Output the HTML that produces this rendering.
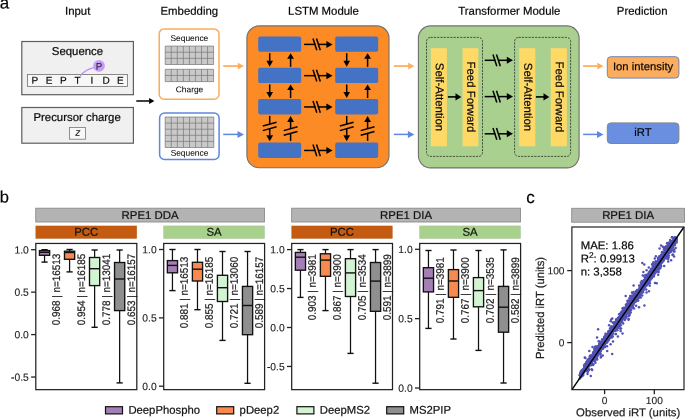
<!DOCTYPE html>
<html><head><meta charset="utf-8"><style>
html,body{margin:0;padding:0;background:#fff;width:685px;height:419px;overflow:hidden;}
svg{display:block;will-change:transform;}
text{font-family:"Liberation Sans",sans-serif;text-rendering:geometricPrecision;stroke:#1a1a1a;stroke-width:0.22px;}
</style></head><body>
<svg width="685" height="419" viewBox="0 0 685 419" font-family="Liberation Sans, sans-serif">
<text x="-0.2" y="8.6" font-size="17" text-anchor="start" fill="#000" transform="rotate(0.03 -0.2 8.6)" >a</text>
<text x="77.7" y="14.7" font-size="11.4" text-anchor="middle" fill="#000" transform="rotate(0.03 77.7 14.7)" >Input</text>
<text x="189.3" y="14.7" font-size="11.4" text-anchor="middle" fill="#000" transform="rotate(0.03 189.3 14.7)" >Embedding</text>
<text x="323.5" y="14.7" font-size="11.4" text-anchor="middle" fill="#000" transform="rotate(0.03 323.5 14.7)" >LSTM Module</text>
<text x="509.3" y="14.7" font-size="11.4" text-anchor="middle" fill="#000" transform="rotate(0.03 509.3 14.7)" >Transformer Module</text>
<text x="642.2" y="14.7" font-size="11.4" text-anchor="middle" fill="#000" transform="rotate(0.03 642.2 14.7)" >Prediction</text>
<rect x="21.80" y="41.50" width="111.60" height="53.20" rx="0" fill="#f0f0f0" stroke="#5e5e5e" stroke-width="1.2" />
<text x="77.5" y="55.0" font-size="11.4" text-anchor="middle" fill="#000" transform="rotate(0.03 77.5 55.0)" >Sequence</text>
<rect x="27.40" y="74.50" width="100.10" height="11.90" rx="0" fill="#f7f7f7" stroke="#777" stroke-width="0.85" />
<text x="34.75" y="83.8" font-size="10" text-anchor="middle" fill="#000" style="stroke-width:0.2px" transform="rotate(0.03 34.75 83.8)" >P</text>
<text x="49.02" y="83.8" font-size="10" text-anchor="middle" fill="#000" style="stroke-width:0.2px" transform="rotate(0.03 49.02 83.8)" >E</text>
<text x="63.29" y="83.8" font-size="10" text-anchor="middle" fill="#000" style="stroke-width:0.2px" transform="rotate(0.03 63.29 83.8)" >P</text>
<text x="77.56" y="83.8" font-size="10" text-anchor="middle" fill="#000" style="stroke-width:0.2px" transform="rotate(0.03 77.56 83.8)" >T</text>
<text x="91.83" y="83.8" font-size="10" text-anchor="middle" fill="#000" style="stroke-width:0.2px" transform="rotate(0.03 91.83 83.8)" >I</text>
<text x="106.10" y="83.8" font-size="10" text-anchor="middle" fill="#000" style="stroke-width:0.2px" transform="rotate(0.03 106.10 83.8)" >D</text>
<text x="120.37" y="83.8" font-size="10" text-anchor="middle" fill="#000" style="stroke-width:0.2px" transform="rotate(0.03 120.37 83.8)" >E</text>
<path d="M80.2,76 Q85,69.5 93.8,67.6" fill="none" stroke="#bd8ef2" stroke-width="1.3"/>
<circle cx="99" cy="65.95" r="5.9" fill="#c79cf6"/>
<text x="99.0" y="69.8" font-size="9.7" text-anchor="middle" fill="#111" style="stroke-width:0.0px" transform="rotate(0.03 99.0 69.8)" >P</text>
<rect x="21.80" y="107.50" width="111.60" height="35.70" rx="0" fill="#f0f0f0" stroke="#5e5e5e" stroke-width="1.2" />
<text x="77.1" y="121.1" font-size="11.4" text-anchor="middle" fill="#000" transform="rotate(0.03 77.1 121.1)" >Precursor charge</text>
<rect x="69.50" y="127.40" width="16.00" height="11.80" rx="0" fill="#f8f8f8" stroke="#777" stroke-width="0.8" />
<text x="77.8" y="135.8" font-size="10.4" text-anchor="middle" fill="#111" style="stroke-width:0.12px" transform="rotate(0.03 77.8 135.8)" font-style="italic">z</text>
<line x1="136.30" y1="101.00" x2="149.60" y2="101.00" stroke="#000" stroke-width="1.5" />
<polygon points="149.10,97.90 154.40,101.00 149.10,104.10" fill="#000"/>
<rect x="159.20" y="28.90" width="59.80" height="70.30" rx="5" fill="#fff" stroke="#fbab5c" stroke-width="1.5" />
<text x="189.4" y="41.1" font-size="8.4" text-anchor="middle" fill="#000" style="stroke-width:0.05px" transform="rotate(0.03 189.4 41.1)" >Sequence</text>
<rect x="165.20" y="46.10" width="48.40" height="18.40" rx="0" fill="#c9c9c9" stroke="none" stroke-width="1" />
<line x1="165.20" y1="46.10" x2="165.20" y2="64.50" stroke="#7b7b7b" stroke-width="0.75" />
<line x1="171.25" y1="46.10" x2="171.25" y2="64.50" stroke="#7b7b7b" stroke-width="0.75" />
<line x1="177.30" y1="46.10" x2="177.30" y2="64.50" stroke="#7b7b7b" stroke-width="0.75" />
<line x1="183.35" y1="46.10" x2="183.35" y2="64.50" stroke="#7b7b7b" stroke-width="0.75" />
<line x1="189.40" y1="46.10" x2="189.40" y2="64.50" stroke="#7b7b7b" stroke-width="0.75" />
<line x1="195.45" y1="46.10" x2="195.45" y2="64.50" stroke="#7b7b7b" stroke-width="0.75" />
<line x1="201.50" y1="46.10" x2="201.50" y2="64.50" stroke="#7b7b7b" stroke-width="0.75" />
<line x1="207.55" y1="46.10" x2="207.55" y2="64.50" stroke="#7b7b7b" stroke-width="0.75" />
<line x1="213.60" y1="46.10" x2="213.60" y2="64.50" stroke="#7b7b7b" stroke-width="0.75" />
<line x1="165.20" y1="46.10" x2="213.60" y2="46.10" stroke="#7b7b7b" stroke-width="0.75" />
<line x1="165.20" y1="52.23" x2="213.60" y2="52.23" stroke="#7b7b7b" stroke-width="0.75" />
<line x1="165.20" y1="58.37" x2="213.60" y2="58.37" stroke="#7b7b7b" stroke-width="0.75" />
<line x1="165.20" y1="64.50" x2="213.60" y2="64.50" stroke="#7b7b7b" stroke-width="0.75" />
<rect x="165.20" y="69.30" width="48.40" height="12.30" rx="0" fill="#c9c9c9" stroke="none" stroke-width="1" />
<line x1="165.20" y1="69.30" x2="165.20" y2="81.60" stroke="#7b7b7b" stroke-width="0.75" />
<line x1="171.25" y1="69.30" x2="171.25" y2="81.60" stroke="#7b7b7b" stroke-width="0.75" />
<line x1="177.30" y1="69.30" x2="177.30" y2="81.60" stroke="#7b7b7b" stroke-width="0.75" />
<line x1="183.35" y1="69.30" x2="183.35" y2="81.60" stroke="#7b7b7b" stroke-width="0.75" />
<line x1="189.40" y1="69.30" x2="189.40" y2="81.60" stroke="#7b7b7b" stroke-width="0.75" />
<line x1="195.45" y1="69.30" x2="195.45" y2="81.60" stroke="#7b7b7b" stroke-width="0.75" />
<line x1="201.50" y1="69.30" x2="201.50" y2="81.60" stroke="#7b7b7b" stroke-width="0.75" />
<line x1="207.55" y1="69.30" x2="207.55" y2="81.60" stroke="#7b7b7b" stroke-width="0.75" />
<line x1="213.60" y1="69.30" x2="213.60" y2="81.60" stroke="#7b7b7b" stroke-width="0.75" />
<line x1="165.20" y1="69.30" x2="213.60" y2="69.30" stroke="#7b7b7b" stroke-width="0.75" />
<line x1="165.20" y1="75.45" x2="213.60" y2="75.45" stroke="#7b7b7b" stroke-width="0.75" />
<line x1="165.20" y1="81.60" x2="213.60" y2="81.60" stroke="#7b7b7b" stroke-width="0.75" />
<text x="189.5" y="92.2" font-size="8.4" text-anchor="middle" fill="#000" style="stroke-width:0.05px" transform="rotate(0.03 189.5 92.2)" >Charge</text>
<rect x="159.60" y="113.10" width="59.50" height="46.30" rx="5" fill="#fff" stroke="#5d88e0" stroke-width="1.5" />
<rect x="165.20" y="117.00" width="48.60" height="30.50" rx="0" fill="#c9c9c9" stroke="none" stroke-width="1" />
<line x1="165.20" y1="117.00" x2="165.20" y2="147.50" stroke="#7b7b7b" stroke-width="0.75" />
<line x1="171.27" y1="117.00" x2="171.27" y2="147.50" stroke="#7b7b7b" stroke-width="0.75" />
<line x1="177.35" y1="117.00" x2="177.35" y2="147.50" stroke="#7b7b7b" stroke-width="0.75" />
<line x1="183.43" y1="117.00" x2="183.43" y2="147.50" stroke="#7b7b7b" stroke-width="0.75" />
<line x1="189.50" y1="117.00" x2="189.50" y2="147.50" stroke="#7b7b7b" stroke-width="0.75" />
<line x1="195.57" y1="117.00" x2="195.57" y2="147.50" stroke="#7b7b7b" stroke-width="0.75" />
<line x1="201.65" y1="117.00" x2="201.65" y2="147.50" stroke="#7b7b7b" stroke-width="0.75" />
<line x1="207.73" y1="117.00" x2="207.73" y2="147.50" stroke="#7b7b7b" stroke-width="0.75" />
<line x1="213.80" y1="117.00" x2="213.80" y2="147.50" stroke="#7b7b7b" stroke-width="0.75" />
<line x1="165.20" y1="117.00" x2="213.80" y2="117.00" stroke="#7b7b7b" stroke-width="0.75" />
<line x1="165.20" y1="123.10" x2="213.80" y2="123.10" stroke="#7b7b7b" stroke-width="0.75" />
<line x1="165.20" y1="129.20" x2="213.80" y2="129.20" stroke="#7b7b7b" stroke-width="0.75" />
<line x1="165.20" y1="135.30" x2="213.80" y2="135.30" stroke="#7b7b7b" stroke-width="0.75" />
<line x1="165.20" y1="141.40" x2="213.80" y2="141.40" stroke="#7b7b7b" stroke-width="0.75" />
<line x1="165.20" y1="147.50" x2="213.80" y2="147.50" stroke="#7b7b7b" stroke-width="0.75" />
<text x="189.5" y="155.8" font-size="8.4" text-anchor="middle" fill="#000" style="stroke-width:0.05px" transform="rotate(0.03 189.5 155.8)" >Sequence</text>
<line x1="223.20" y1="66.05" x2="238.30" y2="66.05" stroke="#fdae5c" stroke-width="1.75" />
<polygon points="237.80,62.70 244.00,66.05 237.80,69.40" fill="#fdae5c"/>
<line x1="223.20" y1="134.40" x2="238.00" y2="134.40" stroke="#5d88e0" stroke-width="1.5" />
<polygon points="237.50,130.90 244.00,134.40 237.50,137.90" fill="#5d88e0"/>
<line x1="393.90" y1="66.05" x2="408.70" y2="66.05" stroke="#fdae5c" stroke-width="1.75" />
<polygon points="408.20,62.70 414.40,66.05 408.20,69.40" fill="#fdae5c"/>
<line x1="393.90" y1="134.40" x2="408.40" y2="134.40" stroke="#5d88e0" stroke-width="1.5" />
<polygon points="407.90,130.90 414.40,134.40 407.90,137.90" fill="#5d88e0"/>
<line x1="583.10" y1="66.05" x2="597.80" y2="66.05" stroke="#fdae5c" stroke-width="1.75" />
<polygon points="597.30,62.70 603.50,66.05 597.30,69.40" fill="#fdae5c"/>
<line x1="583.10" y1="134.40" x2="597.50" y2="134.40" stroke="#5d88e0" stroke-width="1.5" />
<polygon points="597.00,130.90 603.50,134.40 597.00,137.90" fill="#5d88e0"/>
<rect x="246.90" y="25.90" width="142.10" height="141.80" rx="12.3" fill="#fd8b25" stroke="#707070" stroke-width="1.1" />
<rect x="258.20" y="36.40" width="43.00" height="15.40" rx="1.8" fill="#4472c4" stroke="none" stroke-width="1" />
<rect x="258.20" y="67.70" width="43.00" height="15.30" rx="1.8" fill="#4472c4" stroke="none" stroke-width="1" />
<rect x="258.20" y="98.90" width="43.00" height="15.50" rx="1.8" fill="#4472c4" stroke="none" stroke-width="1" />
<rect x="258.20" y="142.40" width="43.00" height="15.50" rx="1.8" fill="#4472c4" stroke="none" stroke-width="1" />
<rect x="335.20" y="36.40" width="43.00" height="15.40" rx="1.8" fill="#4472c4" stroke="none" stroke-width="1" />
<rect x="335.20" y="67.70" width="43.00" height="15.30" rx="1.8" fill="#4472c4" stroke="none" stroke-width="1" />
<rect x="335.20" y="98.90" width="43.00" height="15.50" rx="1.8" fill="#4472c4" stroke="none" stroke-width="1" />
<rect x="335.20" y="142.40" width="43.00" height="15.50" rx="1.8" fill="#4472c4" stroke="none" stroke-width="1" />
<line x1="269.70" y1="53.20" x2="269.70" y2="61.30" stroke="#000" stroke-width="1.5" />
<polygon points="266.40,60.80 269.70,66.80 273.00,60.80" fill="#000"/>
<line x1="290.60" y1="66.80" x2="290.60" y2="58.30" stroke="#000" stroke-width="1.5" />
<polygon points="287.20,58.80 290.60,53.20 294.00,58.80" fill="#000"/>
<line x1="269.70" y1="84.40" x2="269.70" y2="92.50" stroke="#000" stroke-width="1.5" />
<polygon points="266.40,92.00 269.70,98.00 273.00,92.00" fill="#000"/>
<line x1="290.60" y1="98.00" x2="290.60" y2="89.50" stroke="#000" stroke-width="1.5" />
<polygon points="287.20,90.00 290.60,84.40 294.00,90.00" fill="#000"/>
<line x1="269.70" y1="115.90" x2="269.70" y2="124.10" stroke="#000" stroke-width="1.5" />
<line x1="269.70" y1="128.70" x2="269.70" y2="135.80" stroke="#000" stroke-width="1.5" />
<polygon points="266.30,135.30 269.70,141.30 273.10,135.30" fill="#000"/>
<line x1="262.80" y1="126.00" x2="276.60" y2="122.20" stroke="#000" stroke-width="1.5" />
<line x1="262.80" y1="130.60" x2="276.60" y2="126.80" stroke="#000" stroke-width="1.5" />
<line x1="290.60" y1="140.90" x2="290.60" y2="133.40" stroke="#000" stroke-width="1.5" />
<line x1="290.60" y1="128.70" x2="290.60" y2="121.50" stroke="#000" stroke-width="1.5" />
<polygon points="287.20,122.00 290.60,116.00 294.00,122.00" fill="#000"/>
<line x1="283.70" y1="130.60" x2="297.50" y2="126.80" stroke="#000" stroke-width="1.5" />
<line x1="283.70" y1="135.30" x2="297.50" y2="131.50" stroke="#000" stroke-width="1.5" />
<line x1="346.70" y1="53.20" x2="346.70" y2="61.30" stroke="#000" stroke-width="1.5" />
<polygon points="343.40,60.80 346.70,66.80 350.00,60.80" fill="#000"/>
<line x1="367.60" y1="66.80" x2="367.60" y2="58.30" stroke="#000" stroke-width="1.5" />
<polygon points="364.20,58.80 367.60,53.20 371.00,58.80" fill="#000"/>
<line x1="346.70" y1="84.40" x2="346.70" y2="92.50" stroke="#000" stroke-width="1.5" />
<polygon points="343.40,92.00 346.70,98.00 350.00,92.00" fill="#000"/>
<line x1="367.60" y1="98.00" x2="367.60" y2="89.50" stroke="#000" stroke-width="1.5" />
<polygon points="364.20,90.00 367.60,84.40 371.00,90.00" fill="#000"/>
<line x1="346.70" y1="115.90" x2="346.70" y2="124.10" stroke="#000" stroke-width="1.5" />
<line x1="346.70" y1="128.70" x2="346.70" y2="135.80" stroke="#000" stroke-width="1.5" />
<polygon points="343.30,135.30 346.70,141.30 350.10,135.30" fill="#000"/>
<line x1="339.80" y1="126.00" x2="353.60" y2="122.20" stroke="#000" stroke-width="1.5" />
<line x1="339.80" y1="130.60" x2="353.60" y2="126.80" stroke="#000" stroke-width="1.5" />
<line x1="367.60" y1="140.90" x2="367.60" y2="133.40" stroke="#000" stroke-width="1.5" />
<line x1="367.60" y1="128.70" x2="367.60" y2="121.50" stroke="#000" stroke-width="1.5" />
<polygon points="364.20,122.00 367.60,116.00 371.00,122.00" fill="#000"/>
<line x1="360.70" y1="130.60" x2="374.50" y2="126.80" stroke="#000" stroke-width="1.5" />
<line x1="360.70" y1="135.30" x2="374.50" y2="131.50" stroke="#000" stroke-width="1.5" />
<line x1="304.10" y1="44.40" x2="315.40" y2="44.40" stroke="#000" stroke-width="1.5" />
<line x1="318.90" y1="44.40" x2="326.90" y2="44.40" stroke="#000" stroke-width="1.5" />
<polygon points="326.40,40.90 332.60,44.40 326.40,47.90" fill="#000"/>
<line x1="313.00" y1="38.50" x2="316.80" y2="50.30" stroke="#000" stroke-width="1.5" />
<line x1="316.50" y1="38.50" x2="320.30" y2="50.30" stroke="#000" stroke-width="1.5" />
<line x1="304.10" y1="75.65" x2="315.40" y2="75.65" stroke="#000" stroke-width="1.5" />
<line x1="318.90" y1="75.65" x2="326.90" y2="75.65" stroke="#000" stroke-width="1.5" />
<polygon points="326.40,72.15 332.60,75.65 326.40,79.15" fill="#000"/>
<line x1="313.00" y1="69.75" x2="316.80" y2="81.55" stroke="#000" stroke-width="1.5" />
<line x1="316.50" y1="69.75" x2="320.30" y2="81.55" stroke="#000" stroke-width="1.5" />
<line x1="304.10" y1="106.95" x2="315.40" y2="106.95" stroke="#000" stroke-width="1.5" />
<line x1="318.90" y1="106.95" x2="326.90" y2="106.95" stroke="#000" stroke-width="1.5" />
<polygon points="326.40,103.45 332.60,106.95 326.40,110.45" fill="#000"/>
<line x1="313.00" y1="101.05" x2="316.80" y2="112.85" stroke="#000" stroke-width="1.5" />
<line x1="316.50" y1="101.05" x2="320.30" y2="112.85" stroke="#000" stroke-width="1.5" />
<line x1="304.10" y1="150.45" x2="315.40" y2="150.45" stroke="#000" stroke-width="1.5" />
<line x1="318.90" y1="150.45" x2="326.90" y2="150.45" stroke="#000" stroke-width="1.5" />
<polygon points="326.40,146.95 332.60,150.45 326.40,153.95" fill="#000"/>
<line x1="313.00" y1="144.55" x2="316.80" y2="156.35" stroke="#000" stroke-width="1.5" />
<line x1="316.50" y1="144.55" x2="320.30" y2="156.35" stroke="#000" stroke-width="1.5" />
<rect x="418.40" y="25.90" width="160.70" height="142.00" rx="12.3" fill="#a9d08e" stroke="#707070" stroke-width="1.1" />
<rect x="426.50" y="37.40" width="56.00" height="119.00" rx="4" fill="none" stroke="#2a2a2a" stroke-width="0.75" stroke-dasharray="2.2,1.1"/>
<rect x="514.60" y="37.40" width="56.00" height="119.00" rx="4" fill="none" stroke="#2a2a2a" stroke-width="0.75" stroke-dasharray="2.2,1.1"/>
<rect x="430.80" y="48.20" width="16.10" height="98.10" rx="0" fill="#ffd966" stroke="none" stroke-width="1" />
<rect x="462.60" y="48.20" width="15.70" height="98.10" rx="0" fill="#ffd966" stroke="none" stroke-width="1" />
<rect x="519.20" y="48.20" width="16.10" height="98.10" rx="0" fill="#ffd966" stroke="none" stroke-width="1" />
<rect x="550.70" y="48.20" width="16.10" height="98.10" rx="0" fill="#ffd966" stroke="none" stroke-width="1" />
<text x="0" y="0" font-size="11.4" text-anchor="middle" transform="translate(435.75,97) rotate(90.03)">Self-Attention</text>
<text x="0" y="0" font-size="11.4" text-anchor="middle" transform="translate(467.35,97) rotate(90.03)">Feed Forward</text>
<text x="0" y="0" font-size="11.4" text-anchor="middle" transform="translate(524.15,97) rotate(90.03)">Self-Attention</text>
<text x="0" y="0" font-size="11.4" text-anchor="middle" transform="translate(555.65,97) rotate(90.03)">Feed Forward</text>
<line x1="447.90" y1="96.90" x2="456.00" y2="96.90" stroke="#000" stroke-width="1.6" />
<polygon points="455.50,93.30 461.30,96.90 455.50,100.50" fill="#000"/>
<line x1="535.90" y1="96.90" x2="544.00" y2="96.90" stroke="#000" stroke-width="1.6" />
<polygon points="543.50,93.30 549.30,96.90 543.50,100.50" fill="#000"/>
<line x1="484.70" y1="60.30" x2="495.40" y2="60.30" stroke="#000" stroke-width="1.5" />
<line x1="498.90" y1="60.30" x2="507.30" y2="60.30" stroke="#000" stroke-width="1.5" />
<polygon points="506.80,56.80 513.00,60.30 506.80,63.80" fill="#000"/>
<line x1="493.00" y1="54.40" x2="496.80" y2="66.20" stroke="#000" stroke-width="1.5" />
<line x1="496.50" y1="54.40" x2="500.30" y2="66.20" stroke="#000" stroke-width="1.5" />
<line x1="484.70" y1="96.60" x2="495.40" y2="96.60" stroke="#000" stroke-width="1.5" />
<line x1="498.90" y1="96.60" x2="507.30" y2="96.60" stroke="#000" stroke-width="1.5" />
<polygon points="506.80,93.10 513.00,96.60 506.80,100.10" fill="#000"/>
<line x1="493.00" y1="90.70" x2="496.80" y2="102.50" stroke="#000" stroke-width="1.5" />
<line x1="496.50" y1="90.70" x2="500.30" y2="102.50" stroke="#000" stroke-width="1.5" />
<line x1="484.70" y1="133.80" x2="495.40" y2="133.80" stroke="#000" stroke-width="1.5" />
<line x1="498.90" y1="133.80" x2="507.30" y2="133.80" stroke="#000" stroke-width="1.5" />
<polygon points="506.80,130.30 513.00,133.80 506.80,137.30" fill="#000"/>
<line x1="493.00" y1="127.90" x2="496.80" y2="139.70" stroke="#000" stroke-width="1.5" />
<line x1="496.50" y1="127.90" x2="500.30" y2="139.70" stroke="#000" stroke-width="1.5" />
<rect x="607.30" y="56.70" width="71.60" height="21.40" rx="3.5" fill="#fbac5c" stroke="#6f86b5" stroke-width="1" />
<text x="643.1" y="70.2" font-size="11.3" text-anchor="middle" fill="#000" transform="rotate(0.03 643.1 70.2)" >Ion intensity</text>
<rect x="607.30" y="122.90" width="71.60" height="20.60" rx="3.5" fill="#6a8fe0" stroke="#7f8590" stroke-width="1" />
<text x="643.0" y="135.9" font-size="11.3" text-anchor="middle" fill="#000" transform="rotate(0.03 643.0 135.9)" >iRT</text>
<text x="-0.2" y="202.6" font-size="16.5" text-anchor="start" fill="#000" transform="rotate(0.03 -0.2 202.6)" >b</text>
<rect x="35.75" y="208.20" width="228.70" height="13.80" rx="0" fill="#b3b3b3" stroke="#8c8c8c" stroke-width="0.9" />
<text x="150.1" y="218.9" font-size="11.4" text-anchor="middle" fill="#111" transform="rotate(0.03 150.1 218.9)" >RPE1 DDA</text>
<rect x="291.65" y="208.20" width="228.80" height="13.80" rx="0" fill="#b3b3b3" stroke="#8c8c8c" stroke-width="0.9" />
<text x="406.04999999999995" y="218.9" font-size="11.4" text-anchor="middle" fill="#111" transform="rotate(0.03 406.04999999999995 218.9)" >RPE1 DIA</text>
<rect x="571.70" y="208.30" width="112.80" height="13.90" rx="0" fill="#b3b3b3" stroke="#8c8c8c" stroke-width="0.9" />
<text x="628.1" y="219.1" font-size="11.4" text-anchor="middle" fill="#111" transform="rotate(0.03 628.1 219.1)" >RPE1 DIA</text>
<rect x="35.60" y="225.80" width="101.20" height="12.80" rx="0" fill="#c55a11" stroke="rgba(0,0,0,0.12)" stroke-width="0.6" />
<text x="86.19999999999999" y="235.79999999999998" font-size="11.4" text-anchor="middle" fill="#111" transform="rotate(0.03 86.19999999999999 235.79999999999998)" >PCC</text>
<rect x="163.50" y="225.80" width="101.10" height="12.80" rx="0" fill="#a9d18e" stroke="rgba(0,0,0,0.12)" stroke-width="0.6" />
<text x="214.04999999999998" y="235.79999999999998" font-size="11.4" text-anchor="middle" fill="#111" transform="rotate(0.03 214.04999999999998 235.79999999999998)" >SA</text>
<rect x="291.50" y="225.80" width="101.00" height="12.80" rx="0" fill="#c55a11" stroke="rgba(0,0,0,0.12)" stroke-width="0.6" />
<text x="342.0" y="235.79999999999998" font-size="11.4" text-anchor="middle" fill="#111" transform="rotate(0.03 342.0 235.79999999999998)" >PCC</text>
<rect x="419.50" y="225.80" width="101.10" height="12.80" rx="0" fill="#a9d18e" stroke="rgba(0,0,0,0.12)" stroke-width="0.6" />
<text x="470.05" y="235.79999999999998" font-size="11.4" text-anchor="middle" fill="#111" transform="rotate(0.03 470.05 235.79999999999998)" >SA</text>
<line x1="31.10" y1="249.70" x2="35.80" y2="249.70" stroke="#222" stroke-width="1.3" />
<text x="28.799999999999997" y="253.39999999999998" font-size="10.3" text-anchor="end" fill="#222" style="stroke-width:0.12px" transform="rotate(0.03 28.799999999999997 253.39999999999998)" >1.0</text>
<line x1="31.10" y1="292.15" x2="35.80" y2="292.15" stroke="#222" stroke-width="1.3" />
<text x="28.799999999999997" y="295.84999999999997" font-size="10.3" text-anchor="end" fill="#222" style="stroke-width:0.12px" transform="rotate(0.03 28.799999999999997 295.84999999999997)" >0.5</text>
<line x1="31.10" y1="334.60" x2="35.80" y2="334.60" stroke="#222" stroke-width="1.3" />
<text x="28.799999999999997" y="338.3" font-size="10.3" text-anchor="end" fill="#222" style="stroke-width:0.12px" transform="rotate(0.03 28.799999999999997 338.3)" >0.0</text>
<line x1="31.10" y1="377.05" x2="35.80" y2="377.05" stroke="#222" stroke-width="1.3" />
<text x="28.799999999999997" y="380.75000000000006" font-size="10.3" text-anchor="end" fill="#222" style="stroke-width:0.12px" transform="rotate(0.03 28.799999999999997 380.75000000000006)" >-0.5</text>
<line x1="44.55" y1="249.70" x2="44.55" y2="262.10" stroke="#111" stroke-width="1.25" />
<line x1="41.45" y1="249.70" x2="47.65" y2="249.70" stroke="#111" stroke-width="1.4" />
<line x1="41.45" y1="262.10" x2="47.65" y2="262.10" stroke="#111" stroke-width="1.4" />
<rect x="39.45" y="250.60" width="10.20" height="4.70" rx="0" fill="#a47fb5" stroke="#111" stroke-width="1.35" />
<line x1="39.45" y1="252.30" x2="49.65" y2="252.30" stroke="#111" stroke-width="1.4" />
<line x1="69.58" y1="249.50" x2="69.58" y2="271.90" stroke="#111" stroke-width="1.25" />
<line x1="66.48" y1="249.50" x2="72.68" y2="249.50" stroke="#111" stroke-width="1.4" />
<line x1="66.48" y1="271.90" x2="72.68" y2="271.90" stroke="#111" stroke-width="1.4" />
<rect x="64.48" y="251.20" width="10.20" height="8.10" rx="0" fill="#f98a4f" stroke="#111" stroke-width="1.35" />
<line x1="64.48" y1="252.50" x2="74.68" y2="252.50" stroke="#111" stroke-width="1.4" />
<line x1="94.61" y1="250.00" x2="94.61" y2="327.30" stroke="#111" stroke-width="1.25" />
<line x1="91.51" y1="250.00" x2="97.71" y2="250.00" stroke="#111" stroke-width="1.4" />
<line x1="91.51" y1="327.30" x2="97.71" y2="327.30" stroke="#111" stroke-width="1.4" />
<rect x="89.51" y="257.50" width="10.20" height="28.10" rx="0" fill="#d3f4d3" stroke="#111" stroke-width="1.35" />
<line x1="89.51" y1="268.70" x2="99.71" y2="268.70" stroke="#111" stroke-width="1.4" />
<line x1="119.64" y1="250.00" x2="119.64" y2="382.90" stroke="#111" stroke-width="1.25" />
<line x1="116.54" y1="250.00" x2="122.74" y2="250.00" stroke="#111" stroke-width="1.4" />
<line x1="116.54" y1="382.90" x2="122.74" y2="382.90" stroke="#111" stroke-width="1.4" />
<rect x="114.54" y="262.50" width="10.20" height="48.10" rx="0" fill="#8f8f8f" stroke="#111" stroke-width="1.35" />
<line x1="114.54" y1="279.00" x2="124.74" y2="279.00" stroke="#111" stroke-width="1.4" />
<text x="0" y="0" font-size="9.9" text-anchor="end" fill="#222" transform="translate(59.90,253.80) rotate(-89.97) scale(1,1.1)">0.968 | n=16513</text>
<text x="0" y="0" font-size="9.9" text-anchor="end" fill="#222" transform="translate(84.93,253.80) rotate(-89.97) scale(1,1.1)">0.954 | n=16185</text>
<text x="0" y="0" font-size="9.9" text-anchor="end" fill="#222" transform="translate(109.96,253.80) rotate(-89.97) scale(1,1.1)">0.778 | n=13041</text>
<text x="0" y="0" font-size="9.9" text-anchor="end" fill="#222" transform="translate(134.99,253.80) rotate(-89.97) scale(1,1.1)">0.653 | n=16157</text>
<rect x="35.80" y="243.45" width="101.00" height="146.20" rx="0" fill="none" stroke="#222" stroke-width="1.25" />
<line x1="159.00" y1="249.50" x2="163.70" y2="249.50" stroke="#222" stroke-width="1.3" />
<text x="156.7" y="253.2" font-size="10.3" text-anchor="end" fill="#222" style="stroke-width:0.12px" transform="rotate(0.03 156.7 253.2)" >1.0</text>
<line x1="159.00" y1="317.85" x2="163.70" y2="317.85" stroke="#222" stroke-width="1.3" />
<text x="156.7" y="321.55" font-size="10.3" text-anchor="end" fill="#222" style="stroke-width:0.12px" transform="rotate(0.03 156.7 321.55)" >0.5</text>
<line x1="159.00" y1="386.20" x2="163.70" y2="386.20" stroke="#222" stroke-width="1.3" />
<text x="156.7" y="389.9" font-size="10.3" text-anchor="end" fill="#222" style="stroke-width:0.12px" transform="rotate(0.03 156.7 389.9)" >0.0</text>
<line x1="172.45" y1="249.50" x2="172.45" y2="290.60" stroke="#111" stroke-width="1.25" />
<line x1="169.35" y1="249.50" x2="175.55" y2="249.50" stroke="#111" stroke-width="1.4" />
<line x1="169.35" y1="290.60" x2="175.55" y2="290.60" stroke="#111" stroke-width="1.4" />
<rect x="167.35" y="260.60" width="10.20" height="12.20" rx="0" fill="#a47fb5" stroke="#111" stroke-width="1.35" />
<line x1="167.35" y1="265.40" x2="177.55" y2="265.40" stroke="#111" stroke-width="1.4" />
<line x1="197.48" y1="249.50" x2="197.48" y2="309.70" stroke="#111" stroke-width="1.25" />
<line x1="194.38" y1="249.50" x2="200.58" y2="249.50" stroke="#111" stroke-width="1.4" />
<line x1="194.38" y1="309.70" x2="200.58" y2="309.70" stroke="#111" stroke-width="1.4" />
<rect x="192.38" y="262.30" width="10.20" height="18.70" rx="0" fill="#f98a4f" stroke="#111" stroke-width="1.35" />
<line x1="192.38" y1="269.20" x2="202.58" y2="269.20" stroke="#111" stroke-width="1.4" />
<line x1="222.51" y1="251.50" x2="222.51" y2="340.40" stroke="#111" stroke-width="1.25" />
<line x1="219.41" y1="251.50" x2="225.61" y2="251.50" stroke="#111" stroke-width="1.4" />
<line x1="219.41" y1="340.40" x2="225.61" y2="340.40" stroke="#111" stroke-width="1.4" />
<rect x="217.41" y="275.30" width="10.20" height="26.20" rx="0" fill="#d3f4d3" stroke="#111" stroke-width="1.35" />
<line x1="217.41" y1="287.70" x2="227.61" y2="287.70" stroke="#111" stroke-width="1.4" />
<line x1="247.54" y1="251.50" x2="247.54" y2="383.30" stroke="#111" stroke-width="1.25" />
<line x1="244.44" y1="251.50" x2="250.64" y2="251.50" stroke="#111" stroke-width="1.4" />
<line x1="244.44" y1="383.30" x2="250.64" y2="383.30" stroke="#111" stroke-width="1.4" />
<rect x="242.44" y="286.40" width="10.20" height="48.30" rx="0" fill="#8f8f8f" stroke="#111" stroke-width="1.35" />
<line x1="242.44" y1="305.50" x2="252.64" y2="305.50" stroke="#111" stroke-width="1.4" />
<text x="0" y="0" font-size="9.9" text-anchor="end" fill="#222" transform="translate(187.80,256.80) rotate(-89.97) scale(1,1.1)">0.881 | n=16513</text>
<text x="0" y="0" font-size="9.9" text-anchor="end" fill="#222" transform="translate(212.83,256.80) rotate(-89.97) scale(1,1.1)">0.855 | n=16185</text>
<text x="0" y="0" font-size="9.9" text-anchor="end" fill="#222" transform="translate(237.86,256.80) rotate(-89.97) scale(1,1.1)">0.721 | n=13060</text>
<text x="0" y="0" font-size="9.9" text-anchor="end" fill="#222" transform="translate(262.89,256.80) rotate(-89.97) scale(1,1.1)">0.589 | n=16157</text>
<rect x="163.70" y="243.45" width="100.90" height="146.20" rx="0" fill="none" stroke="#222" stroke-width="1.25" />
<line x1="287.00" y1="249.60" x2="291.70" y2="249.60" stroke="#222" stroke-width="1.3" />
<text x="284.7" y="253.29999999999998" font-size="10.3" text-anchor="end" fill="#222" style="stroke-width:0.12px" transform="rotate(0.03 284.7 253.29999999999998)" >1.0</text>
<line x1="287.00" y1="288.55" x2="291.70" y2="288.55" stroke="#222" stroke-width="1.3" />
<text x="284.7" y="292.25" font-size="10.3" text-anchor="end" fill="#222" style="stroke-width:0.12px" transform="rotate(0.03 284.7 292.25)" >0.5</text>
<line x1="287.00" y1="327.50" x2="291.70" y2="327.50" stroke="#222" stroke-width="1.3" />
<text x="284.7" y="331.2" font-size="10.3" text-anchor="end" fill="#222" style="stroke-width:0.12px" transform="rotate(0.03 284.7 331.2)" >0.0</text>
<line x1="287.00" y1="366.45" x2="291.70" y2="366.45" stroke="#222" stroke-width="1.3" />
<text x="284.7" y="370.15" font-size="10.3" text-anchor="end" fill="#222" style="stroke-width:0.12px" transform="rotate(0.03 284.7 370.15)" >-0.5</text>
<line x1="300.45" y1="249.60" x2="300.45" y2="297.40" stroke="#111" stroke-width="1.25" />
<line x1="297.35" y1="249.60" x2="303.55" y2="249.60" stroke="#111" stroke-width="1.4" />
<line x1="297.35" y1="297.40" x2="303.55" y2="297.40" stroke="#111" stroke-width="1.4" />
<rect x="295.35" y="252.40" width="10.20" height="17.80" rx="0" fill="#a47fb5" stroke="#111" stroke-width="1.35" />
<line x1="295.35" y1="257.20" x2="305.55" y2="257.20" stroke="#111" stroke-width="1.4" />
<line x1="325.48" y1="249.60" x2="325.48" y2="310.60" stroke="#111" stroke-width="1.25" />
<line x1="322.38" y1="249.60" x2="328.58" y2="249.60" stroke="#111" stroke-width="1.4" />
<line x1="322.38" y1="310.60" x2="328.58" y2="310.60" stroke="#111" stroke-width="1.4" />
<rect x="320.38" y="253.80" width="10.20" height="22.50" rx="0" fill="#f98a4f" stroke="#111" stroke-width="1.35" />
<line x1="320.38" y1="260.10" x2="330.58" y2="260.10" stroke="#111" stroke-width="1.4" />
<line x1="350.51" y1="249.60" x2="350.51" y2="353.40" stroke="#111" stroke-width="1.25" />
<line x1="347.41" y1="249.60" x2="353.61" y2="249.60" stroke="#111" stroke-width="1.4" />
<line x1="347.41" y1="353.40" x2="353.61" y2="353.40" stroke="#111" stroke-width="1.4" />
<rect x="345.41" y="258.70" width="10.20" height="37.80" rx="0" fill="#d3f4d3" stroke="#111" stroke-width="1.35" />
<line x1="345.41" y1="272.90" x2="355.61" y2="272.90" stroke="#111" stroke-width="1.4" />
<line x1="375.54" y1="249.60" x2="375.54" y2="383.20" stroke="#111" stroke-width="1.25" />
<line x1="372.44" y1="249.60" x2="378.64" y2="249.60" stroke="#111" stroke-width="1.4" />
<line x1="372.44" y1="383.20" x2="378.64" y2="383.20" stroke="#111" stroke-width="1.4" />
<rect x="370.44" y="262.50" width="10.20" height="48.80" rx="0" fill="#8f8f8f" stroke="#111" stroke-width="1.35" />
<line x1="370.44" y1="281.10" x2="380.64" y2="281.10" stroke="#111" stroke-width="1.4" />
<text x="0" y="0" font-size="9.9" text-anchor="end" fill="#222" transform="translate(315.80,254.30) rotate(-89.97) scale(1,1.1)">0.903 | n=3981</text>
<text x="0" y="0" font-size="9.9" text-anchor="end" fill="#222" transform="translate(340.83,254.30) rotate(-89.97) scale(1,1.1)">0.867 | n=3900</text>
<text x="0" y="0" font-size="9.9" text-anchor="end" fill="#222" transform="translate(365.86,254.30) rotate(-89.97) scale(1,1.1)">0.705 | n=3534</text>
<text x="0" y="0" font-size="9.9" text-anchor="end" fill="#222" transform="translate(390.89,254.30) rotate(-89.97) scale(1,1.1)">0.591 | n=3899</text>
<rect x="291.70" y="243.45" width="100.80" height="146.20" rx="0" fill="none" stroke="#222" stroke-width="1.25" />
<line x1="415.00" y1="249.30" x2="419.70" y2="249.30" stroke="#222" stroke-width="1.3" />
<text x="412.7" y="253.0" font-size="10.3" text-anchor="end" fill="#222" style="stroke-width:0.12px" transform="rotate(0.03 412.7 253.0)" >1.0</text>
<line x1="415.00" y1="318.65" x2="419.70" y2="318.65" stroke="#222" stroke-width="1.3" />
<text x="412.7" y="322.34999999999997" font-size="10.3" text-anchor="end" fill="#222" style="stroke-width:0.12px" transform="rotate(0.03 412.7 322.34999999999997)" >0.5</text>
<line x1="415.00" y1="388.00" x2="419.70" y2="388.00" stroke="#222" stroke-width="1.3" />
<text x="412.7" y="391.7" font-size="10.3" text-anchor="end" fill="#222" style="stroke-width:0.12px" transform="rotate(0.03 412.7 391.7)" >0.0</text>
<line x1="428.45" y1="250.50" x2="428.45" y2="328.40" stroke="#111" stroke-width="1.25" />
<line x1="425.35" y1="250.50" x2="431.55" y2="250.50" stroke="#111" stroke-width="1.4" />
<line x1="425.35" y1="328.40" x2="431.55" y2="328.40" stroke="#111" stroke-width="1.4" />
<rect x="423.35" y="267.70" width="10.20" height="24.20" rx="0" fill="#a47fb5" stroke="#111" stroke-width="1.35" />
<line x1="423.35" y1="278.20" x2="433.55" y2="278.20" stroke="#111" stroke-width="1.4" />
<line x1="453.48" y1="250.00" x2="453.48" y2="339.00" stroke="#111" stroke-width="1.25" />
<line x1="450.38" y1="250.00" x2="456.58" y2="250.00" stroke="#111" stroke-width="1.4" />
<line x1="450.38" y1="339.00" x2="456.58" y2="339.00" stroke="#111" stroke-width="1.4" />
<rect x="448.38" y="269.60" width="10.20" height="27.70" rx="0" fill="#f98a4f" stroke="#111" stroke-width="1.35" />
<line x1="448.38" y1="281.00" x2="458.58" y2="281.00" stroke="#111" stroke-width="1.4" />
<line x1="478.51" y1="250.50" x2="478.51" y2="350.40" stroke="#111" stroke-width="1.25" />
<line x1="475.41" y1="250.50" x2="481.61" y2="250.50" stroke="#111" stroke-width="1.4" />
<line x1="475.41" y1="350.40" x2="481.61" y2="350.40" stroke="#111" stroke-width="1.4" />
<rect x="473.41" y="277.60" width="10.20" height="29.20" rx="0" fill="#d3f4d3" stroke="#111" stroke-width="1.35" />
<line x1="473.41" y1="290.60" x2="483.61" y2="290.60" stroke="#111" stroke-width="1.4" />
<line x1="503.54" y1="249.90" x2="503.54" y2="383.00" stroke="#111" stroke-width="1.25" />
<line x1="500.44" y1="249.90" x2="506.64" y2="249.90" stroke="#111" stroke-width="1.4" />
<line x1="500.44" y1="383.00" x2="506.64" y2="383.00" stroke="#111" stroke-width="1.4" />
<rect x="498.44" y="286.40" width="10.20" height="45.80" rx="0" fill="#8f8f8f" stroke="#111" stroke-width="1.35" />
<line x1="498.44" y1="307.20" x2="508.64" y2="307.20" stroke="#111" stroke-width="1.4" />
<text x="0" y="0" font-size="9.9" text-anchor="end" fill="#222" transform="translate(443.80,257.20) rotate(-89.97) scale(1,1.1)">0.791 | n=3981</text>
<text x="0" y="0" font-size="9.9" text-anchor="end" fill="#222" transform="translate(468.83,257.20) rotate(-89.97) scale(1,1.1)">0.767 | n=3900</text>
<text x="0" y="0" font-size="9.9" text-anchor="end" fill="#222" transform="translate(493.86,257.20) rotate(-89.97) scale(1,1.1)">0.702 | n=3535</text>
<text x="0" y="0" font-size="9.9" text-anchor="end" fill="#222" transform="translate(518.89,257.20) rotate(-89.97) scale(1,1.1)">0.582 | n=3899</text>
<rect x="419.70" y="243.45" width="100.90" height="146.20" rx="0" fill="none" stroke="#222" stroke-width="1.25" />
<rect x="105.50" y="406.70" width="17.00" height="7.20" rx="0" fill="#a47fb5" stroke="#111" stroke-width="1.2" />
<text x="128.4" y="413.8" font-size="11.3" text-anchor="start" fill="#111" transform="rotate(0.03 128.4 413.8)" >DeepPhospho</text>
<rect x="216.70" y="406.70" width="17.00" height="7.20" rx="0" fill="#f98a4f" stroke="#111" stroke-width="1.2" />
<text x="239.6" y="413.8" font-size="11.3" text-anchor="start" fill="#111" transform="rotate(0.03 239.6 413.8)" >pDeep2</text>
<rect x="296.90" y="406.70" width="17.00" height="7.20" rx="0" fill="#d3f4d3" stroke="#111" stroke-width="1.2" />
<text x="319.8" y="413.8" font-size="11.3" text-anchor="start" fill="#111" transform="rotate(0.03 319.8 413.8)" >DeepMS2</text>
<rect x="386.70" y="406.70" width="17.00" height="7.20" rx="0" fill="#8f8f8f" stroke="#111" stroke-width="1.2" />
<text x="409.6" y="413.8" font-size="11.3" text-anchor="start" fill="#111" transform="rotate(0.03 409.6 413.8)" >MS2PIP</text>
<text x="526.2" y="202.9" font-size="17" text-anchor="start" fill="#000" transform="rotate(0.03 526.2 202.9)" >c</text>
<g fill="#5252b4">
<circle cx="603.3" cy="344.1" r="1.25"/>
<circle cx="605.6" cy="339.4" r="1.25"/>
<circle cx="612.1" cy="331.9" r="1.25"/>
<circle cx="648.9" cy="278.7" r="1.25"/>
<circle cx="646.4" cy="278.0" r="1.25"/>
<circle cx="595.5" cy="355.7" r="1.25"/>
<circle cx="583.8" cy="370.8" r="1.25"/>
<circle cx="583.4" cy="371.8" r="1.25"/>
<circle cx="594.5" cy="355.2" r="1.25"/>
<circle cx="642.4" cy="287.2" r="1.25"/>
<circle cx="611.3" cy="332.8" r="1.25"/>
<circle cx="660.6" cy="257.6" r="1.25"/>
<circle cx="610.5" cy="330.8" r="1.25"/>
<circle cx="619.4" cy="319.8" r="1.25"/>
<circle cx="672.8" cy="242.9" r="1.25"/>
<circle cx="629.2" cy="306.1" r="1.25"/>
<circle cx="619.9" cy="320.5" r="1.25"/>
<circle cx="614.4" cy="328.6" r="1.25"/>
<circle cx="599.0" cy="347.2" r="1.25"/>
<circle cx="584.1" cy="365.5" r="1.25"/>
<circle cx="631.3" cy="302.7" r="1.25"/>
<circle cx="656.4" cy="265.7" r="1.25"/>
<circle cx="598.3" cy="349.4" r="1.25"/>
<circle cx="590.3" cy="361.8" r="1.25"/>
<circle cx="604.5" cy="344.9" r="1.25"/>
<circle cx="599.6" cy="344.0" r="1.25"/>
<circle cx="631.3" cy="297.6" r="1.25"/>
<circle cx="598.0" cy="351.1" r="1.25"/>
<circle cx="665.8" cy="251.3" r="1.25"/>
<circle cx="665.1" cy="255.7" r="1.25"/>
<circle cx="644.9" cy="283.4" r="1.25"/>
<circle cx="628.9" cy="307.2" r="1.25"/>
<circle cx="672.7" cy="245.9" r="1.25"/>
<circle cx="630.1" cy="305.0" r="1.25"/>
<circle cx="631.7" cy="303.7" r="1.25"/>
<circle cx="616.6" cy="322.9" r="1.25"/>
<circle cx="604.9" cy="343.0" r="1.25"/>
<circle cx="581.7" cy="372.2" r="1.25"/>
<circle cx="655.0" cy="266.7" r="1.25"/>
<circle cx="605.2" cy="339.9" r="1.25"/>
<circle cx="621.7" cy="316.6" r="1.25"/>
<circle cx="666.6" cy="253.2" r="1.25"/>
<circle cx="645.7" cy="278.7" r="1.25"/>
<circle cx="632.1" cy="301.9" r="1.25"/>
<circle cx="631.0" cy="300.9" r="1.25"/>
<circle cx="621.3" cy="315.9" r="1.25"/>
<circle cx="659.4" cy="259.9" r="1.25"/>
<circle cx="623.5" cy="316.4" r="1.25"/>
<circle cx="600.9" cy="346.7" r="1.25"/>
<circle cx="596.9" cy="350.6" r="1.25"/>
<circle cx="668.1" cy="252.1" r="1.25"/>
<circle cx="640.6" cy="291.4" r="1.25"/>
<circle cx="619.1" cy="314.2" r="1.25"/>
<circle cx="622.5" cy="333.5" r="1.25"/>
<circle cx="584.5" cy="367.3" r="1.25"/>
<circle cx="621.6" cy="316.0" r="1.25"/>
<circle cx="622.4" cy="319.3" r="1.25"/>
<circle cx="652.2" cy="271.6" r="1.25"/>
<circle cx="643.6" cy="285.5" r="1.25"/>
<circle cx="614.2" cy="327.3" r="1.25"/>
<circle cx="602.7" cy="348.7" r="1.25"/>
<circle cx="589.5" cy="363.1" r="1.25"/>
<circle cx="654.5" cy="270.9" r="1.25"/>
<circle cx="624.1" cy="313.2" r="1.25"/>
<circle cx="624.5" cy="312.2" r="1.25"/>
<circle cx="580.6" cy="374.1" r="1.25"/>
<circle cx="605.5" cy="342.8" r="1.25"/>
<circle cx="663.8" cy="253.3" r="1.25"/>
<circle cx="620.0" cy="319.9" r="1.25"/>
<circle cx="581.8" cy="370.5" r="1.25"/>
<circle cx="618.4" cy="324.4" r="1.25"/>
<circle cx="643.0" cy="286.2" r="1.25"/>
<circle cx="585.3" cy="369.4" r="1.25"/>
<circle cx="629.4" cy="315.2" r="1.25"/>
<circle cx="655.2" cy="266.3" r="1.25"/>
<circle cx="615.7" cy="328.3" r="1.25"/>
<circle cx="619.5" cy="317.2" r="1.25"/>
<circle cx="595.2" cy="353.2" r="1.25"/>
<circle cx="582.0" cy="371.8" r="1.25"/>
<circle cx="652.0" cy="270.5" r="1.25"/>
<circle cx="604.3" cy="343.0" r="1.25"/>
<circle cx="659.3" cy="261.9" r="1.25"/>
<circle cx="603.9" cy="343.2" r="1.25"/>
<circle cx="640.9" cy="282.6" r="1.25"/>
<circle cx="621.1" cy="318.8" r="1.25"/>
<circle cx="651.8" cy="271.9" r="1.25"/>
<circle cx="599.7" cy="349.0" r="1.25"/>
<circle cx="639.2" cy="290.7" r="1.25"/>
<circle cx="596.4" cy="352.5" r="1.25"/>
<circle cx="580.5" cy="373.3" r="1.25"/>
<circle cx="662.8" cy="257.9" r="1.25"/>
<circle cx="604.0" cy="345.5" r="1.25"/>
<circle cx="616.3" cy="328.4" r="1.25"/>
<circle cx="589.6" cy="363.1" r="1.25"/>
<circle cx="657.4" cy="264.9" r="1.25"/>
<circle cx="614.5" cy="328.3" r="1.25"/>
<circle cx="589.9" cy="362.9" r="1.25"/>
<circle cx="625.5" cy="310.1" r="1.25"/>
<circle cx="625.4" cy="313.0" r="1.25"/>
<circle cx="621.7" cy="311.6" r="1.25"/>
<circle cx="606.8" cy="337.5" r="1.25"/>
<circle cx="599.3" cy="351.2" r="1.25"/>
<circle cx="652.4" cy="270.0" r="1.25"/>
<circle cx="614.6" cy="326.4" r="1.25"/>
<circle cx="619.7" cy="321.2" r="1.25"/>
<circle cx="592.6" cy="357.7" r="1.25"/>
<circle cx="656.7" cy="262.2" r="1.25"/>
<circle cx="598.6" cy="351.2" r="1.25"/>
<circle cx="650.7" cy="273.2" r="1.25"/>
<circle cx="654.2" cy="268.3" r="1.25"/>
<circle cx="656.1" cy="266.1" r="1.25"/>
<circle cx="642.9" cy="286.2" r="1.25"/>
<circle cx="658.8" cy="263.4" r="1.25"/>
<circle cx="589.1" cy="369.8" r="1.25"/>
<circle cx="645.4" cy="280.0" r="1.25"/>
<circle cx="657.1" cy="265.2" r="1.25"/>
<circle cx="621.7" cy="313.1" r="1.25"/>
<circle cx="613.9" cy="327.4" r="1.25"/>
<circle cx="659.8" cy="260.9" r="1.25"/>
<circle cx="615.6" cy="324.4" r="1.25"/>
<circle cx="611.4" cy="331.6" r="1.25"/>
<circle cx="641.3" cy="291.2" r="1.25"/>
<circle cx="614.5" cy="326.1" r="1.25"/>
<circle cx="656.6" cy="265.7" r="1.25"/>
<circle cx="651.8" cy="277.3" r="1.25"/>
<circle cx="621.2" cy="319.9" r="1.25"/>
<circle cx="622.4" cy="315.4" r="1.25"/>
<circle cx="605.0" cy="340.9" r="1.25"/>
<circle cx="582.6" cy="370.8" r="1.25"/>
<circle cx="672.5" cy="255.1" r="1.25"/>
<circle cx="595.4" cy="355.1" r="1.25"/>
<circle cx="649.9" cy="277.0" r="1.25"/>
<circle cx="595.9" cy="355.3" r="1.25"/>
<circle cx="658.4" cy="263.0" r="1.25"/>
<circle cx="584.3" cy="369.7" r="1.25"/>
<circle cx="651.7" cy="273.6" r="1.25"/>
<circle cx="595.1" cy="353.0" r="1.25"/>
<circle cx="598.4" cy="350.2" r="1.25"/>
<circle cx="624.7" cy="319.9" r="1.25"/>
<circle cx="605.2" cy="339.9" r="1.25"/>
<circle cx="585.0" cy="368.0" r="1.25"/>
<circle cx="668.7" cy="247.7" r="1.25"/>
<circle cx="628.0" cy="307.2" r="1.25"/>
<circle cx="621.5" cy="318.3" r="1.25"/>
<circle cx="660.1" cy="261.7" r="1.25"/>
<circle cx="623.9" cy="312.4" r="1.25"/>
<circle cx="648.9" cy="275.2" r="1.25"/>
<circle cx="614.3" cy="328.5" r="1.25"/>
<circle cx="589.2" cy="359.1" r="1.25"/>
<circle cx="668.6" cy="245.1" r="1.25"/>
<circle cx="600.4" cy="345.7" r="1.25"/>
<circle cx="608.0" cy="336.4" r="1.25"/>
<circle cx="645.1" cy="283.2" r="1.25"/>
<circle cx="595.4" cy="356.3" r="1.25"/>
<circle cx="600.6" cy="347.5" r="1.25"/>
<circle cx="612.5" cy="329.1" r="1.25"/>
<circle cx="621.0" cy="319.0" r="1.25"/>
<circle cx="622.5" cy="318.0" r="1.25"/>
<circle cx="656.8" cy="265.0" r="1.25"/>
<circle cx="582.3" cy="375.1" r="1.25"/>
<circle cx="619.5" cy="321.6" r="1.25"/>
<circle cx="580.1" cy="375.6" r="1.25"/>
<circle cx="625.9" cy="308.8" r="1.25"/>
<circle cx="592.9" cy="358.2" r="1.25"/>
<circle cx="626.9" cy="308.8" r="1.25"/>
<circle cx="608.1" cy="338.5" r="1.25"/>
<circle cx="604.5" cy="341.1" r="1.25"/>
<circle cx="671.0" cy="246.8" r="1.25"/>
<circle cx="668.2" cy="244.4" r="1.25"/>
<circle cx="589.0" cy="361.1" r="1.25"/>
<circle cx="629.7" cy="305.2" r="1.25"/>
<circle cx="641.7" cy="286.1" r="1.25"/>
<circle cx="600.8" cy="346.6" r="1.25"/>
<circle cx="614.3" cy="325.2" r="1.25"/>
<circle cx="651.8" cy="276.5" r="1.25"/>
<circle cx="627.0" cy="309.7" r="1.25"/>
<circle cx="635.3" cy="296.7" r="1.25"/>
<circle cx="611.1" cy="334.0" r="1.25"/>
<circle cx="621.9" cy="318.5" r="1.25"/>
<circle cx="594.2" cy="357.5" r="1.25"/>
<circle cx="599.5" cy="346.1" r="1.25"/>
<circle cx="631.1" cy="306.0" r="1.25"/>
<circle cx="601.4" cy="346.1" r="1.25"/>
<circle cx="596.8" cy="346.4" r="1.25"/>
<circle cx="616.9" cy="324.8" r="1.25"/>
<circle cx="636.1" cy="295.2" r="1.25"/>
<circle cx="602.0" cy="344.2" r="1.25"/>
<circle cx="604.9" cy="341.7" r="1.25"/>
<circle cx="605.2" cy="342.9" r="1.25"/>
<circle cx="630.2" cy="306.3" r="1.25"/>
<circle cx="621.7" cy="320.5" r="1.25"/>
<circle cx="627.9" cy="304.9" r="1.25"/>
<circle cx="596.6" cy="358.9" r="1.25"/>
<circle cx="673.9" cy="237.9" r="1.25"/>
<circle cx="672.0" cy="246.1" r="1.25"/>
<circle cx="663.3" cy="257.1" r="1.25"/>
<circle cx="656.7" cy="267.6" r="1.25"/>
<circle cx="645.8" cy="279.4" r="1.25"/>
<circle cx="633.6" cy="285.6" r="1.25"/>
<circle cx="594.5" cy="354.5" r="1.25"/>
<circle cx="661.3" cy="257.1" r="1.25"/>
<circle cx="646.8" cy="281.2" r="1.25"/>
<circle cx="601.0" cy="347.2" r="1.25"/>
<circle cx="609.2" cy="335.6" r="1.25"/>
<circle cx="606.7" cy="340.5" r="1.25"/>
<circle cx="586.9" cy="363.7" r="1.25"/>
<circle cx="597.2" cy="352.2" r="1.25"/>
<circle cx="645.7" cy="281.3" r="1.25"/>
<circle cx="640.3" cy="289.8" r="1.25"/>
<circle cx="605.8" cy="340.4" r="1.25"/>
<circle cx="616.8" cy="324.2" r="1.25"/>
<circle cx="619.0" cy="319.8" r="1.25"/>
<circle cx="631.8" cy="298.4" r="1.25"/>
<circle cx="635.8" cy="297.6" r="1.25"/>
<circle cx="597.4" cy="352.5" r="1.25"/>
<circle cx="617.7" cy="324.1" r="1.25"/>
<circle cx="668.4" cy="250.1" r="1.25"/>
<circle cx="618.4" cy="325.9" r="1.25"/>
<circle cx="611.1" cy="335.4" r="1.25"/>
<circle cx="590.7" cy="360.6" r="1.25"/>
<circle cx="651.1" cy="275.1" r="1.25"/>
<circle cx="667.6" cy="250.2" r="1.25"/>
<circle cx="590.8" cy="356.1" r="1.25"/>
<circle cx="608.4" cy="331.5" r="1.25"/>
<circle cx="636.2" cy="296.4" r="1.25"/>
<circle cx="624.1" cy="312.8" r="1.25"/>
<circle cx="599.5" cy="343.3" r="1.25"/>
<circle cx="595.2" cy="353.7" r="1.25"/>
<circle cx="639.7" cy="292.5" r="1.25"/>
<circle cx="588.1" cy="366.2" r="1.25"/>
<circle cx="636.3" cy="300.3" r="1.25"/>
<circle cx="649.7" cy="277.1" r="1.25"/>
<circle cx="597.7" cy="347.3" r="1.25"/>
<circle cx="654.1" cy="270.2" r="1.25"/>
<circle cx="611.0" cy="332.2" r="1.25"/>
<circle cx="609.2" cy="333.6" r="1.25"/>
<circle cx="599.2" cy="348.4" r="1.25"/>
<circle cx="582.8" cy="370.5" r="1.25"/>
<circle cx="637.4" cy="296.1" r="1.25"/>
<circle cx="618.5" cy="318.7" r="1.25"/>
<circle cx="586.5" cy="362.4" r="1.25"/>
<circle cx="622.4" cy="322.7" r="1.25"/>
<circle cx="644.4" cy="305.4" r="1.25"/>
<circle cx="594.1" cy="355.2" r="1.25"/>
<circle cx="636.8" cy="295.5" r="1.25"/>
<circle cx="629.1" cy="307.4" r="1.25"/>
<circle cx="580.3" cy="376.7" r="1.25"/>
<circle cx="658.2" cy="274.8" r="1.25"/>
<circle cx="628.1" cy="306.8" r="1.25"/>
<circle cx="674.3" cy="244.2" r="1.25"/>
<circle cx="633.0" cy="297.2" r="1.25"/>
<circle cx="584.1" cy="370.6" r="1.25"/>
<circle cx="646.8" cy="282.9" r="1.25"/>
<circle cx="668.6" cy="252.8" r="1.25"/>
<circle cx="625.6" cy="315.2" r="1.25"/>
<circle cx="633.4" cy="299.0" r="1.25"/>
<circle cx="675.1" cy="240.1" r="1.25"/>
<circle cx="621.4" cy="319.1" r="1.25"/>
<circle cx="641.3" cy="288.5" r="1.25"/>
<circle cx="662.4" cy="255.4" r="1.25"/>
<circle cx="617.5" cy="321.9" r="1.25"/>
<circle cx="657.4" cy="265.5" r="1.25"/>
<circle cx="609.0" cy="334.8" r="1.25"/>
<circle cx="595.0" cy="356.3" r="1.25"/>
<circle cx="625.3" cy="311.2" r="1.25"/>
<circle cx="591.4" cy="360.0" r="1.25"/>
<circle cx="600.9" cy="347.8" r="1.25"/>
<circle cx="614.2" cy="328.5" r="1.25"/>
<circle cx="599.3" cy="348.9" r="1.25"/>
<circle cx="611.5" cy="331.4" r="1.25"/>
<circle cx="587.8" cy="366.0" r="1.25"/>
<circle cx="598.0" cy="349.4" r="1.25"/>
<circle cx="668.6" cy="249.5" r="1.25"/>
<circle cx="624.9" cy="314.7" r="1.25"/>
<circle cx="598.9" cy="350.5" r="1.25"/>
<circle cx="597.5" cy="351.7" r="1.25"/>
<circle cx="643.7" cy="283.8" r="1.25"/>
<circle cx="585.6" cy="368.4" r="1.25"/>
<circle cx="649.3" cy="276.7" r="1.25"/>
<circle cx="628.4" cy="308.7" r="1.25"/>
<circle cx="582.9" cy="371.6" r="1.25"/>
<circle cx="597.0" cy="350.2" r="1.25"/>
<circle cx="654.1" cy="268.3" r="1.25"/>
<circle cx="592.4" cy="358.1" r="1.25"/>
<circle cx="671.8" cy="242.2" r="1.25"/>
<circle cx="625.0" cy="311.5" r="1.25"/>
<circle cx="600.8" cy="345.2" r="1.25"/>
<circle cx="615.6" cy="325.4" r="1.25"/>
<circle cx="601.8" cy="344.4" r="1.25"/>
<circle cx="644.3" cy="264.6" r="1.25"/>
<circle cx="618.5" cy="319.1" r="1.25"/>
<circle cx="629.8" cy="307.8" r="1.25"/>
<circle cx="618.3" cy="322.0" r="1.25"/>
<circle cx="627.5" cy="311.1" r="1.25"/>
<circle cx="632.1" cy="301.4" r="1.25"/>
<circle cx="613.2" cy="328.2" r="1.25"/>
<circle cx="615.3" cy="326.8" r="1.25"/>
<circle cx="669.6" cy="249.2" r="1.25"/>
<circle cx="659.2" cy="263.3" r="1.25"/>
<circle cx="607.2" cy="334.3" r="1.25"/>
<circle cx="600.4" cy="348.7" r="1.25"/>
<circle cx="610.1" cy="332.8" r="1.25"/>
<circle cx="588.1" cy="368.1" r="1.25"/>
<circle cx="625.1" cy="313.3" r="1.25"/>
<circle cx="583.2" cy="371.7" r="1.25"/>
<circle cx="599.4" cy="349.0" r="1.25"/>
<circle cx="652.1" cy="272.2" r="1.25"/>
<circle cx="604.2" cy="341.2" r="1.25"/>
<circle cx="580.6" cy="374.1" r="1.25"/>
<circle cx="601.7" cy="345.8" r="1.25"/>
<circle cx="609.2" cy="335.7" r="1.25"/>
<circle cx="598.2" cy="352.0" r="1.25"/>
<circle cx="632.2" cy="296.5" r="1.25"/>
<circle cx="616.1" cy="324.5" r="1.25"/>
<circle cx="662.2" cy="258.2" r="1.25"/>
<circle cx="657.9" cy="264.7" r="1.25"/>
<circle cx="647.4" cy="278.9" r="1.25"/>
<circle cx="636.1" cy="305.7" r="1.25"/>
<circle cx="626.7" cy="308.2" r="1.25"/>
<circle cx="641.3" cy="289.1" r="1.25"/>
<circle cx="651.7" cy="272.1" r="1.25"/>
<circle cx="647.6" cy="275.5" r="1.25"/>
<circle cx="644.7" cy="282.6" r="1.25"/>
<circle cx="630.4" cy="303.3" r="1.25"/>
<circle cx="649.7" cy="274.5" r="1.25"/>
<circle cx="607.8" cy="334.5" r="1.25"/>
<circle cx="659.3" cy="264.6" r="1.25"/>
<circle cx="609.9" cy="332.1" r="1.25"/>
<circle cx="639.2" cy="292.7" r="1.25"/>
<circle cx="606.5" cy="339.1" r="1.25"/>
<circle cx="651.6" cy="272.2" r="1.25"/>
<circle cx="595.0" cy="354.4" r="1.25"/>
<circle cx="597.8" cy="353.2" r="1.25"/>
<circle cx="644.5" cy="277.1" r="1.25"/>
<circle cx="630.1" cy="306.4" r="1.25"/>
<circle cx="584.2" cy="370.2" r="1.25"/>
<circle cx="622.1" cy="317.1" r="1.25"/>
<circle cx="603.8" cy="344.1" r="1.25"/>
<circle cx="596.3" cy="349.3" r="1.25"/>
<circle cx="631.2" cy="304.7" r="1.25"/>
<circle cx="655.9" cy="267.1" r="1.25"/>
<circle cx="597.6" cy="354.8" r="1.25"/>
<circle cx="629.1" cy="305.7" r="1.25"/>
<circle cx="585.2" cy="369.2" r="1.25"/>
<circle cx="590.7" cy="358.7" r="1.25"/>
<circle cx="647.3" cy="281.2" r="1.25"/>
<circle cx="673.7" cy="238.7" r="1.25"/>
<circle cx="611.4" cy="330.7" r="1.25"/>
<circle cx="652.3" cy="274.0" r="1.25"/>
<circle cx="632.7" cy="297.4" r="1.25"/>
<circle cx="636.7" cy="297.2" r="1.25"/>
<circle cx="604.2" cy="342.7" r="1.25"/>
<circle cx="638.2" cy="294.4" r="1.25"/>
<circle cx="622.3" cy="318.6" r="1.25"/>
<circle cx="590.3" cy="359.2" r="1.25"/>
<circle cx="623.8" cy="315.5" r="1.25"/>
<circle cx="668.3" cy="250.0" r="1.25"/>
<circle cx="653.2" cy="270.1" r="1.25"/>
<circle cx="587.1" cy="366.9" r="1.25"/>
<circle cx="610.9" cy="329.6" r="1.25"/>
<circle cx="626.0" cy="312.1" r="1.25"/>
<circle cx="640.9" cy="287.1" r="1.25"/>
<circle cx="602.0" cy="343.1" r="1.25"/>
<circle cx="625.8" cy="313.0" r="1.25"/>
<circle cx="604.2" cy="340.0" r="1.25"/>
<circle cx="638.7" cy="292.1" r="1.25"/>
<circle cx="622.1" cy="316.3" r="1.25"/>
<circle cx="611.9" cy="329.5" r="1.25"/>
<circle cx="616.1" cy="323.0" r="1.25"/>
<circle cx="646.8" cy="280.5" r="1.25"/>
<circle cx="628.8" cy="305.4" r="1.25"/>
<circle cx="591.6" cy="369.3" r="1.25"/>
<circle cx="624.2" cy="315.2" r="1.25"/>
<circle cx="634.5" cy="298.4" r="1.25"/>
<circle cx="602.3" cy="344.2" r="1.25"/>
<circle cx="642.7" cy="291.8" r="1.25"/>
<circle cx="649.4" cy="277.1" r="1.25"/>
<circle cx="601.6" cy="346.7" r="1.25"/>
<circle cx="640.6" cy="292.0" r="1.25"/>
<circle cx="639.5" cy="288.2" r="1.25"/>
<circle cx="618.4" cy="322.8" r="1.25"/>
<circle cx="633.0" cy="295.9" r="1.25"/>
<circle cx="607.2" cy="351.0" r="1.25"/>
<circle cx="592.7" cy="359.7" r="1.25"/>
<circle cx="622.5" cy="316.8" r="1.25"/>
<circle cx="602.4" cy="341.1" r="1.25"/>
<circle cx="674.8" cy="239.8" r="1.25"/>
<circle cx="598.2" cy="346.0" r="1.25"/>
<circle cx="604.1" cy="341.3" r="1.25"/>
<circle cx="602.5" cy="343.7" r="1.25"/>
<circle cx="658.2" cy="269.4" r="1.25"/>
<circle cx="651.3" cy="271.6" r="1.25"/>
<circle cx="617.7" cy="320.6" r="1.25"/>
<circle cx="640.1" cy="292.6" r="1.25"/>
<circle cx="580.3" cy="377.4" r="1.25"/>
<circle cx="592.3" cy="358.6" r="1.25"/>
<circle cx="644.7" cy="285.3" r="1.25"/>
<circle cx="655.6" cy="268.8" r="1.25"/>
<circle cx="587.4" cy="365.2" r="1.25"/>
<circle cx="648.2" cy="274.7" r="1.25"/>
<circle cx="639.4" cy="289.9" r="1.25"/>
<circle cx="643.1" cy="286.4" r="1.25"/>
<circle cx="672.6" cy="246.7" r="1.25"/>
<circle cx="611.2" cy="331.4" r="1.25"/>
<circle cx="666.6" cy="253.4" r="1.25"/>
<circle cx="633.2" cy="301.1" r="1.25"/>
<circle cx="603.5" cy="342.2" r="1.25"/>
<circle cx="590.6" cy="361.8" r="1.25"/>
<circle cx="638.1" cy="293.1" r="1.25"/>
<circle cx="602.0" cy="345.8" r="1.25"/>
<circle cx="608.2" cy="336.2" r="1.25"/>
<circle cx="582.8" cy="374.9" r="1.25"/>
<circle cx="673.2" cy="241.0" r="1.25"/>
<circle cx="673.0" cy="254.4" r="1.25"/>
<circle cx="657.3" cy="268.1" r="1.25"/>
<circle cx="598.0" cy="349.2" r="1.25"/>
<circle cx="639.5" cy="290.4" r="1.25"/>
<circle cx="626.8" cy="309.2" r="1.25"/>
<circle cx="610.8" cy="332.5" r="1.25"/>
<circle cx="620.8" cy="325.2" r="1.25"/>
<circle cx="620.4" cy="316.2" r="1.25"/>
<circle cx="645.2" cy="281.2" r="1.25"/>
<circle cx="593.5" cy="357.6" r="1.25"/>
<circle cx="636.9" cy="294.6" r="1.25"/>
<circle cx="601.2" cy="347.1" r="1.25"/>
<circle cx="590.8" cy="357.4" r="1.25"/>
<circle cx="650.2" cy="276.7" r="1.25"/>
<circle cx="640.3" cy="288.5" r="1.25"/>
<circle cx="584.8" cy="357.4" r="1.25"/>
<circle cx="660.3" cy="262.2" r="1.25"/>
<circle cx="666.6" cy="251.4" r="1.25"/>
<circle cx="630.5" cy="306.7" r="1.25"/>
<circle cx="632.0" cy="292.5" r="1.25"/>
<circle cx="646.9" cy="279.3" r="1.25"/>
<circle cx="583.0" cy="370.9" r="1.25"/>
<circle cx="588.1" cy="361.4" r="1.25"/>
<circle cx="598.3" cy="350.8" r="1.25"/>
<circle cx="591.3" cy="361.6" r="1.25"/>
<circle cx="585.4" cy="367.4" r="1.25"/>
<circle cx="611.0" cy="333.3" r="1.25"/>
<circle cx="594.6" cy="361.4" r="1.25"/>
<circle cx="658.6" cy="260.5" r="1.25"/>
<circle cx="665.4" cy="254.5" r="1.25"/>
<circle cx="586.6" cy="365.2" r="1.25"/>
<circle cx="623.3" cy="313.2" r="1.25"/>
<circle cx="579.8" cy="374.9" r="1.25"/>
<circle cx="607.1" cy="341.9" r="1.25"/>
<circle cx="580.4" cy="374.7" r="1.25"/>
<circle cx="643.4" cy="284.0" r="1.25"/>
<circle cx="619.1" cy="321.0" r="1.25"/>
<circle cx="584.6" cy="368.8" r="1.25"/>
<circle cx="640.9" cy="293.1" r="1.25"/>
<circle cx="622.3" cy="314.3" r="1.25"/>
<circle cx="632.7" cy="302.2" r="1.25"/>
<circle cx="605.8" cy="338.4" r="1.25"/>
<circle cx="618.0" cy="320.1" r="1.25"/>
<circle cx="610.9" cy="331.4" r="1.25"/>
<circle cx="596.5" cy="351.9" r="1.25"/>
<circle cx="599.8" cy="348.2" r="1.25"/>
<circle cx="583.6" cy="371.7" r="1.25"/>
<circle cx="583.4" cy="369.9" r="1.25"/>
<circle cx="598.3" cy="346.6" r="1.25"/>
<circle cx="655.2" cy="268.3" r="1.25"/>
<circle cx="661.1" cy="256.9" r="1.25"/>
<circle cx="632.5" cy="301.2" r="1.25"/>
<circle cx="676.6" cy="238.8" r="1.25"/>
<circle cx="675.1" cy="243.6" r="1.25"/>
<circle cx="593.8" cy="357.0" r="1.25"/>
<circle cx="586.4" cy="370.8" r="1.25"/>
<circle cx="589.2" cy="363.3" r="1.25"/>
<circle cx="601.5" cy="344.6" r="1.25"/>
<circle cx="662.8" cy="246.7" r="1.25"/>
<circle cx="632.7" cy="299.7" r="1.25"/>
<circle cx="632.8" cy="302.1" r="1.25"/>
<circle cx="608.5" cy="336.3" r="1.25"/>
<circle cx="659.6" cy="261.7" r="1.25"/>
<circle cx="657.9" cy="265.4" r="1.25"/>
<circle cx="628.9" cy="307.7" r="1.25"/>
<circle cx="614.9" cy="329.2" r="1.25"/>
<circle cx="675.0" cy="242.9" r="1.25"/>
<circle cx="610.2" cy="332.2" r="1.25"/>
<circle cx="604.4" cy="340.5" r="1.25"/>
<circle cx="625.5" cy="313.5" r="1.25"/>
<circle cx="603.7" cy="342.1" r="1.25"/>
<circle cx="643.8" cy="286.1" r="1.25"/>
<circle cx="634.1" cy="300.3" r="1.25"/>
<circle cx="642.3" cy="287.8" r="1.25"/>
<circle cx="668.5" cy="248.3" r="1.25"/>
<circle cx="646.6" cy="283.1" r="1.25"/>
<circle cx="627.4" cy="307.6" r="1.25"/>
<circle cx="611.1" cy="331.9" r="1.25"/>
<circle cx="647.6" cy="280.7" r="1.25"/>
<circle cx="621.8" cy="317.2" r="1.25"/>
<circle cx="609.3" cy="337.4" r="1.25"/>
<circle cx="655.1" cy="268.6" r="1.25"/>
<circle cx="658.8" cy="267.5" r="1.25"/>
<circle cx="659.6" cy="261.7" r="1.25"/>
<circle cx="607.5" cy="337.9" r="1.25"/>
<circle cx="628.7" cy="306.6" r="1.25"/>
<circle cx="630.6" cy="305.2" r="1.25"/>
<circle cx="667.7" cy="253.2" r="1.25"/>
<circle cx="590.0" cy="360.7" r="1.25"/>
<circle cx="671.2" cy="250.5" r="1.25"/>
<circle cx="672.2" cy="243.8" r="1.25"/>
<circle cx="590.2" cy="361.1" r="1.25"/>
<circle cx="617.1" cy="320.4" r="1.25"/>
<circle cx="627.1" cy="310.5" r="1.25"/>
<circle cx="640.6" cy="291.5" r="1.25"/>
<circle cx="662.2" cy="256.9" r="1.25"/>
<circle cx="651.5" cy="274.5" r="1.25"/>
<circle cx="661.2" cy="261.0" r="1.25"/>
<circle cx="644.3" cy="287.7" r="1.25"/>
<circle cx="596.1" cy="355.4" r="1.25"/>
<circle cx="631.5" cy="301.2" r="1.25"/>
<circle cx="630.3" cy="307.5" r="1.25"/>
<circle cx="616.8" cy="323.7" r="1.25"/>
<circle cx="601.4" cy="346.0" r="1.25"/>
<circle cx="644.0" cy="280.1" r="1.25"/>
<circle cx="599.6" cy="348.1" r="1.25"/>
<circle cx="628.1" cy="306.5" r="1.25"/>
<circle cx="581.0" cy="376.2" r="1.25"/>
<circle cx="597.0" cy="337.6" r="1.25"/>
<circle cx="615.6" cy="325.9" r="1.25"/>
<circle cx="596.1" cy="349.4" r="1.25"/>
<circle cx="597.3" cy="352.2" r="1.25"/>
<circle cx="662.8" cy="257.3" r="1.25"/>
<circle cx="611.5" cy="332.5" r="1.25"/>
<circle cx="610.7" cy="333.8" r="1.25"/>
<circle cx="631.2" cy="300.1" r="1.25"/>
<circle cx="670.0" cy="248.7" r="1.25"/>
<circle cx="648.8" cy="267.5" r="1.25"/>
<circle cx="663.9" cy="259.5" r="1.25"/>
<circle cx="640.8" cy="285.7" r="1.25"/>
<circle cx="631.7" cy="304.7" r="1.25"/>
<circle cx="644.3" cy="285.4" r="1.25"/>
<circle cx="611.1" cy="332.0" r="1.25"/>
<circle cx="606.0" cy="336.5" r="1.25"/>
<circle cx="611.6" cy="328.0" r="1.25"/>
<circle cx="587.2" cy="363.8" r="1.25"/>
<circle cx="653.4" cy="262.2" r="1.25"/>
<circle cx="631.1" cy="303.6" r="1.25"/>
<circle cx="655.7" cy="261.3" r="1.25"/>
<circle cx="607.6" cy="335.0" r="1.25"/>
<circle cx="654.5" cy="271.8" r="1.25"/>
<circle cx="635.0" cy="296.1" r="1.25"/>
<circle cx="638.7" cy="295.0" r="1.25"/>
<circle cx="614.2" cy="329.1" r="1.25"/>
<circle cx="667.2" cy="250.8" r="1.25"/>
<circle cx="587.4" cy="365.8" r="1.25"/>
<circle cx="638.7" cy="292.2" r="1.25"/>
<circle cx="653.9" cy="274.5" r="1.25"/>
<circle cx="625.4" cy="310.1" r="1.25"/>
<circle cx="625.6" cy="311.6" r="1.25"/>
<circle cx="650.3" cy="278.7" r="1.25"/>
<circle cx="631.6" cy="302.3" r="1.25"/>
<circle cx="663.5" cy="259.4" r="1.25"/>
<circle cx="667.8" cy="250.8" r="1.25"/>
<circle cx="591.9" cy="363.4" r="1.25"/>
<circle cx="588.9" cy="363.8" r="1.25"/>
<circle cx="594.0" cy="357.5" r="1.25"/>
<circle cx="626.5" cy="310.2" r="1.25"/>
<circle cx="585.8" cy="367.0" r="1.25"/>
<circle cx="664.8" cy="251.3" r="1.25"/>
<circle cx="672.6" cy="243.3" r="1.25"/>
<circle cx="657.7" cy="262.0" r="1.25"/>
<circle cx="593.1" cy="359.3" r="1.25"/>
<circle cx="611.9" cy="332.3" r="1.25"/>
<circle cx="644.0" cy="286.4" r="1.25"/>
<circle cx="597.2" cy="353.3" r="1.25"/>
<circle cx="661.5" cy="257.8" r="1.25"/>
<circle cx="597.2" cy="351.2" r="1.25"/>
<circle cx="658.2" cy="261.4" r="1.25"/>
<circle cx="600.9" cy="348.0" r="1.25"/>
<circle cx="641.8" cy="287.7" r="1.25"/>
<circle cx="648.9" cy="272.6" r="1.25"/>
<circle cx="650.5" cy="275.1" r="1.25"/>
<circle cx="655.6" cy="265.6" r="1.25"/>
<circle cx="594.3" cy="356.3" r="1.25"/>
<circle cx="597.4" cy="351.8" r="1.25"/>
<circle cx="599.4" cy="347.1" r="1.25"/>
<circle cx="597.2" cy="351.7" r="1.25"/>
<circle cx="630.1" cy="305.5" r="1.25"/>
<circle cx="625.0" cy="310.9" r="1.25"/>
<circle cx="630.3" cy="302.9" r="1.25"/>
<circle cx="661.6" cy="260.8" r="1.25"/>
<circle cx="666.9" cy="246.8" r="1.25"/>
<circle cx="630.5" cy="305.7" r="1.25"/>
<circle cx="622.7" cy="312.7" r="1.25"/>
<circle cx="601.5" cy="344.9" r="1.25"/>
<circle cx="583.1" cy="375.2" r="1.25"/>
<circle cx="653.4" cy="276.0" r="1.25"/>
<circle cx="615.0" cy="325.3" r="1.25"/>
<circle cx="585.5" cy="368.4" r="1.25"/>
<circle cx="583.7" cy="371.9" r="1.25"/>
<circle cx="611.6" cy="328.1" r="1.25"/>
<circle cx="637.4" cy="293.8" r="1.25"/>
<circle cx="600.7" cy="345.6" r="1.25"/>
<circle cx="606.0" cy="340.1" r="1.25"/>
<circle cx="649.5" cy="276.1" r="1.25"/>
<circle cx="620.4" cy="319.3" r="1.25"/>
<circle cx="663.8" cy="259.8" r="1.25"/>
<circle cx="653.2" cy="271.8" r="1.25"/>
<circle cx="581.4" cy="373.6" r="1.25"/>
<circle cx="650.5" cy="275.0" r="1.25"/>
<circle cx="596.7" cy="353.9" r="1.25"/>
<circle cx="605.1" cy="338.7" r="1.25"/>
<circle cx="606.8" cy="338.8" r="1.25"/>
<circle cx="584.6" cy="368.6" r="1.25"/>
<circle cx="630.1" cy="301.1" r="1.25"/>
<circle cx="667.2" cy="251.9" r="1.25"/>
<circle cx="593.4" cy="356.2" r="1.25"/>
<circle cx="648.5" cy="283.7" r="1.25"/>
<circle cx="610.3" cy="332.9" r="1.25"/>
<circle cx="617.9" cy="323.3" r="1.25"/>
<circle cx="658.3" cy="263.2" r="1.25"/>
<circle cx="609.1" cy="325.2" r="1.25"/>
<circle cx="641.8" cy="292.8" r="1.25"/>
<circle cx="626.6" cy="308.8" r="1.25"/>
<circle cx="617.7" cy="322.3" r="1.25"/>
<circle cx="594.1" cy="354.8" r="1.25"/>
<circle cx="628.5" cy="305.3" r="1.25"/>
<circle cx="639.4" cy="297.8" r="1.25"/>
<circle cx="624.1" cy="314.7" r="1.25"/>
<circle cx="593.5" cy="355.0" r="1.25"/>
<circle cx="649.4" cy="276.9" r="1.25"/>
<circle cx="646.5" cy="283.3" r="1.25"/>
<circle cx="620.2" cy="319.5" r="1.25"/>
<circle cx="658.6" cy="271.9" r="1.25"/>
<circle cx="591.6" cy="358.9" r="1.25"/>
<circle cx="601.5" cy="346.2" r="1.25"/>
<circle cx="624.9" cy="312.4" r="1.25"/>
<circle cx="606.5" cy="338.4" r="1.25"/>
<circle cx="612.6" cy="331.9" r="1.25"/>
<circle cx="632.4" cy="302.0" r="1.25"/>
<circle cx="601.5" cy="343.9" r="1.25"/>
<circle cx="617.4" cy="328.2" r="1.25"/>
<circle cx="592.3" cy="358.4" r="1.25"/>
<circle cx="598.3" cy="348.3" r="1.25"/>
<circle cx="592.1" cy="359.5" r="1.25"/>
<circle cx="596.2" cy="354.9" r="1.25"/>
<circle cx="594.3" cy="348.4" r="1.25"/>
<circle cx="607.0" cy="338.9" r="1.25"/>
<circle cx="610.2" cy="333.9" r="1.25"/>
<circle cx="630.6" cy="305.0" r="1.25"/>
<circle cx="641.8" cy="286.4" r="1.25"/>
<circle cx="628.7" cy="306.4" r="1.25"/>
<circle cx="664.2" cy="266.1" r="1.25"/>
<circle cx="625.8" cy="309.4" r="1.25"/>
<circle cx="612.6" cy="328.0" r="1.25"/>
<circle cx="661.1" cy="256.8" r="1.25"/>
<circle cx="604.3" cy="342.0" r="1.25"/>
<circle cx="645.6" cy="284.8" r="1.25"/>
<circle cx="640.3" cy="288.6" r="1.25"/>
<circle cx="638.1" cy="289.9" r="1.25"/>
<circle cx="606.5" cy="338.5" r="1.25"/>
<circle cx="623.2" cy="315.6" r="1.25"/>
<circle cx="581.7" cy="373.5" r="1.25"/>
<circle cx="629.3" cy="304.8" r="1.25"/>
<circle cx="665.0" cy="248.8" r="1.25"/>
<circle cx="617.9" cy="324.3" r="1.25"/>
<circle cx="642.8" cy="287.9" r="1.25"/>
<circle cx="653.9" cy="273.2" r="1.25"/>
<circle cx="647.6" cy="278.3" r="1.25"/>
<circle cx="602.9" cy="343.4" r="1.25"/>
<circle cx="600.9" cy="342.8" r="1.25"/>
<circle cx="613.8" cy="327.7" r="1.25"/>
<circle cx="601.3" cy="348.1" r="1.25"/>
<circle cx="649.0" cy="274.0" r="1.25"/>
<circle cx="599.8" cy="348.6" r="1.25"/>
<circle cx="601.5" cy="342.6" r="1.25"/>
<circle cx="605.5" cy="341.1" r="1.25"/>
<circle cx="634.0" cy="298.8" r="1.25"/>
<circle cx="649.9" cy="278.1" r="1.25"/>
<circle cx="602.9" cy="343.4" r="1.25"/>
<circle cx="605.6" cy="339.0" r="1.25"/>
<circle cx="630.5" cy="304.5" r="1.25"/>
<circle cx="649.8" cy="277.2" r="1.25"/>
<circle cx="587.8" cy="364.4" r="1.25"/>
<circle cx="595.3" cy="354.6" r="1.25"/>
<circle cx="637.1" cy="298.5" r="1.25"/>
<circle cx="611.4" cy="326.3" r="1.25"/>
<circle cx="665.0" cy="247.2" r="1.25"/>
<circle cx="596.8" cy="351.2" r="1.25"/>
<circle cx="615.2" cy="327.9" r="1.25"/>
<circle cx="658.2" cy="262.1" r="1.25"/>
<circle cx="603.4" cy="340.9" r="1.25"/>
<circle cx="609.9" cy="335.4" r="1.25"/>
<circle cx="672.1" cy="246.4" r="1.25"/>
<circle cx="661.9" cy="256.5" r="1.25"/>
<circle cx="658.7" cy="263.8" r="1.25"/>
<circle cx="667.3" cy="251.5" r="1.25"/>
<circle cx="581.4" cy="376.6" r="1.25"/>
<circle cx="610.1" cy="328.3" r="1.25"/>
<circle cx="581.0" cy="377.0" r="1.25"/>
<circle cx="648.4" cy="279.1" r="1.25"/>
<circle cx="663.3" cy="258.0" r="1.25"/>
<circle cx="638.3" cy="293.1" r="1.25"/>
<circle cx="611.3" cy="329.8" r="1.25"/>
<circle cx="667.0" cy="247.8" r="1.25"/>
<circle cx="589.3" cy="363.0" r="1.25"/>
<circle cx="584.3" cy="369.7" r="1.25"/>
<circle cx="671.5" cy="247.5" r="1.25"/>
<circle cx="610.6" cy="335.7" r="1.25"/>
<circle cx="635.5" cy="296.7" r="1.25"/>
<circle cx="583.0" cy="370.6" r="1.25"/>
<circle cx="629.8" cy="311.0" r="1.25"/>
<circle cx="581.9" cy="374.4" r="1.25"/>
<circle cx="586.6" cy="365.4" r="1.25"/>
<circle cx="609.1" cy="336.4" r="1.25"/>
<circle cx="642.3" cy="286.5" r="1.25"/>
<circle cx="657.5" cy="265.5" r="1.25"/>
<circle cx="641.7" cy="287.4" r="1.25"/>
<circle cx="663.6" cy="257.1" r="1.25"/>
<circle cx="597.9" cy="353.2" r="1.25"/>
<circle cx="608.6" cy="332.3" r="1.25"/>
<circle cx="662.8" cy="255.0" r="1.25"/>
<circle cx="633.9" cy="299.5" r="1.25"/>
<circle cx="630.6" cy="304.5" r="1.25"/>
<circle cx="618.6" cy="321.7" r="1.25"/>
<circle cx="673.1" cy="245.6" r="1.25"/>
<circle cx="644.3" cy="285.5" r="1.25"/>
<circle cx="591.6" cy="358.4" r="1.25"/>
<circle cx="583.7" cy="369.2" r="1.25"/>
<circle cx="623.5" cy="314.7" r="1.25"/>
<circle cx="622.6" cy="315.1" r="1.25"/>
<circle cx="648.2" cy="277.2" r="1.25"/>
<circle cx="610.8" cy="331.6" r="1.25"/>
<circle cx="627.1" cy="307.9" r="1.25"/>
<circle cx="592.3" cy="357.9" r="1.25"/>
<circle cx="599.7" cy="348.0" r="1.25"/>
<circle cx="663.7" cy="255.4" r="1.25"/>
<circle cx="590.2" cy="361.5" r="1.25"/>
<circle cx="668.5" cy="246.9" r="1.25"/>
<circle cx="625.9" cy="314.0" r="1.25"/>
<circle cx="665.6" cy="256.9" r="1.25"/>
<circle cx="637.0" cy="294.4" r="1.25"/>
<circle cx="604.6" cy="339.1" r="1.25"/>
<circle cx="583.7" cy="370.8" r="1.25"/>
<circle cx="589.8" cy="361.3" r="1.25"/>
<circle cx="588.5" cy="363.8" r="1.25"/>
<circle cx="658.5" cy="264.2" r="1.25"/>
<circle cx="669.5" cy="244.6" r="1.25"/>
<circle cx="646.7" cy="281.6" r="1.25"/>
<circle cx="646.5" cy="281.9" r="1.25"/>
<circle cx="629.5" cy="307.7" r="1.25"/>
<circle cx="594.4" cy="355.6" r="1.25"/>
<circle cx="640.3" cy="286.8" r="1.25"/>
<circle cx="596.5" cy="353.4" r="1.25"/>
<circle cx="662.5" cy="257.9" r="1.25"/>
<circle cx="595.1" cy="350.1" r="1.25"/>
<circle cx="593.9" cy="352.0" r="1.25"/>
<circle cx="633.7" cy="292.0" r="1.25"/>
<circle cx="648.6" cy="276.2" r="1.25"/>
<circle cx="624.4" cy="312.5" r="1.25"/>
<circle cx="621.5" cy="317.6" r="1.25"/>
<circle cx="672.4" cy="247.0" r="1.25"/>
<circle cx="673.7" cy="238.4" r="1.25"/>
<circle cx="585.4" cy="357.9" r="1.25"/>
<circle cx="587.9" cy="364.4" r="1.25"/>
<circle cx="592.8" cy="356.0" r="1.25"/>
<circle cx="638.0" cy="292.5" r="1.25"/>
<circle cx="599.3" cy="348.4" r="1.25"/>
<circle cx="589.3" cy="362.8" r="1.25"/>
<circle cx="624.2" cy="307.7" r="1.25"/>
<circle cx="609.1" cy="334.3" r="1.25"/>
<circle cx="625.6" cy="311.7" r="1.25"/>
<circle cx="652.6" cy="269.8" r="1.25"/>
<circle cx="661.1" cy="245.5" r="1.25"/>
<circle cx="592.4" cy="357.8" r="1.25"/>
<circle cx="613.5" cy="330.0" r="1.25"/>
<circle cx="634.6" cy="301.0" r="1.25"/>
<circle cx="601.7" cy="344.7" r="1.25"/>
<circle cx="602.7" cy="355.5" r="1.25"/>
<circle cx="603.1" cy="344.1" r="1.25"/>
<circle cx="601.6" cy="346.6" r="1.25"/>
<circle cx="632.8" cy="302.6" r="1.25"/>
<circle cx="664.6" cy="254.7" r="1.25"/>
<circle cx="594.4" cy="353.2" r="1.25"/>
<circle cx="638.8" cy="294.7" r="1.25"/>
<circle cx="634.6" cy="294.6" r="1.25"/>
<circle cx="594.7" cy="354.5" r="1.25"/>
<circle cx="619.6" cy="326.2" r="1.25"/>
<circle cx="667.2" cy="249.2" r="1.25"/>
<circle cx="672.2" cy="241.7" r="1.25"/>
<circle cx="586.3" cy="366.6" r="1.25"/>
<circle cx="613.0" cy="327.1" r="1.25"/>
<circle cx="595.9" cy="354.3" r="1.25"/>
<circle cx="620.6" cy="330.9" r="1.25"/>
<circle cx="652.0" cy="271.6" r="1.25"/>
<circle cx="608.7" cy="333.0" r="1.25"/>
<circle cx="635.8" cy="294.3" r="1.25"/>
<circle cx="607.2" cy="342.1" r="1.25"/>
<circle cx="620.5" cy="317.9" r="1.25"/>
<circle cx="644.2" cy="284.3" r="1.25"/>
<circle cx="644.0" cy="285.2" r="1.25"/>
<circle cx="645.6" cy="283.7" r="1.25"/>
<circle cx="586.0" cy="365.2" r="1.25"/>
<circle cx="589.0" cy="365.7" r="1.25"/>
<circle cx="584.0" cy="369.3" r="1.25"/>
<circle cx="609.4" cy="333.5" r="1.25"/>
<circle cx="618.8" cy="319.9" r="1.25"/>
<circle cx="614.0" cy="327.7" r="1.25"/>
<circle cx="627.3" cy="304.9" r="1.25"/>
<circle cx="620.6" cy="322.2" r="1.25"/>
<circle cx="634.4" cy="299.1" r="1.25"/>
<circle cx="645.9" cy="284.0" r="1.25"/>
<circle cx="618.7" cy="326.6" r="1.25"/>
<circle cx="657.3" cy="261.4" r="1.25"/>
<circle cx="637.2" cy="295.1" r="1.25"/>
<circle cx="648.9" cy="278.4" r="1.25"/>
<circle cx="585.8" cy="368.4" r="1.25"/>
<circle cx="622.9" cy="315.0" r="1.25"/>
<circle cx="605.8" cy="339.7" r="1.25"/>
<circle cx="626.6" cy="309.2" r="1.25"/>
<circle cx="600.1" cy="349.8" r="1.25"/>
<circle cx="634.0" cy="303.0" r="1.25"/>
<circle cx="582.8" cy="371.9" r="1.25"/>
<circle cx="605.9" cy="338.5" r="1.25"/>
<circle cx="636.3" cy="295.1" r="1.25"/>
<circle cx="603.9" cy="342.1" r="1.25"/>
<circle cx="623.4" cy="312.9" r="1.25"/>
<circle cx="642.8" cy="284.7" r="1.25"/>
<circle cx="629.4" cy="306.3" r="1.25"/>
<circle cx="619.1" cy="320.7" r="1.25"/>
<circle cx="612.9" cy="329.2" r="1.25"/>
<circle cx="668.9" cy="242.7" r="1.25"/>
<circle cx="661.4" cy="258.8" r="1.25"/>
<circle cx="586.4" cy="367.0" r="1.25"/>
<circle cx="607.0" cy="337.7" r="1.25"/>
<circle cx="641.0" cy="285.7" r="1.25"/>
<circle cx="666.1" cy="248.8" r="1.25"/>
<circle cx="655.1" cy="267.7" r="1.25"/>
<circle cx="625.9" cy="310.1" r="1.25"/>
<circle cx="651.1" cy="276.5" r="1.25"/>
<circle cx="637.0" cy="293.2" r="1.25"/>
<circle cx="589.7" cy="362.2" r="1.25"/>
<circle cx="605.8" cy="342.0" r="1.25"/>
<circle cx="625.3" cy="312.8" r="1.25"/>
<circle cx="617.7" cy="320.9" r="1.25"/>
<circle cx="644.9" cy="283.4" r="1.25"/>
<circle cx="655.6" cy="263.2" r="1.25"/>
<circle cx="631.8" cy="303.2" r="1.25"/>
<circle cx="594.2" cy="354.2" r="1.25"/>
<circle cx="639.5" cy="292.2" r="1.25"/>
<circle cx="645.6" cy="280.9" r="1.25"/>
<circle cx="661.3" cy="255.8" r="1.25"/>
<circle cx="653.1" cy="272.6" r="1.25"/>
<circle cx="629.2" cy="307.1" r="1.25"/>
<circle cx="589.9" cy="362.8" r="1.25"/>
<circle cx="626.4" cy="310.8" r="1.25"/>
<circle cx="646.4" cy="276.0" r="1.25"/>
<circle cx="662.4" cy="252.1" r="1.25"/>
<circle cx="636.3" cy="298.2" r="1.25"/>
<circle cx="634.2" cy="300.0" r="1.25"/>
<circle cx="610.3" cy="334.6" r="1.25"/>
<circle cx="666.9" cy="251.0" r="1.25"/>
<circle cx="651.7" cy="277.9" r="1.25"/>
<circle cx="581.5" cy="371.7" r="1.25"/>
<circle cx="603.5" cy="346.2" r="1.25"/>
<circle cx="586.5" cy="366.4" r="1.25"/>
<circle cx="642.4" cy="287.9" r="1.25"/>
<circle cx="650.8" cy="275.6" r="1.25"/>
<circle cx="670.3" cy="251.4" r="1.25"/>
<circle cx="654.8" cy="267.0" r="1.25"/>
<circle cx="616.7" cy="324.0" r="1.25"/>
<circle cx="585.6" cy="367.4" r="1.25"/>
<circle cx="671.9" cy="243.4" r="1.25"/>
<circle cx="663.3" cy="256.0" r="1.25"/>
<circle cx="656.7" cy="264.8" r="1.25"/>
<circle cx="605.8" cy="341.2" r="1.25"/>
<circle cx="615.1" cy="327.6" r="1.25"/>
<circle cx="618.2" cy="324.2" r="1.25"/>
<circle cx="630.0" cy="305.1" r="1.25"/>
<circle cx="653.8" cy="276.6" r="1.25"/>
<circle cx="640.2" cy="291.4" r="1.25"/>
<circle cx="654.5" cy="267.6" r="1.25"/>
<circle cx="619.6" cy="320.4" r="1.25"/>
<circle cx="601.2" cy="346.8" r="1.25"/>
<circle cx="600.6" cy="345.0" r="1.25"/>
<circle cx="654.5" cy="268.1" r="1.25"/>
<circle cx="661.2" cy="262.1" r="1.25"/>
<circle cx="581.1" cy="375.5" r="1.25"/>
<circle cx="617.9" cy="320.3" r="1.25"/>
<circle cx="624.0" cy="311.1" r="1.25"/>
<circle cx="580.2" cy="374.7" r="1.25"/>
<circle cx="628.4" cy="309.0" r="1.25"/>
<circle cx="630.8" cy="303.2" r="1.25"/>
<circle cx="587.1" cy="366.2" r="1.25"/>
<circle cx="645.6" cy="286.3" r="1.25"/>
<circle cx="595.9" cy="352.8" r="1.25"/>
<circle cx="621.7" cy="314.3" r="1.25"/>
<circle cx="632.4" cy="301.5" r="1.25"/>
<circle cx="596.1" cy="351.8" r="1.25"/>
<circle cx="645.4" cy="282.7" r="1.25"/>
<circle cx="623.2" cy="314.0" r="1.25"/>
<circle cx="665.8" cy="255.0" r="1.25"/>
<circle cx="613.8" cy="326.3" r="1.25"/>
<circle cx="595.2" cy="353.9" r="1.25"/>
<circle cx="611.2" cy="330.8" r="1.25"/>
<circle cx="651.1" cy="271.8" r="1.25"/>
<circle cx="656.2" cy="264.9" r="1.25"/>
<circle cx="657.0" cy="268.0" r="1.25"/>
<circle cx="588.8" cy="364.2" r="1.25"/>
<circle cx="621.8" cy="316.2" r="1.25"/>
<circle cx="650.0" cy="275.5" r="1.25"/>
<circle cx="657.7" cy="261.5" r="1.25"/>
<circle cx="632.2" cy="300.8" r="1.25"/>
<circle cx="636.2" cy="296.2" r="1.25"/>
<circle cx="637.7" cy="295.1" r="1.25"/>
<circle cx="664.6" cy="249.7" r="1.25"/>
<circle cx="615.4" cy="325.6" r="1.25"/>
<circle cx="592.3" cy="359.3" r="1.25"/>
<circle cx="592.1" cy="359.1" r="1.25"/>
<circle cx="608.7" cy="336.0" r="1.25"/>
<circle cx="592.6" cy="356.7" r="1.25"/>
<circle cx="671.5" cy="243.4" r="1.25"/>
<circle cx="592.1" cy="358.5" r="1.25"/>
<circle cx="595.9" cy="352.1" r="1.25"/>
<circle cx="653.8" cy="268.5" r="1.25"/>
<circle cx="623.7" cy="310.9" r="1.25"/>
<circle cx="656.2" cy="267.7" r="1.25"/>
<circle cx="621.6" cy="318.7" r="1.25"/>
<circle cx="622.2" cy="317.2" r="1.25"/>
<circle cx="588.2" cy="364.4" r="1.25"/>
<circle cx="665.1" cy="256.9" r="1.25"/>
<circle cx="622.4" cy="316.6" r="1.25"/>
<circle cx="590.9" cy="362.8" r="1.25"/>
<circle cx="584.2" cy="368.6" r="1.25"/>
<circle cx="661.5" cy="260.2" r="1.25"/>
<circle cx="587.6" cy="365.6" r="1.25"/>
<circle cx="635.2" cy="294.7" r="1.25"/>
<circle cx="667.3" cy="250.0" r="1.25"/>
<circle cx="652.6" cy="270.8" r="1.25"/>
<circle cx="654.0" cy="267.4" r="1.25"/>
<circle cx="609.7" cy="334.0" r="1.25"/>
<circle cx="617.1" cy="323.0" r="1.25"/>
<circle cx="599.5" cy="345.2" r="1.25"/>
<circle cx="592.0" cy="360.5" r="1.25"/>
<circle cx="593.4" cy="364.3" r="1.25"/>
<circle cx="590.5" cy="360.6" r="1.25"/>
<circle cx="628.1" cy="308.0" r="1.25"/>
<circle cx="599.5" cy="347.6" r="1.25"/>
<circle cx="592.2" cy="369.9" r="1.25"/>
<circle cx="623.7" cy="315.5" r="1.25"/>
<circle cx="586.1" cy="366.6" r="1.25"/>
<circle cx="648.7" cy="275.9" r="1.25"/>
<circle cx="651.1" cy="274.4" r="1.25"/>
<circle cx="664.9" cy="256.8" r="1.25"/>
<circle cx="612.8" cy="336.5" r="1.25"/>
<circle cx="612.0" cy="330.1" r="1.25"/>
<circle cx="648.9" cy="291.3" r="1.25"/>
<circle cx="620.3" cy="317.5" r="1.25"/>
<circle cx="609.5" cy="334.3" r="1.25"/>
<circle cx="604.9" cy="341.9" r="1.25"/>
<circle cx="585.6" cy="368.5" r="1.25"/>
<circle cx="643.9" cy="285.0" r="1.25"/>
<circle cx="612.7" cy="333.9" r="1.25"/>
<circle cx="600.6" cy="346.2" r="1.25"/>
<circle cx="616.1" cy="326.1" r="1.25"/>
<circle cx="616.1" cy="321.3" r="1.25"/>
<circle cx="647.7" cy="283.0" r="1.25"/>
<circle cx="629.9" cy="305.3" r="1.25"/>
<circle cx="639.8" cy="295.5" r="1.25"/>
<circle cx="593.0" cy="355.9" r="1.25"/>
<circle cx="629.3" cy="304.7" r="1.25"/>
<circle cx="595.9" cy="356.0" r="1.25"/>
<circle cx="642.2" cy="295.5" r="1.25"/>
<circle cx="665.5" cy="252.2" r="1.25"/>
<circle cx="624.8" cy="316.1" r="1.25"/>
<circle cx="615.2" cy="323.9" r="1.25"/>
<circle cx="625.1" cy="313.4" r="1.25"/>
<circle cx="636.5" cy="296.6" r="1.25"/>
<circle cx="586.9" cy="364.7" r="1.25"/>
<circle cx="632.1" cy="301.6" r="1.25"/>
<circle cx="637.9" cy="295.0" r="1.25"/>
<circle cx="637.0" cy="297.0" r="1.25"/>
<circle cx="595.0" cy="354.3" r="1.25"/>
<circle cx="595.5" cy="354.6" r="1.25"/>
<circle cx="667.9" cy="258.0" r="1.25"/>
<circle cx="675.9" cy="241.1" r="1.25"/>
<circle cx="629.3" cy="312.8" r="1.25"/>
<circle cx="621.5" cy="314.3" r="1.25"/>
<circle cx="598.0" cy="349.3" r="1.25"/>
<circle cx="591.2" cy="359.6" r="1.25"/>
<circle cx="656.0" cy="269.9" r="1.25"/>
<circle cx="620.4" cy="317.8" r="1.25"/>
<circle cx="645.2" cy="281.7" r="1.25"/>
<circle cx="652.7" cy="267.5" r="1.25"/>
<circle cx="647.6" cy="280.4" r="1.25"/>
<circle cx="675.1" cy="239.4" r="1.25"/>
<circle cx="670.1" cy="247.4" r="1.25"/>
<circle cx="628.2" cy="313.8" r="1.25"/>
<circle cx="593.4" cy="359.6" r="1.25"/>
<circle cx="674.2" cy="244.1" r="1.25"/>
<circle cx="587.4" cy="365.6" r="1.25"/>
<circle cx="624.9" cy="312.9" r="1.25"/>
<circle cx="596.0" cy="354.7" r="1.25"/>
<circle cx="655.1" cy="270.3" r="1.25"/>
<circle cx="620.6" cy="316.0" r="1.25"/>
<circle cx="615.1" cy="328.4" r="1.25"/>
<circle cx="658.3" cy="266.2" r="1.25"/>
<circle cx="669.2" cy="243.4" r="1.25"/>
<circle cx="647.1" cy="282.8" r="1.25"/>
<circle cx="636.1" cy="297.4" r="1.25"/>
<circle cx="598.1" cy="351.8" r="1.25"/>
<circle cx="654.1" cy="267.7" r="1.25"/>
<circle cx="618.2" cy="323.0" r="1.25"/>
<circle cx="623.0" cy="314.2" r="1.25"/>
<circle cx="600.6" cy="346.1" r="1.25"/>
<circle cx="609.0" cy="334.8" r="1.25"/>
<circle cx="639.6" cy="294.6" r="1.25"/>
<circle cx="614.0" cy="327.5" r="1.25"/>
<circle cx="661.3" cy="260.8" r="1.25"/>
<circle cx="663.6" cy="254.3" r="1.25"/>
<circle cx="647.6" cy="280.3" r="1.25"/>
<circle cx="623.2" cy="316.3" r="1.25"/>
<circle cx="603.2" cy="343.1" r="1.25"/>
<circle cx="628.4" cy="305.2" r="1.25"/>
<circle cx="581.7" cy="373.9" r="1.25"/>
<circle cx="646.9" cy="274.7" r="1.25"/>
<circle cx="624.6" cy="314.5" r="1.25"/>
<circle cx="668.4" cy="251.4" r="1.25"/>
<circle cx="605.9" cy="341.0" r="1.25"/>
<circle cx="602.1" cy="345.9" r="1.25"/>
<circle cx="639.3" cy="290.4" r="1.25"/>
<circle cx="620.1" cy="320.7" r="1.25"/>
<circle cx="626.4" cy="312.1" r="1.25"/>
<circle cx="641.1" cy="288.8" r="1.25"/>
<circle cx="587.9" cy="371.7" r="1.25"/>
<circle cx="618.6" cy="321.0" r="1.25"/>
<circle cx="662.8" cy="257.6" r="1.25"/>
<circle cx="592.5" cy="357.6" r="1.25"/>
<circle cx="619.6" cy="316.7" r="1.25"/>
<circle cx="623.1" cy="311.8" r="1.25"/>
<circle cx="602.5" cy="348.8" r="1.25"/>
<circle cx="661.6" cy="262.9" r="1.25"/>
<circle cx="593.9" cy="356.4" r="1.25"/>
<circle cx="589.0" cy="364.9" r="1.25"/>
<circle cx="614.4" cy="327.0" r="1.25"/>
<circle cx="615.5" cy="334.0" r="1.25"/>
<circle cx="604.9" cy="344.1" r="1.25"/>
<circle cx="619.8" cy="319.9" r="1.25"/>
<circle cx="670.4" cy="246.6" r="1.25"/>
<circle cx="663.0" cy="258.8" r="1.25"/>
<circle cx="595.4" cy="362.7" r="1.25"/>
<circle cx="635.9" cy="291.3" r="1.25"/>
<circle cx="604.8" cy="341.0" r="1.25"/>
<circle cx="645.3" cy="283.5" r="1.25"/>
<circle cx="644.8" cy="283.0" r="1.25"/>
<circle cx="662.7" cy="259.7" r="1.25"/>
<circle cx="670.0" cy="247.9" r="1.25"/>
<circle cx="639.9" cy="293.3" r="1.25"/>
<circle cx="609.7" cy="337.4" r="1.25"/>
<circle cx="656.4" cy="263.1" r="1.25"/>
<circle cx="630.1" cy="306.2" r="1.25"/>
<circle cx="655.3" cy="269.7" r="1.25"/>
<circle cx="584.7" cy="367.0" r="1.25"/>
<circle cx="673.0" cy="242.4" r="1.25"/>
<circle cx="616.8" cy="324.3" r="1.25"/>
<circle cx="601.6" cy="345.1" r="1.25"/>
<circle cx="585.2" cy="369.4" r="1.25"/>
<circle cx="586.3" cy="366.4" r="1.25"/>
<circle cx="592.1" cy="360.8" r="1.25"/>
<circle cx="584.8" cy="368.3" r="1.25"/>
<circle cx="669.3" cy="251.7" r="1.25"/>
<circle cx="600.8" cy="350.2" r="1.25"/>
<circle cx="660.6" cy="263.7" r="1.25"/>
<circle cx="622.5" cy="308.4" r="1.25"/>
<circle cx="672.2" cy="242.4" r="1.25"/>
<circle cx="614.0" cy="327.2" r="1.25"/>
<circle cx="594.4" cy="354.4" r="1.25"/>
<circle cx="589.6" cy="362.3" r="1.25"/>
<circle cx="649.1" cy="278.4" r="1.25"/>
<circle cx="620.5" cy="319.0" r="1.25"/>
<circle cx="626.1" cy="311.7" r="1.25"/>
<circle cx="633.8" cy="301.6" r="1.25"/>
<circle cx="632.1" cy="300.2" r="1.25"/>
<circle cx="646.8" cy="281.4" r="1.25"/>
<circle cx="605.5" cy="341.1" r="1.25"/>
<circle cx="623.0" cy="315.8" r="1.25"/>
<circle cx="645.3" cy="284.1" r="1.25"/>
<circle cx="618.1" cy="325.0" r="1.25"/>
<circle cx="619.6" cy="324.5" r="1.25"/>
<circle cx="587.1" cy="371.3" r="1.25"/>
<circle cx="642.8" cy="275.5" r="1.25"/>
<circle cx="589.4" cy="363.1" r="1.25"/>
<circle cx="654.6" cy="266.3" r="1.25"/>
<circle cx="584.0" cy="369.2" r="1.25"/>
<circle cx="589.1" cy="363.7" r="1.25"/>
<circle cx="644.2" cy="283.1" r="1.25"/>
<circle cx="626.1" cy="310.9" r="1.25"/>
<circle cx="614.7" cy="326.5" r="1.25"/>
<circle cx="649.6" cy="277.4" r="1.25"/>
<circle cx="651.3" cy="273.7" r="1.25"/>
<circle cx="637.6" cy="293.5" r="1.25"/>
<circle cx="648.3" cy="279.3" r="1.25"/>
<circle cx="594.8" cy="359.1" r="1.25"/>
<circle cx="592.7" cy="359.6" r="1.25"/>
<circle cx="603.8" cy="341.3" r="1.25"/>
<circle cx="635.7" cy="297.9" r="1.25"/>
<circle cx="613.6" cy="331.3" r="1.25"/>
<circle cx="602.0" cy="344.7" r="1.25"/>
<circle cx="600.3" cy="353.3" r="1.25"/>
<circle cx="649.5" cy="275.7" r="1.25"/>
<circle cx="585.4" cy="367.0" r="1.25"/>
<circle cx="640.2" cy="290.5" r="1.25"/>
<circle cx="629.3" cy="305.4" r="1.25"/>
<circle cx="641.7" cy="286.8" r="1.25"/>
<circle cx="640.6" cy="289.4" r="1.25"/>
<circle cx="652.3" cy="274.4" r="1.25"/>
<circle cx="616.7" cy="323.2" r="1.25"/>
<circle cx="652.7" cy="271.4" r="1.25"/>
<circle cx="648.5" cy="277.2" r="1.25"/>
<circle cx="605.2" cy="339.1" r="1.25"/>
<circle cx="636.1" cy="294.7" r="1.25"/>
<circle cx="648.7" cy="279.2" r="1.25"/>
<circle cx="637.4" cy="297.9" r="1.25"/>
<circle cx="631.8" cy="302.9" r="1.25"/>
<circle cx="608.4" cy="334.9" r="1.25"/>
<circle cx="599.7" cy="346.5" r="1.25"/>
<circle cx="632.6" cy="300.9" r="1.25"/>
<circle cx="629.0" cy="303.8" r="1.25"/>
<circle cx="672.3" cy="246.1" r="1.25"/>
<circle cx="616.9" cy="325.1" r="1.25"/>
<circle cx="601.1" cy="344.8" r="1.25"/>
<circle cx="619.8" cy="319.2" r="1.25"/>
<circle cx="604.3" cy="341.5" r="1.25"/>
<circle cx="650.8" cy="275.9" r="1.25"/>
<circle cx="608.9" cy="335.7" r="1.25"/>
<circle cx="623.0" cy="310.5" r="1.25"/>
<circle cx="651.6" cy="274.7" r="1.25"/>
<circle cx="604.9" cy="342.4" r="1.25"/>
<circle cx="658.5" cy="262.0" r="1.25"/>
<circle cx="645.6" cy="282.4" r="1.25"/>
<circle cx="640.6" cy="290.8" r="1.25"/>
<circle cx="654.1" cy="269.0" r="1.25"/>
<circle cx="659.4" cy="262.0" r="1.25"/>
<circle cx="585.8" cy="368.5" r="1.25"/>
<circle cx="633.3" cy="300.1" r="1.25"/>
<circle cx="602.6" cy="343.7" r="1.25"/>
<circle cx="589.0" cy="361.8" r="1.25"/>
<circle cx="627.3" cy="312.1" r="1.25"/>
<circle cx="579.9" cy="375.3" r="1.25"/>
<circle cx="651.8" cy="272.2" r="1.25"/>
<circle cx="590.0" cy="362.8" r="1.25"/>
<circle cx="582.8" cy="372.5" r="1.25"/>
<circle cx="603.4" cy="347.9" r="1.25"/>
<circle cx="649.6" cy="276.7" r="1.25"/>
<circle cx="606.0" cy="342.7" r="1.25"/>
<circle cx="674.1" cy="242.9" r="1.25"/>
<circle cx="638.2" cy="293.3" r="1.25"/>
<circle cx="589.9" cy="363.1" r="1.25"/>
<circle cx="667.1" cy="243.4" r="1.25"/>
<circle cx="657.4" cy="266.3" r="1.25"/>
<circle cx="675.6" cy="248.1" r="1.25"/>
<circle cx="614.1" cy="326.5" r="1.25"/>
<circle cx="643.8" cy="286.5" r="1.25"/>
<circle cx="616.6" cy="326.9" r="1.25"/>
<circle cx="653.4" cy="268.2" r="1.25"/>
<circle cx="611.5" cy="330.4" r="1.25"/>
<circle cx="594.7" cy="355.7" r="1.25"/>
<circle cx="617.9" cy="323.0" r="1.25"/>
<circle cx="584.7" cy="368.6" r="1.25"/>
<circle cx="633.6" cy="300.8" r="1.25"/>
<circle cx="589.8" cy="356.2" r="1.25"/>
<circle cx="594.6" cy="355.6" r="1.25"/>
<circle cx="621.0" cy="319.2" r="1.25"/>
<circle cx="670.0" cy="247.6" r="1.25"/>
<circle cx="645.4" cy="283.7" r="1.25"/>
<circle cx="582.3" cy="371.4" r="1.25"/>
<circle cx="613.9" cy="329.3" r="1.25"/>
<circle cx="616.2" cy="322.1" r="1.25"/>
<circle cx="587.8" cy="364.5" r="1.25"/>
<circle cx="600.0" cy="349.2" r="1.25"/>
<circle cx="657.9" cy="266.4" r="1.25"/>
<circle cx="668.6" cy="250.2" r="1.25"/>
<circle cx="598.6" cy="350.6" r="1.25"/>
<circle cx="673.8" cy="239.6" r="1.25"/>
<circle cx="631.7" cy="301.2" r="1.25"/>
<circle cx="599.2" cy="348.1" r="1.25"/>
<circle cx="649.2" cy="273.5" r="1.25"/>
<circle cx="640.3" cy="290.5" r="1.25"/>
<circle cx="612.0" cy="335.6" r="1.25"/>
<circle cx="642.6" cy="282.0" r="1.25"/>
<circle cx="612.5" cy="328.9" r="1.25"/>
<circle cx="645.2" cy="282.8" r="1.25"/>
<circle cx="583.4" cy="371.3" r="1.25"/>
<circle cx="668.9" cy="250.2" r="1.25"/>
<circle cx="623.6" cy="313.6" r="1.25"/>
<circle cx="610.1" cy="331.9" r="1.25"/>
<circle cx="641.4" cy="284.4" r="1.25"/>
<circle cx="630.4" cy="304.4" r="1.25"/>
<circle cx="625.7" cy="296.0" r="1.25"/>
<circle cx="601.4" cy="344.8" r="1.25"/>
<circle cx="661.6" cy="254.4" r="1.25"/>
<circle cx="640.9" cy="285.8" r="1.25"/>
<circle cx="659.1" cy="269.2" r="1.25"/>
<circle cx="614.6" cy="330.3" r="1.25"/>
<circle cx="635.6" cy="299.3" r="1.25"/>
<circle cx="602.9" cy="345.7" r="1.25"/>
<circle cx="632.1" cy="304.7" r="1.25"/>
<circle cx="670.3" cy="249.3" r="1.25"/>
<circle cx="663.9" cy="249.3" r="1.25"/>
<circle cx="670.4" cy="243.3" r="1.25"/>
<circle cx="639.9" cy="290.8" r="1.25"/>
<circle cx="631.7" cy="301.9" r="1.25"/>
<circle cx="596.5" cy="356.4" r="1.25"/>
<circle cx="595.7" cy="352.9" r="1.25"/>
<circle cx="632.6" cy="300.8" r="1.25"/>
<circle cx="624.0" cy="313.6" r="1.25"/>
<circle cx="616.6" cy="321.6" r="1.25"/>
<circle cx="655.1" cy="269.0" r="1.25"/>
<circle cx="635.6" cy="297.7" r="1.25"/>
<circle cx="621.5" cy="317.0" r="1.25"/>
<circle cx="615.2" cy="325.0" r="1.25"/>
<circle cx="665.1" cy="253.7" r="1.25"/>
<circle cx="616.4" cy="325.9" r="1.25"/>
<circle cx="614.7" cy="328.2" r="1.25"/>
<circle cx="668.2" cy="248.8" r="1.25"/>
<circle cx="608.0" cy="337.5" r="1.25"/>
<circle cx="601.9" cy="344.0" r="1.25"/>
<circle cx="663.5" cy="252.6" r="1.25"/>
<circle cx="655.7" cy="265.5" r="1.25"/>
<circle cx="673.0" cy="245.2" r="1.25"/>
<circle cx="600.4" cy="345.3" r="1.25"/>
<circle cx="626.4" cy="310.0" r="1.25"/>
<circle cx="651.7" cy="274.4" r="1.25"/>
<circle cx="633.9" cy="299.8" r="1.25"/>
<circle cx="629.3" cy="305.3" r="1.25"/>
<circle cx="618.9" cy="320.9" r="1.25"/>
<circle cx="618.5" cy="317.8" r="1.25"/>
<circle cx="644.9" cy="285.1" r="1.25"/>
<circle cx="632.7" cy="299.1" r="1.25"/>
<circle cx="629.4" cy="304.3" r="1.25"/>
<circle cx="647.1" cy="280.5" r="1.25"/>
<circle cx="650.7" cy="273.5" r="1.25"/>
<circle cx="635.0" cy="299.4" r="1.25"/>
<circle cx="630.5" cy="303.6" r="1.25"/>
<circle cx="637.4" cy="295.7" r="1.25"/>
<circle cx="632.4" cy="298.3" r="1.25"/>
<circle cx="588.8" cy="366.5" r="1.25"/>
<circle cx="645.9" cy="281.9" r="1.25"/>
<circle cx="631.6" cy="301.2" r="1.25"/>
<circle cx="608.9" cy="335.3" r="1.25"/>
<circle cx="670.4" cy="241.9" r="1.25"/>
<circle cx="602.0" cy="342.4" r="1.25"/>
<circle cx="608.4" cy="334.8" r="1.25"/>
<circle cx="603.4" cy="340.0" r="1.25"/>
<circle cx="615.1" cy="323.9" r="1.25"/>
<circle cx="651.4" cy="271.6" r="1.25"/>
<circle cx="636.4" cy="295.0" r="1.25"/>
<circle cx="580.9" cy="374.1" r="1.25"/>
<circle cx="589.7" cy="364.7" r="1.25"/>
<circle cx="598.1" cy="350.9" r="1.25"/>
<circle cx="609.7" cy="333.5" r="1.25"/>
<circle cx="669.9" cy="251.9" r="1.25"/>
<circle cx="670.5" cy="250.1" r="1.25"/>
<circle cx="651.2" cy="271.0" r="1.25"/>
<circle cx="602.7" cy="341.9" r="1.25"/>
<circle cx="669.7" cy="246.9" r="1.25"/>
<circle cx="581.5" cy="373.9" r="1.25"/>
<circle cx="634.2" cy="300.4" r="1.25"/>
<circle cx="657.6" cy="264.9" r="1.25"/>
<circle cx="589.4" cy="365.4" r="1.25"/>
<circle cx="608.5" cy="339.2" r="1.25"/>
<circle cx="644.7" cy="285.1" r="1.25"/>
<circle cx="643.6" cy="282.0" r="1.25"/>
<circle cx="655.0" cy="283.1" r="1.25"/>
<circle cx="625.5" cy="312.5" r="1.25"/>
<circle cx="602.6" cy="343.8" r="1.25"/>
<circle cx="622.0" cy="314.6" r="1.25"/>
<circle cx="612.3" cy="332.4" r="1.25"/>
<circle cx="631.4" cy="301.5" r="1.25"/>
<circle cx="597.2" cy="350.3" r="1.25"/>
<circle cx="624.4" cy="312.5" r="1.25"/>
<circle cx="630.3" cy="303.0" r="1.25"/>
<circle cx="626.7" cy="307.4" r="1.25"/>
<circle cx="627.6" cy="307.3" r="1.25"/>
<circle cx="587.0" cy="369.7" r="1.25"/>
<circle cx="634.3" cy="298.0" r="1.25"/>
<circle cx="583.7" cy="370.2" r="1.25"/>
<circle cx="582.4" cy="371.2" r="1.25"/>
<circle cx="598.6" cy="354.1" r="1.25"/>
<circle cx="639.9" cy="294.0" r="1.25"/>
<circle cx="650.8" cy="275.8" r="1.25"/>
<circle cx="623.7" cy="314.7" r="1.25"/>
<circle cx="605.1" cy="340.4" r="1.25"/>
<circle cx="618.4" cy="321.6" r="1.25"/>
<circle cx="592.5" cy="354.8" r="1.25"/>
<circle cx="594.4" cy="353.9" r="1.25"/>
<circle cx="585.6" cy="370.3" r="1.25"/>
<circle cx="647.6" cy="278.9" r="1.25"/>
<circle cx="582.1" cy="374.4" r="1.25"/>
<circle cx="624.8" cy="313.0" r="1.25"/>
<circle cx="630.1" cy="307.1" r="1.25"/>
<circle cx="670.5" cy="249.4" r="1.25"/>
<circle cx="619.8" cy="319.4" r="1.25"/>
<circle cx="673.9" cy="242.7" r="1.25"/>
<circle cx="594.5" cy="355.4" r="1.25"/>
<circle cx="616.0" cy="334.1" r="1.25"/>
<circle cx="630.8" cy="312.5" r="1.25"/>
<circle cx="634.9" cy="301.9" r="1.25"/>
<circle cx="651.0" cy="269.0" r="1.25"/>
<circle cx="655.9" cy="256.3" r="1.25"/>
<circle cx="646.2" cy="282.1" r="1.25"/>
<circle cx="619.8" cy="318.0" r="1.25"/>
<circle cx="672.7" cy="247.3" r="1.25"/>
<circle cx="673.4" cy="244.1" r="1.25"/>
<circle cx="623.5" cy="314.0" r="1.25"/>
<circle cx="647.0" cy="280.2" r="1.25"/>
<circle cx="601.2" cy="345.6" r="1.25"/>
<circle cx="581.9" cy="373.3" r="1.25"/>
<circle cx="655.9" cy="267.1" r="1.25"/>
<circle cx="590.5" cy="361.0" r="1.25"/>
<circle cx="661.6" cy="258.3" r="1.25"/>
<circle cx="626.9" cy="310.7" r="1.25"/>
<circle cx="632.7" cy="299.1" r="1.25"/>
<circle cx="633.5" cy="299.3" r="1.25"/>
<circle cx="622.7" cy="316.2" r="1.25"/>
<circle cx="588.6" cy="364.2" r="1.25"/>
<circle cx="637.2" cy="292.1" r="1.25"/>
<circle cx="663.9" cy="254.7" r="1.25"/>
<circle cx="668.8" cy="255.4" r="1.25"/>
<circle cx="593.1" cy="357.4" r="1.25"/>
<circle cx="590.6" cy="363.6" r="1.25"/>
<circle cx="645.4" cy="281.9" r="1.25"/>
<circle cx="610.3" cy="332.3" r="1.25"/>
<circle cx="638.3" cy="296.3" r="1.25"/>
<circle cx="586.5" cy="362.8" r="1.25"/>
<circle cx="676.2" cy="241.9" r="1.25"/>
<circle cx="649.8" cy="276.7" r="1.25"/>
<circle cx="624.2" cy="309.5" r="1.25"/>
<circle cx="669.5" cy="243.4" r="1.25"/>
<circle cx="626.3" cy="304.8" r="1.25"/>
<circle cx="645.5" cy="281.5" r="1.25"/>
<circle cx="606.6" cy="338.0" r="1.25"/>
<circle cx="612.1" cy="332.9" r="1.25"/>
<circle cx="613.2" cy="328.2" r="1.25"/>
<circle cx="592.3" cy="358.3" r="1.25"/>
<circle cx="667.9" cy="249.9" r="1.25"/>
<circle cx="631.4" cy="303.6" r="1.25"/>
<circle cx="596.8" cy="355.1" r="1.25"/>
<circle cx="649.0" cy="276.1" r="1.25"/>
<circle cx="604.1" cy="343.0" r="1.25"/>
<circle cx="626.1" cy="317.8" r="1.25"/>
<circle cx="662.2" cy="257.8" r="1.25"/>
<circle cx="663.4" cy="256.5" r="1.25"/>
<circle cx="594.9" cy="351.4" r="1.25"/>
<circle cx="616.3" cy="322.2" r="1.25"/>
<circle cx="656.8" cy="266.2" r="1.25"/>
<circle cx="649.7" cy="271.4" r="1.25"/>
<circle cx="630.4" cy="304.6" r="1.25"/>
<circle cx="591.4" cy="360.6" r="1.25"/>
<circle cx="650.2" cy="277.9" r="1.25"/>
<circle cx="625.3" cy="311.2" r="1.25"/>
<circle cx="594.2" cy="357.3" r="1.25"/>
<circle cx="655.3" cy="270.3" r="1.25"/>
<circle cx="640.3" cy="289.6" r="1.25"/>
<circle cx="582.0" cy="373.4" r="1.25"/>
<circle cx="645.4" cy="280.3" r="1.25"/>
<circle cx="657.2" cy="268.7" r="1.25"/>
<circle cx="617.2" cy="322.5" r="1.25"/>
<circle cx="585.0" cy="367.4" r="1.25"/>
<circle cx="618.8" cy="320.6" r="1.25"/>
<circle cx="634.3" cy="300.7" r="1.25"/>
<circle cx="608.6" cy="335.5" r="1.25"/>
<circle cx="629.4" cy="304.6" r="1.25"/>
<circle cx="616.1" cy="324.9" r="1.25"/>
<circle cx="593.2" cy="357.8" r="1.25"/>
<circle cx="656.9" cy="265.7" r="1.25"/>
<circle cx="610.7" cy="334.9" r="1.25"/>
<circle cx="631.1" cy="305.2" r="1.25"/>
<circle cx="596.0" cy="353.7" r="1.25"/>
<circle cx="606.9" cy="342.6" r="1.25"/>
<circle cx="616.6" cy="324.7" r="1.25"/>
<circle cx="653.5" cy="268.7" r="1.25"/>
<circle cx="622.6" cy="315.7" r="1.25"/>
<circle cx="618.9" cy="320.8" r="1.25"/>
<circle cx="629.0" cy="305.2" r="1.25"/>
<circle cx="605.6" cy="340.2" r="1.25"/>
<circle cx="618.3" cy="321.2" r="1.25"/>
<circle cx="615.7" cy="328.5" r="1.25"/>
<circle cx="631.7" cy="303.0" r="1.25"/>
<circle cx="603.4" cy="341.6" r="1.25"/>
<circle cx="639.5" cy="289.5" r="1.25"/>
<circle cx="630.3" cy="304.4" r="1.25"/>
<circle cx="607.0" cy="341.8" r="1.25"/>
<circle cx="614.4" cy="328.5" r="1.25"/>
<circle cx="676.6" cy="238.0" r="1.25"/>
<circle cx="598.2" cy="348.7" r="1.25"/>
<circle cx="616.1" cy="322.9" r="1.25"/>
<circle cx="599.2" cy="348.8" r="1.25"/>
<circle cx="626.0" cy="310.0" r="1.25"/>
<circle cx="662.2" cy="256.9" r="1.25"/>
<circle cx="662.8" cy="252.8" r="1.25"/>
<circle cx="625.2" cy="309.4" r="1.25"/>
<circle cx="645.7" cy="280.2" r="1.25"/>
<circle cx="628.9" cy="305.2" r="1.25"/>
<circle cx="617.1" cy="322.2" r="1.25"/>
<circle cx="621.8" cy="316.1" r="1.25"/>
<circle cx="593.7" cy="357.3" r="1.25"/>
<circle cx="660.0" cy="263.6" r="1.25"/>
<circle cx="615.3" cy="323.9" r="1.25"/>
<circle cx="581.5" cy="372.8" r="1.25"/>
<circle cx="664.9" cy="253.5" r="1.25"/>
<circle cx="617.1" cy="324.1" r="1.25"/>
<circle cx="616.2" cy="319.3" r="1.25"/>
<circle cx="597.1" cy="352.5" r="1.25"/>
<circle cx="627.2" cy="303.5" r="1.25"/>
<circle cx="664.6" cy="257.6" r="1.25"/>
<circle cx="630.6" cy="306.4" r="1.25"/>
<circle cx="595.1" cy="355.0" r="1.25"/>
<circle cx="593.0" cy="357.7" r="1.25"/>
<circle cx="626.5" cy="309.9" r="1.25"/>
<circle cx="599.6" cy="348.2" r="1.25"/>
<circle cx="603.2" cy="342.3" r="1.25"/>
<circle cx="613.2" cy="329.8" r="1.25"/>
<circle cx="632.6" cy="299.7" r="1.25"/>
<circle cx="635.7" cy="301.5" r="1.25"/>
<circle cx="673.1" cy="249.7" r="1.25"/>
<circle cx="628.8" cy="302.3" r="1.25"/>
<circle cx="611.3" cy="331.9" r="1.25"/>
<circle cx="610.6" cy="344.2" r="1.25"/>
<circle cx="629.2" cy="310.6" r="1.25"/>
<circle cx="613.4" cy="328.7" r="1.25"/>
<circle cx="655.1" cy="268.9" r="1.25"/>
<circle cx="593.8" cy="355.7" r="1.25"/>
<circle cx="659.8" cy="263.4" r="1.25"/>
<circle cx="624.4" cy="313.6" r="1.25"/>
<circle cx="665.1" cy="256.0" r="1.25"/>
<circle cx="657.3" cy="264.5" r="1.25"/>
<circle cx="586.3" cy="367.0" r="1.25"/>
<circle cx="618.4" cy="321.4" r="1.25"/>
<circle cx="597.9" cy="351.2" r="1.25"/>
<circle cx="618.7" cy="321.0" r="1.25"/>
<circle cx="641.9" cy="287.8" r="1.25"/>
<circle cx="658.5" cy="259.9" r="1.25"/>
<circle cx="632.0" cy="304.2" r="1.25"/>
<circle cx="670.9" cy="243.6" r="1.25"/>
<circle cx="619.6" cy="321.6" r="1.25"/>
<circle cx="673.0" cy="243.8" r="1.25"/>
<circle cx="616.1" cy="324.9" r="1.25"/>
<circle cx="604.8" cy="341.7" r="1.25"/>
<circle cx="587.8" cy="363.7" r="1.25"/>
<circle cx="603.6" cy="343.3" r="1.25"/>
<circle cx="585.2" cy="363.9" r="1.25"/>
<circle cx="667.9" cy="248.5" r="1.25"/>
<circle cx="607.8" cy="337.3" r="1.25"/>
<circle cx="653.5" cy="263.1" r="1.25"/>
<circle cx="625.8" cy="309.9" r="1.25"/>
<circle cx="635.9" cy="297.0" r="1.25"/>
<circle cx="585.4" cy="365.0" r="1.25"/>
<circle cx="626.1" cy="308.9" r="1.25"/>
<circle cx="588.8" cy="369.9" r="1.25"/>
<circle cx="638.7" cy="293.8" r="1.25"/>
<circle cx="664.6" cy="257.8" r="1.25"/>
<circle cx="664.8" cy="256.8" r="1.25"/>
<circle cx="607.4" cy="338.9" r="1.25"/>
<circle cx="627.0" cy="309.4" r="1.25"/>
<circle cx="600.2" cy="345.3" r="1.25"/>
<circle cx="653.7" cy="271.4" r="1.25"/>
<circle cx="596.4" cy="353.5" r="1.25"/>
<circle cx="638.1" cy="292.5" r="1.25"/>
<circle cx="639.0" cy="307.2" r="1.25"/>
<circle cx="612.9" cy="328.6" r="1.25"/>
<circle cx="638.9" cy="292.6" r="1.25"/>
<circle cx="599.1" cy="348.0" r="1.25"/>
<circle cx="625.9" cy="308.5" r="1.25"/>
<circle cx="625.6" cy="309.8" r="1.25"/>
<circle cx="601.1" cy="344.7" r="1.25"/>
<circle cx="657.4" cy="265.9" r="1.25"/>
<circle cx="628.8" cy="307.5" r="1.25"/>
<circle cx="651.8" cy="271.6" r="1.25"/>
<circle cx="660.6" cy="264.7" r="1.25"/>
<circle cx="653.3" cy="270.5" r="1.25"/>
<circle cx="657.5" cy="261.9" r="1.25"/>
<circle cx="645.0" cy="282.4" r="1.25"/>
<circle cx="650.9" cy="274.6" r="1.25"/>
<circle cx="613.5" cy="329.6" r="1.25"/>
<circle cx="625.6" cy="313.1" r="1.25"/>
<circle cx="613.8" cy="328.2" r="1.25"/>
<circle cx="640.3" cy="289.1" r="1.25"/>
<circle cx="667.2" cy="254.1" r="1.25"/>
<circle cx="602.6" cy="342.9" r="1.25"/>
<circle cx="616.5" cy="325.4" r="1.25"/>
<circle cx="633.9" cy="300.8" r="1.25"/>
<circle cx="581.9" cy="375.3" r="1.25"/>
<circle cx="617.5" cy="323.1" r="1.25"/>
<circle cx="648.1" cy="278.6" r="1.25"/>
<circle cx="608.6" cy="334.4" r="1.25"/>
<circle cx="660.8" cy="260.2" r="1.25"/>
<circle cx="582.5" cy="375.2" r="1.25"/>
<circle cx="674.5" cy="251.5" r="1.25"/>
<circle cx="592.9" cy="354.9" r="1.25"/>
<circle cx="645.1" cy="282.3" r="1.25"/>
<circle cx="590.0" cy="361.2" r="1.25"/>
<circle cx="611.1" cy="332.0" r="1.25"/>
<circle cx="588.8" cy="359.9" r="1.25"/>
<circle cx="621.0" cy="316.3" r="1.25"/>
<circle cx="631.3" cy="301.1" r="1.25"/>
<circle cx="615.1" cy="326.1" r="1.25"/>
<circle cx="645.4" cy="282.9" r="1.25"/>
<circle cx="637.9" cy="294.4" r="1.25"/>
<circle cx="600.9" cy="344.6" r="1.25"/>
<circle cx="637.2" cy="292.0" r="1.25"/>
<circle cx="602.6" cy="344.0" r="1.25"/>
<circle cx="652.5" cy="274.3" r="1.25"/>
<circle cx="668.6" cy="247.8" r="1.25"/>
<circle cx="601.8" cy="346.6" r="1.25"/>
<circle cx="606.1" cy="341.6" r="1.25"/>
<circle cx="671.0" cy="247.8" r="1.25"/>
<circle cx="636.8" cy="296.1" r="1.25"/>
<circle cx="665.6" cy="251.0" r="1.25"/>
<circle cx="617.7" cy="324.6" r="1.25"/>
<circle cx="586.5" cy="362.9" r="1.25"/>
<circle cx="629.2" cy="304.9" r="1.25"/>
<circle cx="586.0" cy="365.7" r="1.25"/>
<circle cx="614.7" cy="328.8" r="1.25"/>
<circle cx="614.2" cy="327.9" r="1.25"/>
<circle cx="620.8" cy="317.9" r="1.25"/>
<circle cx="615.5" cy="326.5" r="1.25"/>
<circle cx="591.9" cy="360.3" r="1.25"/>
<circle cx="630.2" cy="296.0" r="1.25"/>
<circle cx="630.1" cy="303.6" r="1.25"/>
<circle cx="617.4" cy="322.2" r="1.25"/>
<circle cx="656.1" cy="268.0" r="1.25"/>
<circle cx="667.7" cy="248.6" r="1.25"/>
<circle cx="608.1" cy="334.9" r="1.25"/>
<circle cx="668.7" cy="247.0" r="1.25"/>
<circle cx="588.3" cy="368.9" r="1.25"/>
<circle cx="650.3" cy="276.6" r="1.25"/>
<circle cx="629.9" cy="306.2" r="1.25"/>
<circle cx="676.5" cy="240.2" r="1.25"/>
<circle cx="603.6" cy="342.5" r="1.25"/>
<circle cx="622.0" cy="313.8" r="1.25"/>
<circle cx="616.9" cy="324.3" r="1.25"/>
<circle cx="600.1" cy="346.7" r="1.25"/>
<circle cx="654.6" cy="268.6" r="1.25"/>
<circle cx="619.9" cy="313.9" r="1.25"/>
<circle cx="671.6" cy="242.0" r="1.25"/>
<circle cx="658.1" cy="263.5" r="1.25"/>
<circle cx="653.9" cy="267.9" r="1.25"/>
<circle cx="616.0" cy="326.1" r="1.25"/>
<circle cx="633.1" cy="301.2" r="1.25"/>
<circle cx="644.3" cy="283.2" r="1.25"/>
<circle cx="638.6" cy="294.9" r="1.25"/>
<circle cx="592.7" cy="357.5" r="1.25"/>
<circle cx="675.9" cy="241.7" r="1.25"/>
<circle cx="642.2" cy="286.8" r="1.25"/>
<circle cx="603.8" cy="342.0" r="1.25"/>
<circle cx="615.3" cy="326.9" r="1.25"/>
<circle cx="608.2" cy="333.4" r="1.25"/>
<circle cx="645.6" cy="282.5" r="1.25"/>
<circle cx="621.7" cy="316.8" r="1.25"/>
<circle cx="584.4" cy="369.9" r="1.25"/>
<circle cx="659.5" cy="261.3" r="1.25"/>
<circle cx="608.9" cy="334.4" r="1.25"/>
<circle cx="609.5" cy="335.6" r="1.25"/>
<circle cx="665.3" cy="253.5" r="1.25"/>
<circle cx="606.3" cy="339.9" r="1.25"/>
<circle cx="618.3" cy="320.0" r="1.25"/>
<circle cx="608.3" cy="336.9" r="1.25"/>
<circle cx="626.8" cy="309.4" r="1.25"/>
<circle cx="623.3" cy="314.7" r="1.25"/>
<circle cx="601.5" cy="345.5" r="1.25"/>
<circle cx="673.7" cy="241.6" r="1.25"/>
<circle cx="599.5" cy="344.9" r="1.25"/>
<circle cx="586.9" cy="364.7" r="1.25"/>
<circle cx="629.4" cy="301.2" r="1.25"/>
<circle cx="608.8" cy="331.1" r="1.25"/>
<circle cx="632.7" cy="301.0" r="1.25"/>
<circle cx="598.9" cy="350.9" r="1.25"/>
<circle cx="612.3" cy="318.6" r="1.25"/>
<circle cx="605.8" cy="339.5" r="1.25"/>
<circle cx="643.1" cy="286.0" r="1.25"/>
<circle cx="613.7" cy="327.4" r="1.25"/>
<circle cx="632.9" cy="299.4" r="1.25"/>
<circle cx="623.5" cy="315.6" r="1.25"/>
<circle cx="657.5" cy="264.4" r="1.25"/>
<circle cx="641.0" cy="287.9" r="1.25"/>
<circle cx="666.5" cy="249.9" r="1.25"/>
<circle cx="596.4" cy="348.4" r="1.25"/>
<circle cx="611.5" cy="330.6" r="1.25"/>
<circle cx="631.9" cy="300.6" r="1.25"/>
<circle cx="605.8" cy="340.0" r="1.25"/>
<circle cx="595.9" cy="353.2" r="1.25"/>
<circle cx="613.0" cy="328.2" r="1.25"/>
<circle cx="584.4" cy="371.5" r="1.25"/>
<circle cx="672.9" cy="246.6" r="1.25"/>
<circle cx="624.2" cy="312.1" r="1.25"/>
<circle cx="589.7" cy="361.7" r="1.25"/>
<circle cx="661.1" cy="259.6" r="1.25"/>
<circle cx="646.1" cy="277.4" r="1.25"/>
<circle cx="613.9" cy="327.6" r="1.25"/>
<circle cx="611.8" cy="337.5" r="1.25"/>
<circle cx="590.1" cy="360.5" r="1.25"/>
<circle cx="588.6" cy="359.6" r="1.25"/>
<circle cx="616.2" cy="326.6" r="1.25"/>
<circle cx="592.5" cy="346.9" r="1.25"/>
<circle cx="628.7" cy="308.3" r="1.25"/>
<circle cx="620.9" cy="317.2" r="1.25"/>
<circle cx="645.6" cy="285.4" r="1.25"/>
<circle cx="595.5" cy="352.6" r="1.25"/>
<circle cx="666.6" cy="251.7" r="1.25"/>
<circle cx="622.2" cy="314.2" r="1.25"/>
<circle cx="621.6" cy="319.4" r="1.25"/>
<circle cx="647.1" cy="279.4" r="1.25"/>
<circle cx="656.4" cy="265.7" r="1.25"/>
<circle cx="605.1" cy="337.5" r="1.25"/>
<circle cx="646.0" cy="281.9" r="1.25"/>
<circle cx="662.5" cy="257.8" r="1.25"/>
<circle cx="613.8" cy="327.2" r="1.25"/>
<circle cx="580.0" cy="375.4" r="1.25"/>
<circle cx="641.4" cy="288.3" r="1.25"/>
<circle cx="587.0" cy="364.6" r="1.25"/>
<circle cx="659.7" cy="260.4" r="1.25"/>
<circle cx="622.8" cy="314.2" r="1.25"/>
<circle cx="602.3" cy="344.6" r="1.25"/>
<circle cx="581.4" cy="374.7" r="1.25"/>
<circle cx="647.1" cy="277.5" r="1.25"/>
<circle cx="590.9" cy="361.0" r="1.25"/>
<circle cx="673.6" cy="243.2" r="1.25"/>
<circle cx="612.7" cy="330.9" r="1.25"/>
<circle cx="619.8" cy="320.4" r="1.25"/>
<circle cx="589.4" cy="360.7" r="1.25"/>
<circle cx="598.1" cy="349.1" r="1.25"/>
<circle cx="663.1" cy="256.7" r="1.25"/>
<circle cx="586.4" cy="367.1" r="1.25"/>
<circle cx="650.6" cy="275.6" r="1.25"/>
<circle cx="608.8" cy="335.2" r="1.25"/>
<circle cx="613.9" cy="328.1" r="1.25"/>
<circle cx="626.1" cy="309.9" r="1.25"/>
<circle cx="590.4" cy="361.7" r="1.25"/>
<circle cx="645.3" cy="275.0" r="1.25"/>
<circle cx="661.5" cy="261.6" r="1.25"/>
<circle cx="645.9" cy="282.2" r="1.25"/>
<circle cx="658.2" cy="269.5" r="1.25"/>
<circle cx="633.2" cy="300.9" r="1.25"/>
<circle cx="591.8" cy="360.3" r="1.25"/>
<circle cx="662.3" cy="258.7" r="1.25"/>
<circle cx="629.3" cy="302.5" r="1.25"/>
<circle cx="646.1" cy="280.6" r="1.25"/>
<circle cx="617.9" cy="318.0" r="1.25"/>
<circle cx="640.8" cy="290.7" r="1.25"/>
<circle cx="601.5" cy="342.7" r="1.25"/>
<circle cx="637.1" cy="289.9" r="1.25"/>
<circle cx="597.0" cy="350.6" r="1.25"/>
<circle cx="597.2" cy="359.4" r="1.25"/>
<circle cx="594.6" cy="355.6" r="1.25"/>
<circle cx="613.3" cy="330.8" r="1.25"/>
<circle cx="582.3" cy="374.3" r="1.25"/>
<circle cx="633.6" cy="301.0" r="1.25"/>
<circle cx="673.2" cy="242.3" r="1.25"/>
<circle cx="640.8" cy="291.7" r="1.25"/>
<circle cx="635.1" cy="296.1" r="1.25"/>
<circle cx="639.1" cy="291.3" r="1.25"/>
<circle cx="586.2" cy="370.4" r="1.25"/>
<circle cx="628.9" cy="306.7" r="1.25"/>
<circle cx="656.7" cy="283.3" r="1.25"/>
<circle cx="615.0" cy="327.9" r="1.25"/>
<circle cx="635.2" cy="295.7" r="1.25"/>
<circle cx="608.3" cy="336.3" r="1.25"/>
<circle cx="581.3" cy="372.5" r="1.25"/>
<circle cx="610.3" cy="333.2" r="1.25"/>
<circle cx="581.3" cy="375.4" r="1.25"/>
<circle cx="650.7" cy="270.6" r="1.25"/>
<circle cx="628.3" cy="309.5" r="1.25"/>
<circle cx="660.9" cy="256.0" r="1.25"/>
<circle cx="624.4" cy="312.1" r="1.25"/>
<circle cx="613.5" cy="328.5" r="1.25"/>
<circle cx="644.2" cy="283.6" r="1.25"/>
<circle cx="631.6" cy="295.8" r="1.25"/>
<circle cx="651.9" cy="269.0" r="1.25"/>
<circle cx="640.4" cy="286.0" r="1.25"/>
<circle cx="654.6" cy="268.7" r="1.25"/>
<circle cx="585.2" cy="365.0" r="1.25"/>
<circle cx="629.5" cy="304.8" r="1.25"/>
<circle cx="591.0" cy="360.5" r="1.25"/>
<circle cx="592.5" cy="360.3" r="1.25"/>
<circle cx="617.9" cy="319.4" r="1.25"/>
<circle cx="659.8" cy="261.2" r="1.25"/>
<circle cx="622.3" cy="319.5" r="1.25"/>
<circle cx="601.9" cy="344.1" r="1.25"/>
<circle cx="594.4" cy="354.7" r="1.25"/>
<circle cx="646.4" cy="275.6" r="1.25"/>
<circle cx="601.1" cy="345.6" r="1.25"/>
<circle cx="666.4" cy="251.8" r="1.25"/>
<circle cx="653.2" cy="274.2" r="1.25"/>
<circle cx="625.3" cy="312.0" r="1.25"/>
<circle cx="674.1" cy="249.6" r="1.25"/>
<circle cx="591.8" cy="358.4" r="1.25"/>
<circle cx="626.9" cy="308.7" r="1.25"/>
<circle cx="604.1" cy="336.9" r="1.25"/>
<circle cx="590.4" cy="359.7" r="1.25"/>
<circle cx="609.3" cy="336.4" r="1.25"/>
<circle cx="613.0" cy="322.4" r="1.25"/>
<circle cx="633.1" cy="300.3" r="1.25"/>
<circle cx="622.1" cy="317.8" r="1.25"/>
<circle cx="651.3" cy="270.4" r="1.25"/>
<circle cx="627.8" cy="307.8" r="1.25"/>
<circle cx="625.4" cy="313.3" r="1.25"/>
<circle cx="648.0" cy="279.0" r="1.25"/>
<circle cx="636.9" cy="294.8" r="1.25"/>
<circle cx="614.9" cy="322.6" r="1.25"/>
<circle cx="598.5" cy="351.0" r="1.25"/>
<circle cx="592.5" cy="357.1" r="1.25"/>
<circle cx="644.5" cy="282.6" r="1.25"/>
<circle cx="638.7" cy="294.1" r="1.25"/>
<circle cx="626.4" cy="310.6" r="1.25"/>
<circle cx="624.4" cy="311.2" r="1.25"/>
<circle cx="652.9" cy="273.4" r="1.25"/>
<circle cx="635.2" cy="297.9" r="1.25"/>
<circle cx="675.7" cy="240.5" r="1.25"/>
<circle cx="629.6" cy="305.5" r="1.25"/>
<circle cx="605.6" cy="336.0" r="1.25"/>
<circle cx="619.6" cy="318.4" r="1.25"/>
<circle cx="588.7" cy="363.3" r="1.25"/>
<circle cx="591.8" cy="358.8" r="1.25"/>
<circle cx="626.4" cy="312.7" r="1.25"/>
<circle cx="654.9" cy="266.9" r="1.25"/>
<circle cx="581.5" cy="373.9" r="1.25"/>
<circle cx="589.4" cy="361.1" r="1.25"/>
<circle cx="606.6" cy="337.7" r="1.25"/>
<circle cx="643.3" cy="286.8" r="1.25"/>
<circle cx="646.6" cy="270.3" r="1.25"/>
<circle cx="613.5" cy="328.9" r="1.25"/>
<circle cx="634.0" cy="308.6" r="1.25"/>
<circle cx="632.2" cy="303.1" r="1.25"/>
<circle cx="636.1" cy="294.5" r="1.25"/>
<circle cx="592.2" cy="358.9" r="1.25"/>
<circle cx="593.4" cy="356.8" r="1.25"/>
<circle cx="585.7" cy="368.5" r="1.25"/>
<circle cx="657.9" cy="263.5" r="1.25"/>
<circle cx="594.1" cy="356.3" r="1.25"/>
<circle cx="669.1" cy="249.8" r="1.25"/>
<circle cx="653.4" cy="269.7" r="1.25"/>
<circle cx="635.8" cy="297.9" r="1.25"/>
<circle cx="667.7" cy="247.1" r="1.25"/>
<circle cx="624.5" cy="308.5" r="1.25"/>
<circle cx="589.1" cy="358.4" r="1.25"/>
<circle cx="615.5" cy="328.1" r="1.25"/>
<circle cx="670.0" cy="252.1" r="1.25"/>
<circle cx="655.4" cy="264.1" r="1.25"/>
<circle cx="611.1" cy="331.5" r="1.25"/>
<circle cx="634.4" cy="299.4" r="1.25"/>
<circle cx="650.6" cy="279.6" r="1.25"/>
<circle cx="662.1" cy="260.5" r="1.25"/>
<circle cx="628.1" cy="308.5" r="1.25"/>
<circle cx="657.1" cy="265.7" r="1.25"/>
<circle cx="667.0" cy="248.6" r="1.25"/>
<circle cx="621.5" cy="317.2" r="1.25"/>
<circle cx="639.4" cy="291.2" r="1.25"/>
<circle cx="609.3" cy="331.8" r="1.25"/>
<circle cx="597.2" cy="352.6" r="1.25"/>
<circle cx="613.9" cy="325.7" r="1.25"/>
<circle cx="594.7" cy="354.8" r="1.25"/>
<circle cx="600.7" cy="346.5" r="1.25"/>
<circle cx="601.2" cy="343.4" r="1.25"/>
<circle cx="622.4" cy="312.5" r="1.25"/>
<circle cx="606.9" cy="337.6" r="1.25"/>
<circle cx="595.3" cy="358.1" r="1.25"/>
<circle cx="635.9" cy="297.5" r="1.25"/>
<circle cx="616.9" cy="324.0" r="1.25"/>
<circle cx="666.8" cy="254.5" r="1.25"/>
<circle cx="603.0" cy="346.8" r="1.25"/>
<circle cx="604.8" cy="340.5" r="1.25"/>
<circle cx="640.8" cy="288.3" r="1.25"/>
<circle cx="607.7" cy="335.7" r="1.25"/>
<circle cx="587.1" cy="363.6" r="1.25"/>
<circle cx="674.1" cy="256.5" r="1.25"/>
<circle cx="598.7" cy="348.2" r="1.25"/>
<circle cx="610.4" cy="333.3" r="1.25"/>
<circle cx="644.5" cy="286.1" r="1.25"/>
<circle cx="669.3" cy="250.5" r="1.25"/>
<circle cx="623.2" cy="316.8" r="1.25"/>
<circle cx="633.7" cy="299.5" r="1.25"/>
<circle cx="593.0" cy="357.1" r="1.25"/>
<circle cx="618.7" cy="320.4" r="1.25"/>
<circle cx="603.6" cy="341.9" r="1.25"/>
<circle cx="586.5" cy="362.5" r="1.25"/>
<circle cx="625.4" cy="312.5" r="1.25"/>
<circle cx="623.4" cy="314.6" r="1.25"/>
<circle cx="604.6" cy="341.4" r="1.25"/>
<circle cx="615.2" cy="325.1" r="1.25"/>
<circle cx="627.1" cy="305.5" r="1.25"/>
<circle cx="670.2" cy="245.1" r="1.25"/>
<circle cx="611.2" cy="319.5" r="1.25"/>
<circle cx="616.8" cy="324.0" r="1.25"/>
<circle cx="590.6" cy="360.6" r="1.25"/>
<circle cx="582.8" cy="370.2" r="1.25"/>
<circle cx="590.4" cy="355.5" r="1.25"/>
<circle cx="636.5" cy="297.9" r="1.25"/>
<circle cx="616.3" cy="324.2" r="1.25"/>
<circle cx="594.4" cy="354.7" r="1.25"/>
<circle cx="599.5" cy="350.5" r="1.25"/>
<circle cx="599.1" cy="350.9" r="1.25"/>
<circle cx="664.9" cy="249.5" r="1.25"/>
<circle cx="635.3" cy="299.1" r="1.25"/>
<circle cx="620.5" cy="320.7" r="1.25"/>
<circle cx="636.0" cy="296.2" r="1.25"/>
<circle cx="659.1" cy="263.2" r="1.25"/>
<circle cx="647.7" cy="280.3" r="1.25"/>
<circle cx="603.1" cy="345.3" r="1.25"/>
<circle cx="588.6" cy="365.9" r="1.25"/>
<circle cx="671.5" cy="241.9" r="1.25"/>
<circle cx="629.5" cy="310.9" r="1.25"/>
<circle cx="620.6" cy="319.8" r="1.25"/>
<circle cx="617.2" cy="323.9" r="1.25"/>
<circle cx="659.0" cy="262.0" r="1.25"/>
<circle cx="645.9" cy="279.4" r="1.25"/>
<circle cx="609.0" cy="334.3" r="1.25"/>
<circle cx="593.5" cy="356.8" r="1.25"/>
<circle cx="633.2" cy="300.2" r="1.25"/>
<circle cx="633.0" cy="303.1" r="1.25"/>
<circle cx="650.2" cy="275.9" r="1.25"/>
<circle cx="642.8" cy="289.0" r="1.25"/>
<circle cx="610.6" cy="332.2" r="1.25"/>
<circle cx="615.9" cy="322.9" r="1.25"/>
<circle cx="623.9" cy="312.6" r="1.25"/>
<circle cx="618.7" cy="322.7" r="1.25"/>
<circle cx="661.8" cy="257.7" r="1.25"/>
<circle cx="597.3" cy="351.5" r="1.25"/>
<circle cx="625.5" cy="311.7" r="1.25"/>
<circle cx="656.8" cy="271.8" r="1.25"/>
<circle cx="617.7" cy="324.3" r="1.25"/>
<circle cx="650.9" cy="276.2" r="1.25"/>
<circle cx="633.0" cy="293.2" r="1.25"/>
<circle cx="590.5" cy="360.2" r="1.25"/>
<circle cx="642.8" cy="283.8" r="1.25"/>
<circle cx="581.6" cy="373.9" r="1.25"/>
<circle cx="632.5" cy="302.7" r="1.25"/>
<circle cx="610.9" cy="332.6" r="1.25"/>
<circle cx="599.0" cy="349.4" r="1.25"/>
<circle cx="612.2" cy="331.1" r="1.25"/>
<circle cx="639.1" cy="290.5" r="1.25"/>
<circle cx="593.4" cy="355.7" r="1.25"/>
<circle cx="673.5" cy="239.1" r="1.25"/>
<circle cx="597.4" cy="352.7" r="1.25"/>
<circle cx="666.2" cy="254.8" r="1.25"/>
<circle cx="660.3" cy="262.7" r="1.25"/>
<circle cx="671.6" cy="247.1" r="1.25"/>
<circle cx="596.2" cy="350.7" r="1.25"/>
<circle cx="649.9" cy="272.5" r="1.25"/>
<circle cx="632.9" cy="304.5" r="1.25"/>
<circle cx="649.6" cy="276.7" r="1.25"/>
<circle cx="638.2" cy="300.6" r="1.25"/>
<circle cx="614.9" cy="326.3" r="1.25"/>
<circle cx="655.0" cy="266.4" r="1.25"/>
<circle cx="626.1" cy="308.8" r="1.25"/>
<circle cx="623.3" cy="316.3" r="1.25"/>
<circle cx="652.6" cy="269.9" r="1.25"/>
<circle cx="656.0" cy="267.6" r="1.25"/>
<circle cx="652.5" cy="270.3" r="1.25"/>
<circle cx="604.4" cy="344.0" r="1.25"/>
<circle cx="626.5" cy="313.2" r="1.25"/>
<circle cx="625.6" cy="309.3" r="1.25"/>
<circle cx="587.1" cy="365.2" r="1.25"/>
<circle cx="603.8" cy="343.5" r="1.25"/>
<circle cx="611.6" cy="330.9" r="1.25"/>
<circle cx="630.1" cy="308.5" r="1.25"/>
<circle cx="584.6" cy="369.5" r="1.25"/>
<circle cx="634.5" cy="298.2" r="1.25"/>
<circle cx="643.8" cy="283.2" r="1.25"/>
<circle cx="637.7" cy="295.3" r="1.25"/>
<circle cx="599.6" cy="351.4" r="1.25"/>
<circle cx="631.1" cy="300.3" r="1.25"/>
<circle cx="651.7" cy="274.2" r="1.25"/>
<circle cx="587.9" cy="365.2" r="1.25"/>
<circle cx="580.9" cy="374.1" r="1.25"/>
<circle cx="580.2" cy="374.7" r="1.25"/>
<circle cx="600.4" cy="347.5" r="1.25"/>
<circle cx="621.2" cy="316.4" r="1.25"/>
<circle cx="587.4" cy="364.6" r="1.25"/>
<circle cx="674.8" cy="238.8" r="1.25"/>
<circle cx="640.5" cy="290.4" r="1.25"/>
<circle cx="584.2" cy="372.1" r="1.25"/>
<circle cx="613.7" cy="328.4" r="1.25"/>
<circle cx="601.7" cy="345.5" r="1.25"/>
<circle cx="638.7" cy="293.5" r="1.25"/>
<circle cx="597.5" cy="350.3" r="1.25"/>
<circle cx="635.8" cy="297.0" r="1.25"/>
<circle cx="643.2" cy="283.3" r="1.25"/>
<circle cx="607.5" cy="340.5" r="1.25"/>
<circle cx="625.6" cy="313.1" r="1.25"/>
<circle cx="622.5" cy="316.0" r="1.25"/>
<circle cx="631.7" cy="301.6" r="1.25"/>
<circle cx="636.2" cy="295.8" r="1.25"/>
<circle cx="611.0" cy="329.6" r="1.25"/>
<circle cx="600.8" cy="347.4" r="1.25"/>
<circle cx="672.5" cy="242.4" r="1.25"/>
<circle cx="614.7" cy="328.9" r="1.25"/>
<circle cx="660.1" cy="260.0" r="1.25"/>
<circle cx="584.2" cy="369.8" r="1.25"/>
<circle cx="649.6" cy="278.5" r="1.25"/>
<circle cx="663.6" cy="259.1" r="1.25"/>
<circle cx="643.5" cy="287.7" r="1.25"/>
<circle cx="656.2" cy="270.1" r="1.25"/>
<circle cx="626.4" cy="308.0" r="1.25"/>
<circle cx="649.4" cy="281.9" r="1.25"/>
<circle cx="611.9" cy="331.2" r="1.25"/>
<circle cx="581.6" cy="373.0" r="1.25"/>
<circle cx="625.9" cy="310.4" r="1.25"/>
<circle cx="651.4" cy="270.3" r="1.25"/>
<circle cx="650.5" cy="277.4" r="1.25"/>
<circle cx="608.6" cy="335.2" r="1.25"/>
<circle cx="600.9" cy="343.2" r="1.25"/>
<circle cx="594.0" cy="357.9" r="1.25"/>
<circle cx="637.7" cy="293.5" r="1.25"/>
<circle cx="610.8" cy="330.2" r="1.25"/>
<circle cx="584.4" cy="368.9" r="1.25"/>
<circle cx="606.5" cy="339.0" r="1.25"/>
<circle cx="586.9" cy="367.0" r="1.25"/>
<circle cx="603.1" cy="342.7" r="1.25"/>
<circle cx="650.4" cy="277.4" r="1.25"/>
<circle cx="606.5" cy="337.9" r="1.25"/>
<circle cx="599.7" cy="347.3" r="1.25"/>
<circle cx="671.0" cy="245.3" r="1.25"/>
<circle cx="593.0" cy="364.9" r="1.25"/>
<circle cx="629.4" cy="298.3" r="1.25"/>
<circle cx="649.1" cy="277.0" r="1.25"/>
<circle cx="615.7" cy="326.0" r="1.25"/>
<circle cx="626.9" cy="307.1" r="1.25"/>
<circle cx="659.0" cy="259.6" r="1.25"/>
<circle cx="612.0" cy="329.2" r="1.25"/>
<circle cx="587.2" cy="364.2" r="1.25"/>
<circle cx="612.8" cy="328.6" r="1.25"/>
<circle cx="645.3" cy="285.4" r="1.25"/>
<circle cx="657.6" cy="265.2" r="1.25"/>
<circle cx="599.8" cy="344.6" r="1.25"/>
<circle cx="604.9" cy="341.1" r="1.25"/>
<circle cx="615.7" cy="324.5" r="1.25"/>
<circle cx="618.6" cy="321.5" r="1.25"/>
<circle cx="607.1" cy="337.7" r="1.25"/>
<circle cx="634.9" cy="295.0" r="1.25"/>
<circle cx="655.9" cy="266.0" r="1.25"/>
<circle cx="613.4" cy="330.1" r="1.25"/>
<circle cx="620.7" cy="317.7" r="1.25"/>
<circle cx="594.2" cy="356.3" r="1.25"/>
<circle cx="640.5" cy="290.3" r="1.25"/>
<circle cx="590.5" cy="360.1" r="1.25"/>
<circle cx="610.9" cy="332.8" r="1.25"/>
<circle cx="632.6" cy="297.3" r="1.25"/>
<circle cx="645.9" cy="280.5" r="1.25"/>
<circle cx="657.0" cy="264.6" r="1.25"/>
<circle cx="625.0" cy="319.2" r="1.25"/>
<circle cx="649.6" cy="274.1" r="1.25"/>
<circle cx="653.1" cy="274.2" r="1.25"/>
<circle cx="591.5" cy="361.0" r="1.25"/>
<circle cx="600.6" cy="344.0" r="1.25"/>
<circle cx="603.7" cy="342.4" r="1.25"/>
<circle cx="641.6" cy="287.5" r="1.25"/>
<circle cx="603.6" cy="341.9" r="1.25"/>
<circle cx="648.0" cy="276.2" r="1.25"/>
<circle cx="629.9" cy="306.8" r="1.25"/>
<circle cx="590.8" cy="376.1" r="1.25"/>
<circle cx="655.9" cy="269.2" r="1.25"/>
<circle cx="591.0" cy="358.4" r="1.25"/>
<circle cx="624.6" cy="311.7" r="1.25"/>
<circle cx="625.3" cy="312.4" r="1.25"/>
<circle cx="632.8" cy="300.3" r="1.25"/>
<circle cx="619.1" cy="324.4" r="1.25"/>
<circle cx="666.8" cy="252.9" r="1.25"/>
<circle cx="644.1" cy="285.4" r="1.25"/>
<circle cx="661.7" cy="258.5" r="1.25"/>
<circle cx="624.1" cy="313.7" r="1.25"/>
<circle cx="620.1" cy="319.0" r="1.25"/>
<circle cx="644.6" cy="281.2" r="1.25"/>
<circle cx="618.7" cy="319.0" r="1.25"/>
<circle cx="605.7" cy="333.7" r="1.25"/>
<circle cx="603.3" cy="342.2" r="1.25"/>
<circle cx="604.0" cy="341.8" r="1.25"/>
<circle cx="640.3" cy="289.4" r="1.25"/>
<circle cx="630.6" cy="306.8" r="1.25"/>
<circle cx="638.1" cy="295.6" r="1.25"/>
<circle cx="605.5" cy="343.2" r="1.25"/>
<circle cx="641.1" cy="285.3" r="1.25"/>
<circle cx="592.4" cy="357.7" r="1.25"/>
<circle cx="650.9" cy="274.9" r="1.25"/>
<circle cx="625.1" cy="310.8" r="1.25"/>
<circle cx="656.5" cy="267.1" r="1.25"/>
<circle cx="606.8" cy="339.0" r="1.25"/>
<circle cx="638.1" cy="296.1" r="1.25"/>
<circle cx="626.7" cy="309.6" r="1.25"/>
<circle cx="626.2" cy="310.6" r="1.25"/>
<circle cx="606.8" cy="336.5" r="1.25"/>
<circle cx="657.1" cy="264.5" r="1.25"/>
<circle cx="649.9" cy="278.8" r="1.25"/>
<circle cx="634.9" cy="300.1" r="1.25"/>
<circle cx="618.9" cy="317.4" r="1.25"/>
<circle cx="583.0" cy="372.3" r="1.25"/>
<circle cx="636.5" cy="295.8" r="1.25"/>
<circle cx="594.2" cy="356.6" r="1.25"/>
<circle cx="648.7" cy="273.6" r="1.25"/>
<circle cx="648.6" cy="278.4" r="1.25"/>
<circle cx="613.6" cy="329.5" r="1.25"/>
<circle cx="596.0" cy="352.8" r="1.25"/>
<circle cx="602.8" cy="341.2" r="1.25"/>
<circle cx="583.4" cy="373.3" r="1.25"/>
<circle cx="632.0" cy="306.4" r="1.25"/>
<circle cx="594.6" cy="353.5" r="1.25"/>
<circle cx="650.6" cy="272.3" r="1.25"/>
<circle cx="629.7" cy="304.9" r="1.25"/>
<circle cx="633.3" cy="301.1" r="1.25"/>
<circle cx="670.1" cy="239.9" r="1.25"/>
<circle cx="618.6" cy="320.8" r="1.25"/>
<circle cx="615.0" cy="326.1" r="1.25"/>
<circle cx="642.0" cy="284.8" r="1.25"/>
<circle cx="660.5" cy="268.0" r="1.25"/>
<circle cx="640.5" cy="294.4" r="1.25"/>
<circle cx="600.5" cy="346.6" r="1.25"/>
<circle cx="642.8" cy="284.2" r="1.25"/>
<circle cx="601.6" cy="347.1" r="1.25"/>
<circle cx="579.8" cy="378.5" r="1.25"/>
<circle cx="669.3" cy="246.3" r="1.25"/>
<circle cx="580.7" cy="374.6" r="1.25"/>
<circle cx="634.7" cy="297.0" r="1.25"/>
<circle cx="658.1" cy="258.0" r="1.25"/>
<circle cx="635.6" cy="296.6" r="1.25"/>
<circle cx="657.2" cy="264.4" r="1.25"/>
<circle cx="599.5" cy="348.4" r="1.25"/>
<circle cx="591.3" cy="359.6" r="1.25"/>
<circle cx="671.7" cy="247.6" r="1.25"/>
<circle cx="649.5" cy="274.6" r="1.25"/>
<circle cx="598.9" cy="351.6" r="1.25"/>
<circle cx="604.0" cy="339.1" r="1.25"/>
<circle cx="620.4" cy="318.1" r="1.25"/>
<circle cx="637.8" cy="295.5" r="1.25"/>
<circle cx="622.5" cy="316.5" r="1.25"/>
<circle cx="596.9" cy="350.3" r="1.25"/>
<circle cx="596.5" cy="352.2" r="1.25"/>
<circle cx="666.2" cy="249.1" r="1.25"/>
<circle cx="629.4" cy="307.3" r="1.25"/>
<circle cx="661.6" cy="255.1" r="1.25"/>
<circle cx="617.6" cy="321.2" r="1.25"/>
<circle cx="653.5" cy="272.7" r="1.25"/>
<circle cx="598.8" cy="351.1" r="1.25"/>
<circle cx="605.0" cy="347.1" r="1.25"/>
<circle cx="663.2" cy="258.1" r="1.25"/>
<circle cx="613.0" cy="328.7" r="1.25"/>
<circle cx="604.7" cy="341.2" r="1.25"/>
<circle cx="612.4" cy="329.6" r="1.25"/>
<circle cx="616.6" cy="321.6" r="1.25"/>
<circle cx="649.9" cy="274.9" r="1.25"/>
<circle cx="644.9" cy="284.4" r="1.25"/>
<circle cx="668.5" cy="257.5" r="1.25"/>
<circle cx="608.9" cy="339.9" r="1.25"/>
<circle cx="652.5" cy="273.1" r="1.25"/>
<circle cx="646.5" cy="281.8" r="1.25"/>
<circle cx="613.6" cy="329.0" r="1.25"/>
<circle cx="617.7" cy="321.9" r="1.25"/>
<circle cx="639.8" cy="289.8" r="1.25"/>
<circle cx="634.9" cy="297.9" r="1.25"/>
<circle cx="629.1" cy="308.5" r="1.25"/>
<circle cx="632.8" cy="301.5" r="1.25"/>
<circle cx="650.4" cy="274.3" r="1.25"/>
<circle cx="620.2" cy="319.3" r="1.25"/>
<circle cx="590.8" cy="360.8" r="1.25"/>
<circle cx="591.9" cy="356.2" r="1.25"/>
<circle cx="655.4" cy="269.7" r="1.25"/>
<circle cx="622.6" cy="314.7" r="1.25"/>
<circle cx="633.2" cy="300.8" r="1.25"/>
<circle cx="624.4" cy="312.3" r="1.25"/>
<circle cx="610.9" cy="334.1" r="1.25"/>
<circle cx="632.0" cy="302.6" r="1.25"/>
<circle cx="613.2" cy="328.3" r="1.25"/>
<circle cx="620.1" cy="318.0" r="1.25"/>
<circle cx="642.7" cy="285.3" r="1.25"/>
<circle cx="614.2" cy="328.2" r="1.25"/>
<circle cx="626.1" cy="307.0" r="1.25"/>
<circle cx="619.3" cy="320.3" r="1.25"/>
<circle cx="663.3" cy="260.9" r="1.25"/>
<circle cx="652.2" cy="271.1" r="1.25"/>
<circle cx="592.3" cy="360.6" r="1.25"/>
<circle cx="609.6" cy="333.8" r="1.25"/>
<circle cx="616.4" cy="323.1" r="1.25"/>
<circle cx="642.7" cy="282.8" r="1.25"/>
<circle cx="607.9" cy="338.0" r="1.25"/>
<circle cx="636.8" cy="294.2" r="1.25"/>
<circle cx="623.5" cy="314.7" r="1.25"/>
<circle cx="645.6" cy="282.7" r="1.25"/>
<circle cx="596.0" cy="354.5" r="1.25"/>
<circle cx="603.9" cy="341.8" r="1.25"/>
<circle cx="596.8" cy="354.4" r="1.25"/>
<circle cx="632.0" cy="301.4" r="1.25"/>
<circle cx="637.7" cy="293.8" r="1.25"/>
<circle cx="586.1" cy="367.8" r="1.25"/>
<circle cx="594.2" cy="356.3" r="1.25"/>
<circle cx="594.4" cy="353.5" r="1.25"/>
<circle cx="650.5" cy="272.9" r="1.25"/>
<circle cx="630.3" cy="300.5" r="1.25"/>
<circle cx="604.5" cy="338.7" r="1.25"/>
<circle cx="619.1" cy="318.6" r="1.25"/>
<circle cx="668.6" cy="243.6" r="1.25"/>
<circle cx="600.4" cy="348.2" r="1.25"/>
<circle cx="647.4" cy="277.0" r="1.25"/>
<circle cx="632.9" cy="306.9" r="1.25"/>
<circle cx="595.3" cy="357.8" r="1.25"/>
<circle cx="666.1" cy="253.5" r="1.25"/>
<circle cx="670.8" cy="245.7" r="1.25"/>
<circle cx="658.2" cy="265.8" r="1.25"/>
<circle cx="597.1" cy="352.9" r="1.25"/>
<circle cx="675.2" cy="239.5" r="1.25"/>
<circle cx="665.3" cy="251.7" r="1.25"/>
<circle cx="616.4" cy="323.0" r="1.25"/>
<circle cx="668.2" cy="243.7" r="1.25"/>
<circle cx="653.9" cy="269.7" r="1.25"/>
<circle cx="643.4" cy="272.1" r="1.25"/>
<circle cx="604.6" cy="341.1" r="1.25"/>
<circle cx="642.6" cy="283.9" r="1.25"/>
<circle cx="617.8" cy="320.7" r="1.25"/>
<circle cx="600.9" cy="347.4" r="1.25"/>
<circle cx="615.7" cy="325.7" r="1.25"/>
<circle cx="669.3" cy="247.2" r="1.25"/>
<circle cx="614.9" cy="327.6" r="1.25"/>
<circle cx="600.4" cy="346.2" r="1.25"/>
<circle cx="669.4" cy="243.3" r="1.25"/>
<circle cx="653.7" cy="270.2" r="1.25"/>
<circle cx="619.5" cy="322.0" r="1.25"/>
<circle cx="581.1" cy="375.6" r="1.25"/>
<circle cx="599.3" cy="348.4" r="1.25"/>
<circle cx="642.7" cy="281.6" r="1.25"/>
<circle cx="629.1" cy="305.7" r="1.25"/>
<circle cx="658.5" cy="268.1" r="1.25"/>
<circle cx="622.4" cy="316.0" r="1.25"/>
<circle cx="666.9" cy="255.4" r="1.25"/>
<circle cx="605.6" cy="334.1" r="1.25"/>
<circle cx="671.9" cy="245.2" r="1.25"/>
<circle cx="623.7" cy="316.9" r="1.25"/>
<circle cx="614.6" cy="330.6" r="1.25"/>
<circle cx="604.8" cy="336.2" r="1.25"/>
<circle cx="617.6" cy="324.7" r="1.25"/>
<circle cx="637.8" cy="292.7" r="1.25"/>
<circle cx="610.8" cy="329.5" r="1.25"/>
<circle cx="641.0" cy="291.6" r="1.25"/>
<circle cx="631.4" cy="303.0" r="1.25"/>
<circle cx="583.0" cy="371.7" r="1.25"/>
<circle cx="648.8" cy="276.9" r="1.25"/>
<circle cx="651.0" cy="277.6" r="1.25"/>
<circle cx="632.1" cy="302.5" r="1.25"/>
<circle cx="580.9" cy="373.9" r="1.25"/>
<circle cx="610.3" cy="331.8" r="1.25"/>
<circle cx="612.2" cy="354.1" r="1.25"/>
<circle cx="608.4" cy="337.1" r="1.25"/>
<circle cx="640.4" cy="289.4" r="1.25"/>
<circle cx="596.4" cy="354.0" r="1.25"/>
<circle cx="648.2" cy="279.5" r="1.25"/>
<circle cx="662.9" cy="257.8" r="1.25"/>
<circle cx="594.1" cy="351.4" r="1.25"/>
<circle cx="613.9" cy="329.2" r="1.25"/>
<circle cx="609.2" cy="333.8" r="1.25"/>
<circle cx="660.3" cy="265.3" r="1.25"/>
<circle cx="673.0" cy="246.6" r="1.25"/>
<circle cx="625.8" cy="311.6" r="1.25"/>
<circle cx="614.7" cy="326.4" r="1.25"/>
<circle cx="629.4" cy="314.6" r="1.25"/>
<circle cx="593.3" cy="352.8" r="1.25"/>
<circle cx="610.9" cy="334.1" r="1.25"/>
<circle cx="612.0" cy="332.2" r="1.25"/>
<circle cx="612.1" cy="329.2" r="1.25"/>
<circle cx="599.5" cy="344.9" r="1.25"/>
<circle cx="626.3" cy="310.7" r="1.25"/>
<circle cx="610.5" cy="334.7" r="1.25"/>
<circle cx="612.3" cy="329.9" r="1.25"/>
<circle cx="637.7" cy="299.2" r="1.25"/>
<circle cx="581.9" cy="375.4" r="1.25"/>
<circle cx="618.6" cy="321.5" r="1.25"/>
<circle cx="635.2" cy="296.0" r="1.25"/>
<circle cx="634.8" cy="294.2" r="1.25"/>
<circle cx="646.5" cy="278.3" r="1.25"/>
<circle cx="637.9" cy="292.8" r="1.25"/>
<circle cx="611.0" cy="333.2" r="1.25"/>
<circle cx="597.1" cy="349.6" r="1.25"/>
<circle cx="640.4" cy="287.1" r="1.25"/>
<circle cx="629.8" cy="305.2" r="1.25"/>
<circle cx="664.5" cy="252.6" r="1.25"/>
<circle cx="674.8" cy="245.0" r="1.25"/>
<circle cx="629.6" cy="305.3" r="1.25"/>
<circle cx="595.5" cy="353.5" r="1.25"/>
<circle cx="642.9" cy="283.9" r="1.25"/>
<circle cx="643.8" cy="284.0" r="1.25"/>
<circle cx="672.8" cy="244.1" r="1.25"/>
<circle cx="591.3" cy="356.5" r="1.25"/>
<circle cx="673.7" cy="251.3" r="1.25"/>
<circle cx="584.3" cy="369.3" r="1.25"/>
<circle cx="586.7" cy="362.0" r="1.25"/>
<circle cx="661.1" cy="262.6" r="1.25"/>
<circle cx="595.2" cy="354.6" r="1.25"/>
<circle cx="630.8" cy="302.8" r="1.25"/>
<circle cx="590.4" cy="362.4" r="1.25"/>
<circle cx="613.9" cy="327.6" r="1.25"/>
<circle cx="625.1" cy="314.4" r="1.25"/>
<circle cx="592.4" cy="355.8" r="1.25"/>
<circle cx="632.4" cy="302.4" r="1.25"/>
<circle cx="612.4" cy="330.2" r="1.25"/>
<circle cx="625.8" cy="311.8" r="1.25"/>
<circle cx="618.0" cy="323.0" r="1.25"/>
<circle cx="631.2" cy="303.5" r="1.25"/>
<circle cx="629.6" cy="305.4" r="1.25"/>
<circle cx="654.6" cy="269.9" r="1.25"/>
<circle cx="580.7" cy="374.4" r="1.25"/>
<circle cx="621.1" cy="315.1" r="1.25"/>
<circle cx="611.0" cy="331.2" r="1.25"/>
<circle cx="616.3" cy="323.8" r="1.25"/>
<circle cx="659.4" cy="256.3" r="1.25"/>
<circle cx="651.4" cy="273.1" r="1.25"/>
<circle cx="628.2" cy="306.5" r="1.25"/>
<circle cx="590.1" cy="360.8" r="1.25"/>
<circle cx="587.1" cy="364.1" r="1.25"/>
<circle cx="627.6" cy="301.0" r="1.25"/>
<circle cx="643.5" cy="284.5" r="1.25"/>
<circle cx="653.6" cy="268.4" r="1.25"/>
<circle cx="635.6" cy="296.3" r="1.25"/>
<circle cx="601.5" cy="346.8" r="1.25"/>
<circle cx="611.7" cy="327.9" r="1.25"/>
<circle cx="649.8" cy="283.2" r="1.25"/>
<circle cx="591.9" cy="361.5" r="1.25"/>
<circle cx="619.3" cy="320.6" r="1.25"/>
<circle cx="656.9" cy="266.5" r="1.25"/>
<circle cx="623.2" cy="313.8" r="1.25"/>
<circle cx="643.8" cy="285.3" r="1.25"/>
<circle cx="654.0" cy="269.7" r="1.25"/>
<circle cx="637.1" cy="294.2" r="1.25"/>
<circle cx="647.5" cy="279.0" r="1.25"/>
<circle cx="602.4" cy="343.4" r="1.25"/>
<circle cx="607.0" cy="339.5" r="1.25"/>
<circle cx="628.0" cy="307.7" r="1.25"/>
<circle cx="644.8" cy="287.4" r="1.25"/>
<circle cx="654.1" cy="271.2" r="1.25"/>
<circle cx="610.6" cy="331.3" r="1.25"/>
<circle cx="619.3" cy="317.8" r="1.25"/>
<circle cx="600.7" cy="357.4" r="1.25"/>
<circle cx="631.5" cy="304.5" r="1.25"/>
<circle cx="586.5" cy="367.6" r="1.25"/>
<circle cx="625.2" cy="313.3" r="1.25"/>
<circle cx="622.9" cy="311.5" r="1.25"/>
<circle cx="594.6" cy="354.9" r="1.25"/>
<circle cx="672.1" cy="242.7" r="1.25"/>
<circle cx="642.3" cy="285.0" r="1.25"/>
<circle cx="595.2" cy="355.3" r="1.25"/>
<circle cx="592.9" cy="357.6" r="1.25"/>
<circle cx="584.2" cy="368.7" r="1.25"/>
<circle cx="613.5" cy="328.8" r="1.25"/>
<circle cx="633.8" cy="300.7" r="1.25"/>
<circle cx="657.9" cy="263.1" r="1.25"/>
<circle cx="589.7" cy="362.7" r="1.25"/>
<circle cx="618.2" cy="321.1" r="1.25"/>
<circle cx="631.2" cy="306.5" r="1.25"/>
<circle cx="635.5" cy="297.2" r="1.25"/>
<circle cx="604.1" cy="343.0" r="1.25"/>
<circle cx="587.6" cy="365.5" r="1.25"/>
<circle cx="629.4" cy="308.0" r="1.25"/>
<circle cx="625.0" cy="313.0" r="1.25"/>
<circle cx="662.9" cy="256.4" r="1.25"/>
<circle cx="608.1" cy="339.6" r="1.25"/>
<circle cx="636.1" cy="294.7" r="1.25"/>
<circle cx="614.0" cy="329.2" r="1.25"/>
<circle cx="656.4" cy="267.3" r="1.25"/>
<circle cx="630.5" cy="305.5" r="1.25"/>
<circle cx="652.9" cy="272.0" r="1.25"/>
<circle cx="587.6" cy="364.4" r="1.25"/>
<circle cx="647.6" cy="277.8" r="1.25"/>
<circle cx="585.5" cy="367.8" r="1.25"/>
<circle cx="674.8" cy="237.3" r="1.25"/>
<circle cx="648.1" cy="277.7" r="1.25"/>
<circle cx="625.8" cy="316.9" r="1.25"/>
<circle cx="646.5" cy="281.2" r="1.25"/>
<circle cx="614.2" cy="329.5" r="1.25"/>
<circle cx="657.4" cy="266.6" r="1.25"/>
<circle cx="588.1" cy="364.1" r="1.25"/>
<circle cx="623.0" cy="315.5" r="1.25"/>
<circle cx="652.1" cy="264.2" r="1.25"/>
<circle cx="590.3" cy="360.1" r="1.25"/>
<circle cx="598.4" cy="348.3" r="1.25"/>
<circle cx="619.2" cy="318.9" r="1.25"/>
<circle cx="624.6" cy="311.4" r="1.25"/>
<circle cx="649.0" cy="280.6" r="1.25"/>
<circle cx="648.9" cy="275.9" r="1.25"/>
<circle cx="658.4" cy="260.0" r="1.25"/>
<circle cx="671.0" cy="251.8" r="1.25"/>
<circle cx="659.5" cy="260.4" r="1.25"/>
<circle cx="631.3" cy="303.3" r="1.25"/>
<circle cx="659.3" cy="264.1" r="1.25"/>
<circle cx="648.7" cy="281.0" r="1.25"/>
<circle cx="640.9" cy="290.6" r="1.25"/>
<circle cx="594.7" cy="354.4" r="1.25"/>
<circle cx="640.8" cy="289.0" r="1.25"/>
<circle cx="622.0" cy="316.3" r="1.25"/>
<circle cx="634.9" cy="295.7" r="1.25"/>
<circle cx="602.0" cy="348.2" r="1.25"/>
<circle cx="619.6" cy="321.3" r="1.25"/>
<circle cx="625.8" cy="316.0" r="1.25"/>
<circle cx="605.4" cy="342.2" r="1.25"/>
<circle cx="619.2" cy="320.5" r="1.25"/>
<circle cx="646.0" cy="281.6" r="1.25"/>
<circle cx="605.4" cy="338.2" r="1.25"/>
<circle cx="668.1" cy="259.1" r="1.25"/>
<circle cx="602.9" cy="344.1" r="1.25"/>
<circle cx="629.7" cy="305.1" r="1.25"/>
<circle cx="601.1" cy="345.7" r="1.25"/>
<circle cx="667.4" cy="251.1" r="1.25"/>
<circle cx="672.0" cy="245.0" r="1.25"/>
<circle cx="650.7" cy="273.4" r="1.25"/>
<circle cx="649.4" cy="276.6" r="1.25"/>
<circle cx="624.8" cy="313.2" r="1.25"/>
<circle cx="607.6" cy="335.4" r="1.25"/>
<circle cx="603.5" cy="345.8" r="1.25"/>
<circle cx="676.4" cy="239.3" r="1.25"/>
<circle cx="660.9" cy="255.2" r="1.25"/>
<circle cx="629.2" cy="305.6" r="1.25"/>
<circle cx="614.4" cy="325.9" r="1.25"/>
<circle cx="658.8" cy="264.7" r="1.25"/>
<circle cx="613.3" cy="327.9" r="1.25"/>
<circle cx="624.8" cy="312.5" r="1.25"/>
<circle cx="598.8" cy="350.7" r="1.25"/>
<circle cx="634.5" cy="297.5" r="1.25"/>
<circle cx="599.8" cy="341.5" r="1.25"/>
<circle cx="665.6" cy="249.9" r="1.25"/>
<circle cx="595.2" cy="352.1" r="1.25"/>
<circle cx="606.2" cy="338.1" r="1.25"/>
<circle cx="598.9" cy="349.8" r="1.25"/>
<circle cx="640.4" cy="290.2" r="1.25"/>
<circle cx="607.2" cy="339.0" r="1.25"/>
<circle cx="662.4" cy="255.6" r="1.25"/>
<circle cx="593.1" cy="354.1" r="1.25"/>
<circle cx="651.5" cy="271.4" r="1.25"/>
<circle cx="635.0" cy="296.7" r="1.25"/>
<circle cx="592.8" cy="356.7" r="1.25"/>
<circle cx="601.1" cy="345.7" r="1.25"/>
<circle cx="639.1" cy="293.6" r="1.25"/>
<circle cx="585.7" cy="367.2" r="1.25"/>
<circle cx="640.6" cy="288.5" r="1.25"/>
<circle cx="649.1" cy="274.3" r="1.25"/>
<circle cx="674.9" cy="237.2" r="1.25"/>
<circle cx="648.7" cy="276.0" r="1.25"/>
<circle cx="675.2" cy="239.6" r="1.25"/>
<circle cx="607.8" cy="337.8" r="1.25"/>
<circle cx="665.2" cy="255.9" r="1.25"/>
<circle cx="641.9" cy="284.2" r="1.25"/>
<circle cx="592.7" cy="359.0" r="1.25"/>
<circle cx="633.0" cy="298.9" r="1.25"/>
<circle cx="593.0" cy="354.8" r="1.25"/>
<circle cx="645.6" cy="280.8" r="1.25"/>
<circle cx="635.5" cy="297.6" r="1.25"/>
<circle cx="596.9" cy="358.5" r="1.25"/>
<circle cx="624.5" cy="309.7" r="1.25"/>
<circle cx="652.6" cy="271.8" r="1.25"/>
<circle cx="657.8" cy="265.6" r="1.25"/>
<circle cx="602.2" cy="346.1" r="1.25"/>
<circle cx="585.0" cy="369.8" r="1.25"/>
<circle cx="636.3" cy="293.4" r="1.25"/>
<circle cx="649.6" cy="279.3" r="1.25"/>
<circle cx="606.9" cy="338.9" r="1.25"/>
<circle cx="630.0" cy="304.2" r="1.25"/>
<circle cx="614.3" cy="327.4" r="1.25"/>
<circle cx="656.0" cy="265.9" r="1.25"/>
<circle cx="601.2" cy="346.2" r="1.25"/>
<circle cx="611.1" cy="331.9" r="1.25"/>
<circle cx="595.3" cy="346.6" r="1.25"/>
<circle cx="632.1" cy="300.3" r="1.25"/>
<circle cx="645.8" cy="282.6" r="1.25"/>
<circle cx="640.8" cy="297.5" r="1.25"/>
<circle cx="607.5" cy="338.8" r="1.25"/>
<circle cx="596.4" cy="354.8" r="1.25"/>
<circle cx="635.8" cy="295.3" r="1.25"/>
<circle cx="645.4" cy="284.1" r="1.25"/>
<circle cx="654.3" cy="267.5" r="1.25"/>
<circle cx="599.8" cy="346.8" r="1.25"/>
<circle cx="652.5" cy="270.2" r="1.25"/>
<circle cx="600.4" cy="346.9" r="1.25"/>
<circle cx="613.5" cy="329.6" r="1.25"/>
<circle cx="588.0" cy="363.9" r="1.25"/>
<circle cx="643.5" cy="288.3" r="1.25"/>
<circle cx="656.6" cy="266.3" r="1.25"/>
<circle cx="616.5" cy="324.3" r="1.25"/>
<circle cx="636.2" cy="293.7" r="1.25"/>
<circle cx="654.2" cy="274.8" r="1.25"/>
<circle cx="604.4" cy="342.6" r="1.25"/>
<circle cx="637.3" cy="292.2" r="1.25"/>
<circle cx="649.2" cy="281.2" r="1.25"/>
<circle cx="609.9" cy="337.8" r="1.25"/>
<circle cx="625.6" cy="311.8" r="1.25"/>
<circle cx="634.3" cy="298.8" r="1.25"/>
<circle cx="635.5" cy="298.9" r="1.25"/>
<circle cx="670.8" cy="250.6" r="1.25"/>
<circle cx="619.1" cy="320.4" r="1.25"/>
<circle cx="628.9" cy="305.1" r="1.25"/>
<circle cx="647.3" cy="276.6" r="1.25"/>
<circle cx="591.8" cy="360.2" r="1.25"/>
<circle cx="587.4" cy="364.3" r="1.25"/>
<circle cx="591.3" cy="357.3" r="1.25"/>
<circle cx="626.1" cy="311.9" r="1.25"/>
<circle cx="610.3" cy="333.4" r="1.25"/>
<circle cx="587.8" cy="360.0" r="1.25"/>
<circle cx="599.0" cy="349.7" r="1.25"/>
<circle cx="598.5" cy="350.2" r="1.25"/>
<circle cx="671.2" cy="241.4" r="1.25"/>
<circle cx="586.0" cy="366.0" r="1.25"/>
<circle cx="652.9" cy="265.7" r="1.25"/>
<circle cx="619.4" cy="319.7" r="1.25"/>
<circle cx="605.5" cy="341.8" r="1.25"/>
<circle cx="596.2" cy="354.7" r="1.25"/>
<circle cx="599.0" cy="346.8" r="1.25"/>
<circle cx="655.7" cy="269.1" r="1.25"/>
<circle cx="635.9" cy="296.5" r="1.25"/>
<circle cx="640.2" cy="290.7" r="1.25"/>
<circle cx="671.0" cy="249.6" r="1.25"/>
<circle cx="592.5" cy="357.2" r="1.25"/>
<circle cx="641.7" cy="287.5" r="1.25"/>
<circle cx="624.2" cy="310.7" r="1.25"/>
<circle cx="585.6" cy="368.5" r="1.25"/>
<circle cx="588.3" cy="359.8" r="1.25"/>
<circle cx="587.2" cy="364.2" r="1.25"/>
<circle cx="628.2" cy="307.5" r="1.25"/>
<circle cx="653.0" cy="266.1" r="1.25"/>
<circle cx="625.5" cy="310.8" r="1.25"/>
<circle cx="648.9" cy="277.0" r="1.25"/>
<circle cx="631.7" cy="302.3" r="1.25"/>
<circle cx="610.2" cy="336.1" r="1.25"/>
<circle cx="654.0" cy="268.0" r="1.25"/>
<circle cx="614.6" cy="324.8" r="1.25"/>
<circle cx="609.4" cy="333.6" r="1.25"/>
<circle cx="653.2" cy="271.8" r="1.25"/>
<circle cx="628.4" cy="308.0" r="1.25"/>
<circle cx="652.1" cy="273.5" r="1.25"/>
<circle cx="620.9" cy="317.7" r="1.25"/>
<circle cx="581.1" cy="376.8" r="1.25"/>
<circle cx="651.3" cy="272.1" r="1.25"/>
<circle cx="603.6" cy="341.7" r="1.25"/>
<circle cx="638.9" cy="290.7" r="1.25"/>
<circle cx="642.2" cy="286.9" r="1.25"/>
<circle cx="591.1" cy="365.2" r="1.25"/>
<circle cx="645.4" cy="279.0" r="1.25"/>
<circle cx="606.7" cy="339.7" r="1.25"/>
<circle cx="639.6" cy="290.1" r="1.25"/>
<circle cx="647.4" cy="278.6" r="1.25"/>
<circle cx="649.8" cy="278.7" r="1.25"/>
<circle cx="656.2" cy="267.3" r="1.25"/>
<circle cx="668.1" cy="250.5" r="1.25"/>
<circle cx="619.4" cy="320.3" r="1.25"/>
<circle cx="625.8" cy="312.0" r="1.25"/>
<circle cx="651.9" cy="275.2" r="1.25"/>
<circle cx="622.5" cy="316.2" r="1.25"/>
<circle cx="612.8" cy="329.5" r="1.25"/>
<circle cx="603.9" cy="343.9" r="1.25"/>
<circle cx="603.5" cy="343.6" r="1.25"/>
<circle cx="652.7" cy="272.1" r="1.25"/>
<circle cx="662.0" cy="258.9" r="1.25"/>
<circle cx="589.3" cy="359.6" r="1.25"/>
<circle cx="626.5" cy="309.6" r="1.25"/>
<circle cx="656.8" cy="265.8" r="1.25"/>
<circle cx="623.3" cy="313.2" r="1.25"/>
<circle cx="598.1" cy="329.3" r="1.25"/>
<circle cx="636.3" cy="296.2" r="1.25"/>
<circle cx="609.5" cy="332.8" r="1.25"/>
<circle cx="639.2" cy="285.5" r="1.25"/>
<circle cx="599.3" cy="349.6" r="1.25"/>
<circle cx="639.8" cy="289.9" r="1.25"/>
<circle cx="609.0" cy="333.9" r="1.25"/>
<circle cx="638.5" cy="290.7" r="1.25"/>
<circle cx="588.8" cy="360.4" r="1.25"/>
<circle cx="607.0" cy="346.2" r="1.25"/>
<circle cx="631.9" cy="296.9" r="1.25"/>
<circle cx="627.8" cy="305.9" r="1.25"/>
<circle cx="612.6" cy="330.2" r="1.25"/>
<circle cx="674.7" cy="240.4" r="1.25"/>
<circle cx="632.3" cy="300.0" r="1.25"/>
<circle cx="640.7" cy="287.6" r="1.25"/>
<circle cx="627.4" cy="308.3" r="1.25"/>
<circle cx="624.7" cy="313.3" r="1.25"/>
<circle cx="659.0" cy="261.8" r="1.25"/>
<circle cx="601.1" cy="342.1" r="1.25"/>
<circle cx="658.7" cy="261.4" r="1.25"/>
<circle cx="587.4" cy="364.1" r="1.25"/>
<circle cx="582.1" cy="373.0" r="1.25"/>
<circle cx="622.0" cy="317.5" r="1.25"/>
<circle cx="639.4" cy="293.0" r="1.25"/>
<circle cx="651.5" cy="273.7" r="1.25"/>
<circle cx="670.8" cy="245.8" r="1.25"/>
<circle cx="650.1" cy="273.7" r="1.25"/>
<circle cx="624.0" cy="312.7" r="1.25"/>
<circle cx="623.8" cy="315.2" r="1.25"/>
<circle cx="633.6" cy="300.5" r="1.25"/>
<circle cx="605.2" cy="341.5" r="1.25"/>
<circle cx="598.9" cy="347.1" r="1.25"/>
<circle cx="624.1" cy="313.6" r="1.25"/>
<circle cx="621.4" cy="317.4" r="1.25"/>
<circle cx="660.5" cy="258.8" r="1.25"/>
<circle cx="587.6" cy="364.7" r="1.25"/>
<circle cx="641.7" cy="288.6" r="1.25"/>
<circle cx="646.1" cy="280.7" r="1.25"/>
<circle cx="601.8" cy="344.5" r="1.25"/>
<circle cx="645.4" cy="281.6" r="1.25"/>
<circle cx="597.3" cy="351.4" r="1.25"/>
<circle cx="582.4" cy="372.2" r="1.25"/>
<circle cx="613.0" cy="329.3" r="1.25"/>
<circle cx="638.8" cy="293.5" r="1.25"/>
<circle cx="608.9" cy="336.2" r="1.25"/>
<circle cx="641.4" cy="286.6" r="1.25"/>
<circle cx="618.0" cy="321.6" r="1.25"/>
<circle cx="656.9" cy="265.4" r="1.25"/>
<circle cx="610.1" cy="332.6" r="1.25"/>
<circle cx="585.7" cy="366.7" r="1.25"/>
<circle cx="660.3" cy="260.0" r="1.25"/>
<circle cx="609.2" cy="334.6" r="1.25"/>
<circle cx="627.1" cy="308.6" r="1.25"/>
<circle cx="612.9" cy="322.8" r="1.25"/>
<circle cx="627.9" cy="306.9" r="1.25"/>
<circle cx="658.0" cy="258.4" r="1.25"/>
<circle cx="580.7" cy="372.8" r="1.25"/>
<circle cx="586.3" cy="365.6" r="1.25"/>
<circle cx="596.6" cy="352.1" r="1.25"/>
<circle cx="669.5" cy="252.6" r="1.25"/>
<circle cx="671.9" cy="244.6" r="1.25"/>
<circle cx="641.7" cy="285.3" r="1.25"/>
<circle cx="582.8" cy="374.3" r="1.25"/>
<circle cx="623.3" cy="313.5" r="1.25"/>
<circle cx="598.6" cy="349.4" r="1.25"/>
<circle cx="620.3" cy="317.1" r="1.25"/>
<circle cx="602.1" cy="342.8" r="1.25"/>
<circle cx="582.9" cy="371.2" r="1.25"/>
<circle cx="655.3" cy="273.1" r="1.25"/>
<circle cx="646.5" cy="292.5" r="1.25"/>
<circle cx="668.0" cy="249.9" r="1.25"/>
<circle cx="643.5" cy="286.0" r="1.25"/>
<circle cx="589.0" cy="363.7" r="1.25"/>
<circle cx="609.7" cy="331.7" r="1.25"/>
<circle cx="626.1" cy="311.1" r="1.25"/>
<circle cx="639.7" cy="292.7" r="1.25"/>
<circle cx="655.9" cy="264.7" r="1.25"/>
<circle cx="605.4" cy="343.2" r="1.25"/>
<circle cx="625.0" cy="314.6" r="1.25"/>
<circle cx="604.5" cy="340.3" r="1.25"/>
<circle cx="585.7" cy="366.7" r="1.25"/>
<circle cx="631.2" cy="309.9" r="1.25"/>
<circle cx="618.8" cy="320.4" r="1.25"/>
<circle cx="633.9" cy="297.7" r="1.25"/>
<circle cx="609.7" cy="334.1" r="1.25"/>
<circle cx="608.9" cy="334.5" r="1.25"/>
<circle cx="641.8" cy="280.9" r="1.25"/>
<circle cx="658.5" cy="262.5" r="1.25"/>
<circle cx="662.8" cy="258.4" r="1.25"/>
<circle cx="650.2" cy="278.4" r="1.25"/>
<circle cx="659.0" cy="264.6" r="1.25"/>
<circle cx="617.0" cy="322.9" r="1.25"/>
<circle cx="617.0" cy="324.3" r="1.25"/>
<circle cx="643.8" cy="283.5" r="1.25"/>
<circle cx="617.9" cy="319.0" r="1.25"/>
<circle cx="634.5" cy="300.5" r="1.25"/>
<circle cx="601.3" cy="347.9" r="1.25"/>
<circle cx="643.0" cy="282.3" r="1.25"/>
<circle cx="658.7" cy="263.1" r="1.25"/>
<circle cx="595.5" cy="347.2" r="1.25"/>
<circle cx="597.2" cy="351.9" r="1.25"/>
<circle cx="650.8" cy="277.1" r="1.25"/>
<circle cx="587.6" cy="363.9" r="1.25"/>
<circle cx="659.7" cy="262.2" r="1.25"/>
<circle cx="665.7" cy="251.9" r="1.25"/>
<circle cx="668.7" cy="247.1" r="1.25"/>
<circle cx="616.8" cy="325.0" r="1.25"/>
<circle cx="645.1" cy="282.1" r="1.25"/>
<circle cx="667.7" cy="254.5" r="1.25"/>
<circle cx="641.8" cy="285.6" r="1.25"/>
<circle cx="603.2" cy="342.7" r="1.25"/>
<circle cx="634.3" cy="299.1" r="1.25"/>
<circle cx="649.4" cy="273.2" r="1.25"/>
<circle cx="593.4" cy="356.5" r="1.25"/>
<circle cx="584.9" cy="370.1" r="1.25"/>
<circle cx="599.5" cy="350.1" r="1.25"/>
<circle cx="643.7" cy="289.9" r="1.25"/>
<circle cx="603.9" cy="343.5" r="1.25"/>
<circle cx="621.6" cy="315.7" r="1.25"/>
<circle cx="619.5" cy="321.0" r="1.25"/>
<circle cx="595.5" cy="354.4" r="1.25"/>
<circle cx="598.1" cy="349.9" r="1.25"/>
<circle cx="591.9" cy="358.2" r="1.25"/>
<circle cx="668.3" cy="244.9" r="1.25"/>
<circle cx="601.9" cy="346.6" r="1.25"/>
<circle cx="593.9" cy="356.5" r="1.25"/>
<circle cx="608.9" cy="335.7" r="1.25"/>
<circle cx="640.1" cy="292.8" r="1.25"/>
<circle cx="657.6" cy="265.4" r="1.25"/>
<circle cx="646.4" cy="282.7" r="1.25"/>
<circle cx="647.1" cy="283.4" r="1.25"/>
<circle cx="592.4" cy="359.3" r="1.25"/>
<circle cx="623.0" cy="314.6" r="1.25"/>
<circle cx="638.6" cy="294.0" r="1.25"/>
<circle cx="613.2" cy="329.0" r="1.25"/>
<circle cx="670.9" cy="246.7" r="1.25"/>
<circle cx="595.5" cy="353.5" r="1.25"/>
<circle cx="671.3" cy="246.7" r="1.25"/>
<circle cx="633.1" cy="300.9" r="1.25"/>
<circle cx="648.2" cy="277.9" r="1.25"/>
<circle cx="665.1" cy="256.6" r="1.25"/>
<circle cx="617.8" cy="320.7" r="1.25"/>
<circle cx="592.6" cy="355.4" r="1.25"/>
<circle cx="611.0" cy="331.6" r="1.25"/>
<circle cx="608.5" cy="334.4" r="1.25"/>
<circle cx="583.8" cy="370.6" r="1.25"/>
<circle cx="592.9" cy="357.6" r="1.25"/>
<circle cx="652.5" cy="271.8" r="1.25"/>
<circle cx="615.6" cy="330.7" r="1.25"/>
<circle cx="649.2" cy="277.4" r="1.25"/>
<circle cx="659.6" cy="248.4" r="1.25"/>
<circle cx="589.9" cy="363.9" r="1.25"/>
<circle cx="591.5" cy="358.5" r="1.25"/>
<circle cx="610.5" cy="334.8" r="1.25"/>
<circle cx="616.7" cy="321.4" r="1.25"/>
<circle cx="639.4" cy="290.0" r="1.25"/>
<circle cx="638.2" cy="292.5" r="1.25"/>
<circle cx="661.0" cy="258.1" r="1.25"/>
<circle cx="614.3" cy="326.4" r="1.25"/>
<circle cx="632.6" cy="300.7" r="1.25"/>
<circle cx="604.6" cy="342.3" r="1.25"/>
<circle cx="631.3" cy="301.5" r="1.25"/>
<circle cx="639.0" cy="290.2" r="1.25"/>
<circle cx="673.2" cy="245.0" r="1.25"/>
<circle cx="626.1" cy="310.2" r="1.25"/>
<circle cx="624.8" cy="311.8" r="1.25"/>
<circle cx="643.3" cy="286.0" r="1.25"/>
<circle cx="612.3" cy="331.8" r="1.25"/>
<circle cx="620.9" cy="315.5" r="1.25"/>
<circle cx="597.1" cy="356.7" r="1.25"/>
<circle cx="616.8" cy="322.3" r="1.25"/>
<circle cx="588.3" cy="363.8" r="1.25"/>
<circle cx="672.2" cy="244.8" r="1.25"/>
<circle cx="669.6" cy="248.7" r="1.25"/>
<circle cx="632.2" cy="302.8" r="1.25"/>
<circle cx="654.2" cy="269.6" r="1.25"/>
<circle cx="652.8" cy="269.1" r="1.25"/>
<circle cx="587.9" cy="364.6" r="1.25"/>
<circle cx="673.9" cy="243.5" r="1.25"/>
<circle cx="625.8" cy="309.2" r="1.25"/>
<circle cx="619.0" cy="322.4" r="1.25"/>
<circle cx="668.2" cy="248.3" r="1.25"/>
<circle cx="601.1" cy="345.8" r="1.25"/>
<circle cx="612.2" cy="331.6" r="1.25"/>
<circle cx="634.2" cy="300.4" r="1.25"/>
<circle cx="600.5" cy="349.9" r="1.25"/>
<circle cx="632.5" cy="303.2" r="1.25"/>
<circle cx="631.9" cy="297.7" r="1.25"/>
<circle cx="667.2" cy="248.3" r="1.25"/>
<circle cx="650.0" cy="274.3" r="1.25"/>
<circle cx="593.7" cy="360.5" r="1.25"/>
<circle cx="634.9" cy="301.5" r="1.25"/>
<circle cx="606.1" cy="339.0" r="1.25"/>
<circle cx="637.5" cy="300.5" r="1.25"/>
<circle cx="621.8" cy="321.2" r="1.25"/>
<circle cx="623.2" cy="316.8" r="1.25"/>
<circle cx="660.2" cy="259.3" r="1.25"/>
<circle cx="584.2" cy="368.2" r="1.25"/>
<circle cx="638.5" cy="291.2" r="1.25"/>
<circle cx="590.3" cy="360.4" r="1.25"/>
<circle cx="583.6" cy="371.3" r="1.25"/>
<circle cx="595.4" cy="353.5" r="1.25"/>
<circle cx="639.3" cy="294.6" r="1.25"/>
<circle cx="645.4" cy="283.0" r="1.25"/>
<circle cx="619.6" cy="319.8" r="1.25"/>
<circle cx="602.5" cy="342.9" r="1.25"/>
<circle cx="611.8" cy="336.4" r="1.25"/>
<circle cx="618.1" cy="324.3" r="1.25"/>
<circle cx="604.6" cy="338.3" r="1.25"/>
<circle cx="629.5" cy="306.4" r="1.25"/>
<circle cx="661.2" cy="265.9" r="1.25"/>
<circle cx="630.0" cy="304.9" r="1.25"/>
<circle cx="648.3" cy="282.0" r="1.25"/>
<circle cx="598.3" cy="351.0" r="1.25"/>
<circle cx="633.5" cy="301.1" r="1.25"/>
<circle cx="593.2" cy="355.6" r="1.25"/>
<circle cx="589.7" cy="362.6" r="1.25"/>
<circle cx="660.1" cy="260.6" r="1.25"/>
<circle cx="648.3" cy="276.0" r="1.25"/>
<circle cx="603.8" cy="343.2" r="1.25"/>
<circle cx="646.0" cy="280.5" r="1.25"/>
<circle cx="587.9" cy="361.9" r="1.25"/>
<circle cx="594.5" cy="356.9" r="1.25"/>
<circle cx="667.9" cy="248.1" r="1.25"/>
<circle cx="623.9" cy="313.0" r="1.25"/>
<circle cx="610.5" cy="335.0" r="1.25"/>
<circle cx="622.1" cy="317.4" r="1.25"/>
<circle cx="674.6" cy="245.0" r="1.25"/>
<circle cx="640.9" cy="285.5" r="1.25"/>
<circle cx="607.7" cy="334.7" r="1.25"/>
<circle cx="604.7" cy="342.1" r="1.25"/>
<circle cx="639.8" cy="289.1" r="1.25"/>
<circle cx="602.3" cy="344.5" r="1.25"/>
<circle cx="675.0" cy="243.2" r="1.25"/>
<circle cx="610.1" cy="334.1" r="1.25"/>
<circle cx="665.4" cy="253.1" r="1.25"/>
<circle cx="623.0" cy="308.0" r="1.25"/>
<circle cx="653.0" cy="270.0" r="1.25"/>
<circle cx="629.8" cy="303.9" r="1.25"/>
<circle cx="632.6" cy="298.7" r="1.25"/>
<circle cx="660.9" cy="261.9" r="1.25"/>
<circle cx="622.0" cy="312.9" r="1.25"/>
<circle cx="637.3" cy="291.0" r="1.25"/>
<circle cx="580.2" cy="374.6" r="1.25"/>
<circle cx="624.9" cy="311.5" r="1.25"/>
<circle cx="671.9" cy="245.4" r="1.25"/>
<circle cx="587.6" cy="367.7" r="1.25"/>
<circle cx="610.3" cy="331.9" r="1.25"/>
<circle cx="635.9" cy="294.9" r="1.25"/>
<circle cx="596.7" cy="354.4" r="1.25"/>
<circle cx="669.0" cy="247.2" r="1.25"/>
<circle cx="597.3" cy="352.3" r="1.25"/>
<circle cx="619.7" cy="323.4" r="1.25"/>
<circle cx="600.4" cy="354.5" r="1.25"/>
<circle cx="580.2" cy="374.6" r="1.25"/>
<circle cx="651.6" cy="278.2" r="1.25"/>
<circle cx="621.2" cy="319.9" r="1.25"/>
<circle cx="638.1" cy="291.9" r="1.25"/>
<circle cx="662.3" cy="262.0" r="1.25"/>
<circle cx="666.4" cy="252.0" r="1.25"/>
<circle cx="626.0" cy="311.1" r="1.25"/>
<circle cx="623.1" cy="323.4" r="1.25"/>
<circle cx="649.6" cy="277.4" r="1.25"/>
<circle cx="585.4" cy="366.6" r="1.25"/>
<circle cx="581.4" cy="374.0" r="1.25"/>
<circle cx="634.9" cy="299.8" r="1.25"/>
<circle cx="591.6" cy="359.6" r="1.25"/>
<circle cx="669.3" cy="244.7" r="1.25"/>
<circle cx="642.2" cy="282.9" r="1.25"/>
<circle cx="586.4" cy="366.3" r="1.25"/>
<circle cx="665.1" cy="254.1" r="1.25"/>
<circle cx="603.0" cy="347.5" r="1.25"/>
<circle cx="626.7" cy="305.9" r="1.25"/>
<circle cx="629.2" cy="304.1" r="1.25"/>
<circle cx="626.3" cy="309.1" r="1.25"/>
<circle cx="598.8" cy="351.6" r="1.25"/>
<circle cx="614.6" cy="326.2" r="1.25"/>
<circle cx="644.4" cy="281.3" r="1.25"/>
<circle cx="587.3" cy="369.8" r="1.25"/>
<circle cx="650.9" cy="275.3" r="1.25"/>
<circle cx="601.3" cy="356.6" r="1.25"/>
<circle cx="607.8" cy="336.5" r="1.25"/>
<circle cx="651.1" cy="273.0" r="1.25"/>
<circle cx="637.2" cy="294.0" r="1.25"/>
<circle cx="607.6" cy="337.7" r="1.25"/>
<circle cx="653.8" cy="270.5" r="1.25"/>
<circle cx="597.9" cy="353.6" r="1.25"/>
<circle cx="613.4" cy="329.4" r="1.25"/>
<circle cx="639.4" cy="296.4" r="1.25"/>
<circle cx="597.3" cy="351.7" r="1.25"/>
<circle cx="627.7" cy="308.1" r="1.25"/>
<circle cx="659.4" cy="261.4" r="1.25"/>
<circle cx="629.1" cy="300.6" r="1.25"/>
<circle cx="626.1" cy="317.1" r="1.25"/>
<circle cx="610.7" cy="321.3" r="1.25"/>
<circle cx="648.9" cy="279.2" r="1.25"/>
<circle cx="626.8" cy="309.3" r="1.25"/>
<circle cx="581.5" cy="374.1" r="1.25"/>
<circle cx="600.3" cy="344.8" r="1.25"/>
<circle cx="625.9" cy="304.8" r="1.25"/>
<circle cx="606.1" cy="339.7" r="1.25"/>
<circle cx="625.6" cy="311.2" r="1.25"/>
<circle cx="629.4" cy="309.8" r="1.25"/>
<circle cx="648.8" cy="282.7" r="1.25"/>
<circle cx="631.8" cy="297.2" r="1.25"/>
<circle cx="652.6" cy="271.4" r="1.25"/>
<circle cx="628.6" cy="307.4" r="1.25"/>
<circle cx="597.2" cy="352.2" r="1.25"/>
<circle cx="601.5" cy="345.3" r="1.25"/>
<circle cx="582.9" cy="371.9" r="1.25"/>
<circle cx="662.3" cy="259.4" r="1.25"/>
<circle cx="584.9" cy="369.7" r="1.25"/>
<circle cx="616.4" cy="324.4" r="1.25"/>
<circle cx="671.0" cy="241.1" r="1.25"/>
<circle cx="668.5" cy="248.3" r="1.25"/>
<circle cx="662.4" cy="256.7" r="1.25"/>
<circle cx="639.7" cy="294.2" r="1.25"/>
<circle cx="582.2" cy="370.0" r="1.25"/>
<circle cx="663.1" cy="261.0" r="1.25"/>
<circle cx="656.4" cy="267.1" r="1.25"/>
<circle cx="620.9" cy="315.7" r="1.25"/>
<circle cx="653.3" cy="271.5" r="1.25"/>
<circle cx="591.1" cy="362.4" r="1.25"/>
<circle cx="625.0" cy="313.3" r="1.25"/>
<circle cx="668.9" cy="248.1" r="1.25"/>
<circle cx="597.1" cy="350.2" r="1.25"/>
<circle cx="635.9" cy="298.9" r="1.25"/>
<circle cx="585.6" cy="367.6" r="1.25"/>
<circle cx="621.0" cy="317.7" r="1.25"/>
<circle cx="615.0" cy="327.5" r="1.25"/>
<circle cx="585.4" cy="366.9" r="1.25"/>
<circle cx="633.5" cy="300.3" r="1.25"/>
<circle cx="652.4" cy="272.0" r="1.25"/>
<circle cx="584.6" cy="366.8" r="1.25"/>
<circle cx="646.6" cy="279.0" r="1.25"/>
<circle cx="592.5" cy="355.1" r="1.25"/>
<circle cx="624.8" cy="312.0" r="1.25"/>
<circle cx="590.8" cy="356.2" r="1.25"/>
<circle cx="588.4" cy="364.1" r="1.25"/>
<circle cx="599.0" cy="346.9" r="1.25"/>
<circle cx="675.5" cy="238.4" r="1.25"/>
<circle cx="616.1" cy="321.4" r="1.25"/>
<circle cx="659.6" cy="260.6" r="1.25"/>
<circle cx="612.9" cy="329.6" r="1.25"/>
<circle cx="664.0" cy="255.6" r="1.25"/>
<circle cx="597.6" cy="349.9" r="1.25"/>
<circle cx="585.7" cy="367.0" r="1.25"/>
<circle cx="672.2" cy="247.1" r="1.25"/>
<circle cx="603.6" cy="343.6" r="1.25"/>
<circle cx="618.2" cy="323.5" r="1.25"/>
<circle cx="607.0" cy="338.9" r="1.25"/>
<circle cx="601.6" cy="346.0" r="1.25"/>
<circle cx="622.1" cy="317.1" r="1.25"/>
<circle cx="602.1" cy="348.3" r="1.25"/>
<circle cx="621.0" cy="328.5" r="1.25"/>
<circle cx="600.4" cy="347.9" r="1.25"/>
<circle cx="595.7" cy="355.1" r="1.25"/>
<circle cx="605.7" cy="339.9" r="1.25"/>
<circle cx="622.2" cy="316.5" r="1.25"/>
<circle cx="614.2" cy="327.9" r="1.25"/>
<circle cx="593.3" cy="359.2" r="1.25"/>
<circle cx="653.4" cy="273.8" r="1.25"/>
<circle cx="635.1" cy="297.0" r="1.25"/>
<circle cx="607.6" cy="338.1" r="1.25"/>
<circle cx="645.0" cy="283.8" r="1.25"/>
<circle cx="605.8" cy="338.4" r="1.25"/>
<circle cx="602.7" cy="344.3" r="1.25"/>
<circle cx="613.5" cy="329.1" r="1.25"/>
<circle cx="593.2" cy="356.1" r="1.25"/>
<circle cx="651.1" cy="272.5" r="1.25"/>
<circle cx="643.8" cy="283.8" r="1.25"/>
<circle cx="611.1" cy="328.3" r="1.25"/>
<circle cx="658.4" cy="266.0" r="1.25"/>
<circle cx="584.5" cy="364.8" r="1.25"/>
<circle cx="598.7" cy="345.9" r="1.25"/>
<circle cx="655.7" cy="265.6" r="1.25"/>
<circle cx="609.2" cy="335.0" r="1.25"/>
<circle cx="636.4" cy="296.1" r="1.25"/>
<circle cx="655.4" cy="267.7" r="1.25"/>
<circle cx="671.9" cy="243.2" r="1.25"/>
<circle cx="599.4" cy="349.0" r="1.25"/>
<circle cx="611.3" cy="335.3" r="1.25"/>
<circle cx="643.6" cy="283.8" r="1.25"/>
<circle cx="601.9" cy="343.8" r="1.25"/>
<circle cx="648.9" cy="280.3" r="1.25"/>
<circle cx="644.1" cy="284.9" r="1.25"/>
<circle cx="589.7" cy="360.9" r="1.25"/>
<circle cx="612.9" cy="330.6" r="1.25"/>
<circle cx="633.5" cy="299.7" r="1.25"/>
<circle cx="666.3" cy="253.7" r="1.25"/>
<circle cx="583.8" cy="369.5" r="1.25"/>
<circle cx="600.6" cy="347.5" r="1.25"/>
<circle cx="594.8" cy="354.4" r="1.25"/>
<circle cx="674.5" cy="245.1" r="1.25"/>
<circle cx="645.1" cy="282.0" r="1.25"/>
<circle cx="600.5" cy="345.1" r="1.25"/>
<circle cx="598.9" cy="346.1" r="1.25"/>
<circle cx="597.4" cy="349.6" r="1.25"/>
<circle cx="607.0" cy="335.1" r="1.25"/>
<circle cx="664.0" cy="247.7" r="1.25"/>
<circle cx="643.8" cy="285.5" r="1.25"/>
<circle cx="596.9" cy="353.2" r="1.25"/>
<circle cx="664.8" cy="249.5" r="1.25"/>
<circle cx="594.6" cy="354.4" r="1.25"/>
<circle cx="662.2" cy="257.0" r="1.25"/>
<circle cx="628.1" cy="309.4" r="1.25"/>
<circle cx="646.2" cy="289.4" r="1.25"/>
<circle cx="596.9" cy="350.7" r="1.25"/>
<circle cx="630.1" cy="302.2" r="1.25"/>
<circle cx="608.2" cy="337.5" r="1.25"/>
<circle cx="664.2" cy="259.1" r="1.25"/>
<circle cx="615.4" cy="325.1" r="1.25"/>
<circle cx="649.0" cy="276.2" r="1.25"/>
<circle cx="618.0" cy="322.1" r="1.25"/>
<circle cx="635.0" cy="297.2" r="1.25"/>
<circle cx="643.0" cy="287.2" r="1.25"/>
<circle cx="588.5" cy="362.5" r="1.25"/>
<circle cx="610.0" cy="331.4" r="1.25"/>
<circle cx="625.9" cy="315.6" r="1.25"/>
<circle cx="619.4" cy="320.9" r="1.25"/>
<circle cx="644.6" cy="284.1" r="1.25"/>
<circle cx="637.6" cy="295.3" r="1.25"/>
<circle cx="626.4" cy="310.5" r="1.25"/>
<circle cx="620.8" cy="317.3" r="1.25"/>
<circle cx="618.1" cy="320.5" r="1.25"/>
<circle cx="590.3" cy="361.7" r="1.25"/>
<circle cx="658.4" cy="260.1" r="1.25"/>
<circle cx="639.7" cy="287.0" r="1.25"/>
<circle cx="602.1" cy="345.7" r="1.25"/>
<circle cx="608.5" cy="340.2" r="1.25"/>
<circle cx="651.5" cy="269.2" r="1.25"/>
<circle cx="616.3" cy="323.7" r="1.25"/>
<circle cx="588.3" cy="363.1" r="1.25"/>
<circle cx="621.9" cy="316.6" r="1.25"/>
<circle cx="663.2" cy="256.8" r="1.25"/>
<circle cx="620.9" cy="317.3" r="1.25"/>
<circle cx="613.4" cy="329.1" r="1.25"/>
<circle cx="628.5" cy="306.9" r="1.25"/>
<circle cx="647.8" cy="280.2" r="1.25"/>
<circle cx="599.5" cy="346.8" r="1.25"/>
<circle cx="657.7" cy="263.5" r="1.25"/>
<circle cx="634.1" cy="297.9" r="1.25"/>
<circle cx="587.5" cy="373.9" r="1.25"/>
<circle cx="648.5" cy="275.5" r="1.25"/>
<circle cx="614.8" cy="321.9" r="1.25"/>
<circle cx="605.2" cy="341.0" r="1.25"/>
<circle cx="610.0" cy="333.4" r="1.25"/>
<circle cx="640.5" cy="288.9" r="1.25"/>
<circle cx="658.8" cy="263.8" r="1.25"/>
<circle cx="669.3" cy="252.4" r="1.25"/>
<circle cx="630.6" cy="303.8" r="1.25"/>
<circle cx="650.7" cy="274.3" r="1.25"/>
<circle cx="604.3" cy="343.6" r="1.25"/>
<circle cx="657.7" cy="266.0" r="1.25"/>
<circle cx="600.1" cy="348.1" r="1.25"/>
<circle cx="586.1" cy="370.6" r="1.25"/>
<circle cx="591.8" cy="358.7" r="1.25"/>
<circle cx="666.4" cy="253.9" r="1.25"/>
<circle cx="620.5" cy="317.8" r="1.25"/>
<circle cx="588.4" cy="363.2" r="1.25"/>
<circle cx="585.5" cy="366.1" r="1.25"/>
<circle cx="598.8" cy="348.5" r="1.25"/>
<circle cx="638.8" cy="291.5" r="1.25"/>
<circle cx="608.3" cy="336.2" r="1.25"/>
<circle cx="666.8" cy="252.0" r="1.25"/>
<circle cx="627.2" cy="308.8" r="1.25"/>
<circle cx="635.5" cy="301.6" r="1.25"/>
<circle cx="643.2" cy="284.6" r="1.25"/>
<circle cx="602.3" cy="344.1" r="1.25"/>
<circle cx="661.9" cy="256.1" r="1.25"/>
<circle cx="666.1" cy="246.3" r="1.25"/>
<circle cx="651.3" cy="275.6" r="1.25"/>
<circle cx="614.5" cy="328.5" r="1.25"/>
<circle cx="649.7" cy="273.4" r="1.25"/>
<circle cx="600.0" cy="352.9" r="1.25"/>
<circle cx="643.0" cy="292.2" r="1.25"/>
<circle cx="607.8" cy="334.0" r="1.25"/>
<circle cx="671.8" cy="248.4" r="1.25"/>
<circle cx="632.5" cy="301.2" r="1.25"/>
<circle cx="644.0" cy="284.3" r="1.25"/>
<circle cx="640.1" cy="294.8" r="1.25"/>
<circle cx="629.0" cy="301.4" r="1.25"/>
<circle cx="668.2" cy="261.5" r="1.25"/>
<circle cx="586.8" cy="364.5" r="1.25"/>
<circle cx="641.3" cy="283.9" r="1.25"/>
<circle cx="636.4" cy="296.2" r="1.25"/>
<circle cx="608.1" cy="336.3" r="1.25"/>
<circle cx="596.6" cy="351.0" r="1.25"/>
<circle cx="633.4" cy="297.2" r="1.25"/>
<circle cx="620.8" cy="319.9" r="1.25"/>
<circle cx="638.4" cy="294.3" r="1.25"/>
<circle cx="646.7" cy="279.8" r="1.25"/>
<circle cx="635.2" cy="298.1" r="1.25"/>
<circle cx="599.4" cy="346.3" r="1.25"/>
<circle cx="589.7" cy="360.6" r="1.25"/>
<circle cx="663.3" cy="254.2" r="1.25"/>
<circle cx="642.4" cy="286.2" r="1.25"/>
<circle cx="662.5" cy="257.3" r="1.25"/>
<circle cx="619.7" cy="320.5" r="1.25"/>
<circle cx="586.8" cy="364.8" r="1.25"/>
<circle cx="612.4" cy="329.5" r="1.25"/>
<circle cx="611.5" cy="331.8" r="1.25"/>
<circle cx="617.6" cy="324.4" r="1.25"/>
<circle cx="595.5" cy="355.3" r="1.25"/>
<circle cx="606.5" cy="338.4" r="1.25"/>
<circle cx="591.9" cy="356.7" r="1.25"/>
<circle cx="580.3" cy="374.9" r="1.25"/>
<circle cx="669.2" cy="248.0" r="1.25"/>
<circle cx="602.2" cy="339.2" r="1.25"/>
<circle cx="615.4" cy="327.8" r="1.25"/>
<circle cx="599.9" cy="348.2" r="1.25"/>
<circle cx="646.1" cy="281.8" r="1.25"/>
<circle cx="615.2" cy="325.7" r="1.25"/>
<circle cx="588.2" cy="363.8" r="1.25"/>
<circle cx="624.2" cy="313.6" r="1.25"/>
<circle cx="585.3" cy="368.7" r="1.25"/>
<circle cx="653.9" cy="269.7" r="1.25"/>
<circle cx="635.0" cy="299.7" r="1.25"/>
<circle cx="632.0" cy="302.0" r="1.25"/>
<circle cx="667.3" cy="250.6" r="1.25"/>
<circle cx="649.6" cy="276.3" r="1.25"/>
<circle cx="587.6" cy="364.8" r="1.25"/>
<circle cx="593.1" cy="359.2" r="1.25"/>
<circle cx="673.7" cy="240.6" r="1.25"/>
<circle cx="604.9" cy="338.3" r="1.25"/>
<circle cx="635.5" cy="297.4" r="1.25"/>
<circle cx="624.8" cy="307.9" r="1.25"/>
<circle cx="587.0" cy="365.6" r="1.25"/>
<circle cx="608.7" cy="334.7" r="1.25"/>
<circle cx="616.4" cy="326.4" r="1.25"/>
<circle cx="631.9" cy="302.0" r="1.25"/>
<circle cx="591.8" cy="361.1" r="1.25"/>
<circle cx="590.2" cy="360.6" r="1.25"/>
<circle cx="617.5" cy="323.9" r="1.25"/>
<circle cx="615.8" cy="326.4" r="1.25"/>
<circle cx="607.2" cy="337.6" r="1.25"/>
<circle cx="642.2" cy="285.2" r="1.25"/>
<circle cx="655.0" cy="266.1" r="1.25"/>
<circle cx="674.0" cy="243.2" r="1.25"/>
<circle cx="594.4" cy="354.0" r="1.25"/>
<circle cx="607.1" cy="336.4" r="1.25"/>
<circle cx="663.2" cy="258.5" r="1.25"/>
<circle cx="654.8" cy="258.6" r="1.25"/>
<circle cx="626.5" cy="308.2" r="1.25"/>
<circle cx="646.8" cy="285.3" r="1.25"/>
<circle cx="646.6" cy="281.9" r="1.25"/>
<circle cx="663.0" cy="255.4" r="1.25"/>
<circle cx="647.5" cy="281.9" r="1.25"/>
<circle cx="648.5" cy="282.4" r="1.25"/>
<circle cx="641.7" cy="287.2" r="1.25"/>
<circle cx="600.3" cy="346.8" r="1.25"/>
<circle cx="599.9" cy="347.9" r="1.25"/>
<circle cx="645.6" cy="279.3" r="1.25"/>
<circle cx="639.4" cy="295.2" r="1.25"/>
<circle cx="648.2" cy="279.2" r="1.25"/>
<circle cx="621.3" cy="315.4" r="1.25"/>
<circle cx="619.5" cy="321.0" r="1.25"/>
<circle cx="651.1" cy="270.2" r="1.25"/>
<circle cx="626.6" cy="310.1" r="1.25"/>
<circle cx="657.9" cy="266.7" r="1.25"/>
<circle cx="606.4" cy="338.6" r="1.25"/>
<circle cx="638.6" cy="295.7" r="1.25"/>
<circle cx="625.0" cy="312.5" r="1.25"/>
<circle cx="589.4" cy="361.2" r="1.25"/>
<circle cx="636.4" cy="296.5" r="1.25"/>
<circle cx="594.5" cy="353.7" r="1.25"/>
<circle cx="640.8" cy="289.8" r="1.25"/>
<circle cx="593.2" cy="352.5" r="1.25"/>
<circle cx="581.2" cy="372.7" r="1.25"/>
<circle cx="586.3" cy="366.8" r="1.25"/>
<circle cx="670.1" cy="248.1" r="1.25"/>
<circle cx="626.3" cy="310.4" r="1.25"/>
<circle cx="599.6" cy="349.7" r="1.25"/>
<circle cx="598.1" cy="355.4" r="1.25"/>
<circle cx="591.1" cy="360.6" r="1.25"/>
<circle cx="627.6" cy="300.7" r="1.25"/>
<circle cx="638.9" cy="291.9" r="1.25"/>
<circle cx="591.8" cy="362.9" r="1.25"/>
<circle cx="605.8" cy="338.5" r="1.25"/>
<circle cx="594.7" cy="353.3" r="1.25"/>
<circle cx="623.6" cy="310.2" r="1.25"/>
<circle cx="662.0" cy="252.2" r="1.25"/>
<circle cx="661.4" cy="260.8" r="1.25"/>
<circle cx="598.5" cy="349.5" r="1.25"/>
<circle cx="672.0" cy="237.3" r="1.25"/>
<circle cx="662.9" cy="254.4" r="1.25"/>
<circle cx="628.5" cy="306.8" r="1.25"/>
<circle cx="628.3" cy="308.6" r="1.25"/>
<circle cx="661.5" cy="256.6" r="1.25"/>
<circle cx="647.1" cy="281.3" r="1.25"/>
<circle cx="620.7" cy="317.6" r="1.25"/>
<circle cx="626.2" cy="309.7" r="1.25"/>
<circle cx="622.4" cy="316.6" r="1.25"/>
<circle cx="623.0" cy="314.0" r="1.25"/>
<circle cx="640.9" cy="289.7" r="1.25"/>
<circle cx="665.0" cy="251.1" r="1.25"/>
<circle cx="609.0" cy="339.2" r="1.25"/>
<circle cx="584.8" cy="367.7" r="1.25"/>
<circle cx="641.5" cy="289.8" r="1.25"/>
<circle cx="665.3" cy="251.4" r="1.25"/>
<circle cx="595.0" cy="353.8" r="1.25"/>
<circle cx="638.9" cy="293.8" r="1.25"/>
<circle cx="588.6" cy="360.0" r="1.25"/>
<circle cx="658.0" cy="266.1" r="1.25"/>
<circle cx="601.8" cy="342.3" r="1.25"/>
<circle cx="599.2" cy="345.8" r="1.25"/>
<circle cx="641.8" cy="286.7" r="1.25"/>
<circle cx="595.0" cy="354.0" r="1.25"/>
<circle cx="647.7" cy="281.5" r="1.25"/>
<circle cx="645.4" cy="283.2" r="1.25"/>
<circle cx="587.4" cy="364.1" r="1.25"/>
<circle cx="593.1" cy="356.0" r="1.25"/>
<circle cx="621.6" cy="317.4" r="1.25"/>
<circle cx="600.4" cy="345.3" r="1.25"/>
<circle cx="582.1" cy="373.2" r="1.25"/>
<circle cx="608.6" cy="335.2" r="1.25"/>
<circle cx="583.8" cy="368.6" r="1.25"/>
<circle cx="605.9" cy="338.9" r="1.25"/>
<circle cx="646.7" cy="280.2" r="1.25"/>
<circle cx="657.1" cy="266.9" r="1.25"/>
<circle cx="635.0" cy="298.3" r="1.25"/>
<circle cx="624.4" cy="314.7" r="1.25"/>
<circle cx="620.8" cy="312.7" r="1.25"/>
<circle cx="586.3" cy="367.5" r="1.25"/>
<circle cx="612.3" cy="328.5" r="1.25"/>
<circle cx="659.6" cy="256.8" r="1.25"/>
<circle cx="600.4" cy="347.9" r="1.25"/>
<circle cx="600.9" cy="346.7" r="1.25"/>
<circle cx="588.4" cy="361.9" r="1.25"/>
<circle cx="595.2" cy="353.6" r="1.25"/>
<circle cx="638.8" cy="291.6" r="1.25"/>
<circle cx="656.2" cy="269.1" r="1.25"/>
<circle cx="652.9" cy="266.0" r="1.25"/>
<circle cx="646.7" cy="279.9" r="1.25"/>
<circle cx="626.1" cy="311.1" r="1.25"/>
<circle cx="636.6" cy="296.2" r="1.25"/>
<circle cx="591.2" cy="358.5" r="1.25"/>
<circle cx="628.8" cy="308.7" r="1.25"/>
<circle cx="597.0" cy="350.7" r="1.25"/>
<circle cx="646.1" cy="283.2" r="1.25"/>
<circle cx="581.1" cy="375.1" r="1.25"/>
<circle cx="627.8" cy="304.0" r="1.25"/>
<circle cx="618.2" cy="322.7" r="1.25"/>
<circle cx="656.4" cy="266.3" r="1.25"/>
<circle cx="594.4" cy="354.7" r="1.25"/>
<circle cx="585.1" cy="369.2" r="1.25"/>
<circle cx="592.3" cy="358.4" r="1.25"/>
<circle cx="594.5" cy="349.7" r="1.25"/>
<circle cx="663.4" cy="257.7" r="1.25"/>
<circle cx="626.0" cy="309.9" r="1.25"/>
<circle cx="605.8" cy="338.8" r="1.25"/>
<circle cx="632.8" cy="307.7" r="1.25"/>
<circle cx="624.7" cy="313.1" r="1.25"/>
<circle cx="612.7" cy="330.9" r="1.25"/>
<circle cx="588.2" cy="362.5" r="1.25"/>
<circle cx="618.4" cy="319.0" r="1.25"/>
<circle cx="628.5" cy="306.4" r="1.25"/>
<circle cx="653.3" cy="274.4" r="1.25"/>
<circle cx="582.0" cy="371.1" r="1.25"/>
<circle cx="658.3" cy="265.4" r="1.25"/>
<circle cx="585.3" cy="367.1" r="1.25"/>
<circle cx="650.3" cy="277.1" r="1.25"/>
<circle cx="626.9" cy="308.8" r="1.25"/>
<circle cx="619.2" cy="321.3" r="1.25"/>
<circle cx="622.4" cy="316.0" r="1.25"/>
<circle cx="612.4" cy="327.9" r="1.25"/>
<circle cx="610.1" cy="337.6" r="1.25"/>
<circle cx="606.2" cy="337.7" r="1.25"/>
<circle cx="634.9" cy="298.2" r="1.25"/>
<circle cx="636.2" cy="293.0" r="1.25"/>
<circle cx="658.7" cy="263.1" r="1.25"/>
<circle cx="626.1" cy="311.1" r="1.25"/>
<circle cx="630.6" cy="303.0" r="1.25"/>
<circle cx="633.5" cy="304.7" r="1.25"/>
<circle cx="607.3" cy="337.5" r="1.25"/>
<circle cx="624.0" cy="313.9" r="1.25"/>
<circle cx="648.9" cy="279.1" r="1.25"/>
<circle cx="580.8" cy="371.5" r="1.25"/>
<circle cx="628.4" cy="316.3" r="1.25"/>
<circle cx="598.1" cy="348.3" r="1.25"/>
<circle cx="668.3" cy="244.3" r="1.25"/>
<circle cx="633.8" cy="296.6" r="1.25"/>
<circle cx="620.7" cy="318.4" r="1.25"/>
<circle cx="617.3" cy="328.2" r="1.25"/>
<circle cx="617.0" cy="324.5" r="1.25"/>
<circle cx="592.9" cy="356.0" r="1.25"/>
<circle cx="597.1" cy="352.7" r="1.25"/>
<circle cx="645.4" cy="279.6" r="1.25"/>
<circle cx="633.8" cy="299.1" r="1.25"/>
<circle cx="621.0" cy="317.1" r="1.25"/>
<circle cx="625.5" cy="310.9" r="1.25"/>
<circle cx="642.5" cy="288.6" r="1.25"/>
<circle cx="626.5" cy="311.0" r="1.25"/>
<circle cx="637.1" cy="294.3" r="1.25"/>
<circle cx="652.8" cy="272.8" r="1.25"/>
<circle cx="600.3" cy="346.0" r="1.25"/>
<circle cx="626.8" cy="309.7" r="1.25"/>
<circle cx="631.3" cy="304.1" r="1.25"/>
<circle cx="588.4" cy="364.6" r="1.25"/>
<circle cx="580.7" cy="376.5" r="1.25"/>
<circle cx="642.0" cy="287.2" r="1.25"/>
<circle cx="638.0" cy="292.5" r="1.25"/>
<circle cx="623.9" cy="315.0" r="1.25"/>
<circle cx="591.3" cy="361.0" r="1.25"/>
<circle cx="658.7" cy="262.9" r="1.25"/>
<circle cx="668.3" cy="249.5" r="1.25"/>
<circle cx="676.1" cy="241.2" r="1.25"/>
<circle cx="629.6" cy="304.5" r="1.25"/>
<circle cx="607.3" cy="336.6" r="1.25"/>
<circle cx="585.6" cy="369.0" r="1.25"/>
<circle cx="608.1" cy="336.3" r="1.25"/>
<circle cx="591.6" cy="360.3" r="1.25"/>
<circle cx="608.3" cy="337.0" r="1.25"/>
<circle cx="633.7" cy="300.5" r="1.25"/>
<circle cx="606.2" cy="339.2" r="1.25"/>
<circle cx="667.9" cy="254.1" r="1.25"/>
<circle cx="627.3" cy="309.2" r="1.25"/>
<circle cx="586.5" cy="367.6" r="1.25"/>
<circle cx="617.6" cy="323.1" r="1.25"/>
<circle cx="617.4" cy="330.3" r="1.25"/>
<circle cx="642.8" cy="281.9" r="1.25"/>
<circle cx="674.3" cy="239.0" r="1.25"/>
<circle cx="648.1" cy="278.7" r="1.25"/>
<circle cx="636.3" cy="293.7" r="1.25"/>
<circle cx="626.9" cy="308.0" r="1.25"/>
<circle cx="589.7" cy="359.9" r="1.25"/>
<circle cx="602.7" cy="343.6" r="1.25"/>
<circle cx="641.7" cy="285.8" r="1.25"/>
<circle cx="603.7" cy="340.6" r="1.25"/>
<circle cx="607.9" cy="335.8" r="1.25"/>
<circle cx="622.6" cy="314.3" r="1.25"/>
<circle cx="674.9" cy="238.5" r="1.25"/>
<circle cx="587.8" cy="364.8" r="1.25"/>
<circle cx="634.5" cy="299.5" r="1.25"/>
<circle cx="612.3" cy="328.8" r="1.25"/>
<circle cx="676.6" cy="242.2" r="1.25"/>
<circle cx="633.9" cy="294.2" r="1.25"/>
<circle cx="590.3" cy="362.0" r="1.25"/>
<circle cx="592.6" cy="357.1" r="1.25"/>
<circle cx="585.3" cy="369.4" r="1.25"/>
<circle cx="589.6" cy="362.1" r="1.25"/>
<circle cx="663.0" cy="254.8" r="1.25"/>
<circle cx="602.1" cy="345.4" r="1.25"/>
<circle cx="628.2" cy="307.5" r="1.25"/>
<circle cx="603.6" cy="342.8" r="1.25"/>
<circle cx="668.5" cy="246.2" r="1.25"/>
<circle cx="627.3" cy="309.7" r="1.25"/>
<circle cx="593.5" cy="355.2" r="1.25"/>
<circle cx="661.0" cy="259.8" r="1.25"/>
<circle cx="660.0" cy="263.1" r="1.25"/>
<circle cx="665.9" cy="246.9" r="1.25"/>
<circle cx="623.8" cy="314.8" r="1.25"/>
<circle cx="592.0" cy="358.3" r="1.25"/>
<circle cx="670.2" cy="249.0" r="1.25"/>
<circle cx="672.1" cy="237.2" r="1.25"/>
<circle cx="612.1" cy="333.4" r="1.25"/>
<circle cx="668.4" cy="255.4" r="1.25"/>
<circle cx="637.7" cy="292.7" r="1.25"/>
<circle cx="628.7" cy="301.9" r="1.25"/>
<circle cx="617.4" cy="322.3" r="1.25"/>
<circle cx="600.8" cy="351.0" r="1.25"/>
<circle cx="601.7" cy="347.2" r="1.25"/>
<circle cx="645.4" cy="279.7" r="1.25"/>
<circle cx="665.7" cy="249.7" r="1.25"/>
<circle cx="643.2" cy="286.8" r="1.25"/>
<circle cx="632.3" cy="300.8" r="1.25"/>
<circle cx="666.4" cy="254.1" r="1.25"/>
<circle cx="586.1" cy="366.3" r="1.25"/>
<circle cx="640.5" cy="289.4" r="1.25"/>
<circle cx="653.2" cy="274.4" r="1.25"/>
<circle cx="611.0" cy="332.7" r="1.25"/>
<circle cx="671.0" cy="247.0" r="1.25"/>
<circle cx="630.9" cy="303.2" r="1.25"/>
<circle cx="600.8" cy="346.1" r="1.25"/>
<circle cx="588.4" cy="362.9" r="1.25"/>
<circle cx="640.8" cy="289.8" r="1.25"/>
<circle cx="593.0" cy="356.6" r="1.25"/>
<circle cx="606.1" cy="339.8" r="1.25"/>
<circle cx="602.6" cy="343.5" r="1.25"/>
<circle cx="613.5" cy="329.8" r="1.25"/>
<circle cx="616.7" cy="324.4" r="1.25"/>
<circle cx="654.3" cy="264.7" r="1.25"/>
<circle cx="623.0" cy="317.2" r="1.25"/>
<circle cx="653.9" cy="274.8" r="1.25"/>
<circle cx="647.4" cy="279.9" r="1.25"/>
<circle cx="660.1" cy="263.7" r="1.25"/>
<circle cx="632.9" cy="301.5" r="1.25"/>
<circle cx="651.4" cy="273.7" r="1.25"/>
<circle cx="631.3" cy="307.2" r="1.25"/>
<circle cx="618.2" cy="326.9" r="1.25"/>
<circle cx="663.7" cy="254.9" r="1.25"/>
<circle cx="617.1" cy="321.3" r="1.25"/>
<circle cx="635.0" cy="296.8" r="1.25"/>
<circle cx="644.5" cy="284.5" r="1.25"/>
<circle cx="647.3" cy="280.1" r="1.25"/>
<circle cx="669.1" cy="251.7" r="1.25"/>
<circle cx="598.6" cy="349.5" r="1.25"/>
<circle cx="664.0" cy="256.0" r="1.25"/>
<circle cx="598.3" cy="349.0" r="1.25"/>
<circle cx="624.4" cy="315.1" r="1.25"/>
<circle cx="630.3" cy="310.0" r="1.25"/>
<circle cx="587.2" cy="366.5" r="1.25"/>
<circle cx="634.7" cy="300.9" r="1.25"/>
<circle cx="588.1" cy="365.4" r="1.25"/>
<circle cx="620.8" cy="317.3" r="1.25"/>
<circle cx="626.5" cy="313.8" r="1.25"/>
<circle cx="635.8" cy="298.1" r="1.25"/>
<circle cx="659.5" cy="262.0" r="1.25"/>
<circle cx="648.5" cy="278.6" r="1.25"/>
<circle cx="597.7" cy="350.1" r="1.25"/>
<circle cx="597.1" cy="351.1" r="1.25"/>
<circle cx="674.1" cy="242.3" r="1.25"/>
<circle cx="661.3" cy="256.4" r="1.25"/>
<circle cx="638.1" cy="292.8" r="1.25"/>
<circle cx="616.0" cy="324.9" r="1.25"/>
<circle cx="639.1" cy="290.1" r="1.25"/>
<circle cx="587.5" cy="360.3" r="1.25"/>
<circle cx="641.6" cy="289.0" r="1.25"/>
<circle cx="635.0" cy="297.3" r="1.25"/>
<circle cx="601.2" cy="345.4" r="1.25"/>
<circle cx="620.1" cy="319.8" r="1.25"/>
<circle cx="622.7" cy="316.8" r="1.25"/>
<circle cx="581.7" cy="374.3" r="1.25"/>
<circle cx="664.3" cy="254.6" r="1.25"/>
<circle cx="653.8" cy="271.1" r="1.25"/>
<circle cx="637.1" cy="297.9" r="1.25"/>
<circle cx="629.6" cy="308.6" r="1.25"/>
<circle cx="631.3" cy="304.0" r="1.25"/>
<circle cx="628.5" cy="319.7" r="1.25"/>
<circle cx="626.4" cy="307.5" r="1.25"/>
<circle cx="667.3" cy="243.0" r="1.25"/>
<circle cx="617.9" cy="336.5" r="1.25"/>
<circle cx="604.9" cy="340.4" r="1.25"/>
<circle cx="649.7" cy="285.8" r="1.25"/>
<circle cx="666.5" cy="258.6" r="1.25"/>
<circle cx="650.3" cy="279.6" r="1.25"/>
<circle cx="600.9" cy="346.6" r="1.25"/>
<circle cx="662.3" cy="261.0" r="1.25"/>
<circle cx="650.9" cy="275.3" r="1.25"/>
<circle cx="623.5" cy="310.9" r="1.25"/>
<circle cx="658.2" cy="271.4" r="1.25"/>
<circle cx="666.7" cy="257.2" r="1.25"/>
<circle cx="595.1" cy="360.6" r="1.25"/>
<circle cx="643.1" cy="285.9" r="1.25"/>
<circle cx="598.7" cy="341.3" r="1.25"/>
<circle cx="642.3" cy="263.0" r="1.25"/>
<circle cx="589.3" cy="350.9" r="1.25"/>
<circle cx="620.1" cy="328.5" r="1.25"/>
<circle cx="667.2" cy="255.7" r="1.25"/>
<circle cx="613.0" cy="341.4" r="1.25"/>
<circle cx="671.1" cy="260.3" r="1.25"/>
<circle cx="628.6" cy="319.1" r="1.25"/>
</g>
<line x1="571.90" y1="389.65" x2="684.00" y2="227.00" stroke="#000" stroke-width="1.4" />
<rect x="571.90" y="227.00" width="112.10" height="162.65" rx="0" fill="none" stroke="#222" stroke-width="1.2" />
<line x1="567.20" y1="342.60" x2="571.90" y2="342.60" stroke="#222" stroke-width="1.3" />
<text x="564.5" y="346.3" font-size="10.2" text-anchor="end" fill="#222" style="stroke-width:0.12px" transform="rotate(0.03 564.5 346.3)" >0</text>
<line x1="604.60" y1="389.65" x2="604.60" y2="394.15" stroke="#222" stroke-width="1.3" />
<text x="604.6" y="403.9" font-size="10.2" text-anchor="middle" fill="#222" style="stroke-width:0.12px" transform="rotate(0.03 604.6 403.9)" >0</text>
<line x1="567.20" y1="270.60" x2="571.90" y2="270.60" stroke="#222" stroke-width="1.3" />
<text x="564.5" y="274.3" font-size="10.2" text-anchor="end" fill="#222" style="stroke-width:0.12px" transform="rotate(0.03 564.5 274.3)" >100</text>
<line x1="654.30" y1="389.65" x2="654.30" y2="394.15" stroke="#222" stroke-width="1.3" />
<text x="654.3000000000001" y="403.9" font-size="10.2" text-anchor="middle" fill="#222" style="stroke-width:0.12px" transform="rotate(0.03 654.3000000000001 403.9)" >100</text>
<text x="628.2" y="416.3" font-size="11.35" text-anchor="middle" fill="#222" transform="rotate(0.03 628.2 416.3)" >Observed iRT (units)</text>
<text x="0" y="0" font-size="11.25" text-anchor="middle" fill="#222" transform="translate(544.1,308.0) rotate(-89.97) scale(1,1.04)">Predicted iRT (units)</text>
<text x="580.7" y="249.2" font-size="11.4" text-anchor="start" fill="#000" transform="rotate(0.03 580.7 249.2)" >MAE: 1.86</text>
<text x="580.7" y="262.5" font-size="11.4" text-anchor="start" fill="#000" transform="rotate(0.03 580.7 262.5)" >R<tspan dy="-4.4" font-size="8.4">2</tspan><tspan dy="4.4">: 0.9913</tspan></text>
<text x="580.7" y="275.6" font-size="11.4" text-anchor="start" fill="#000" transform="rotate(0.03 580.7 275.6)" >n: 3,358</text>
</svg>
</body></html>
